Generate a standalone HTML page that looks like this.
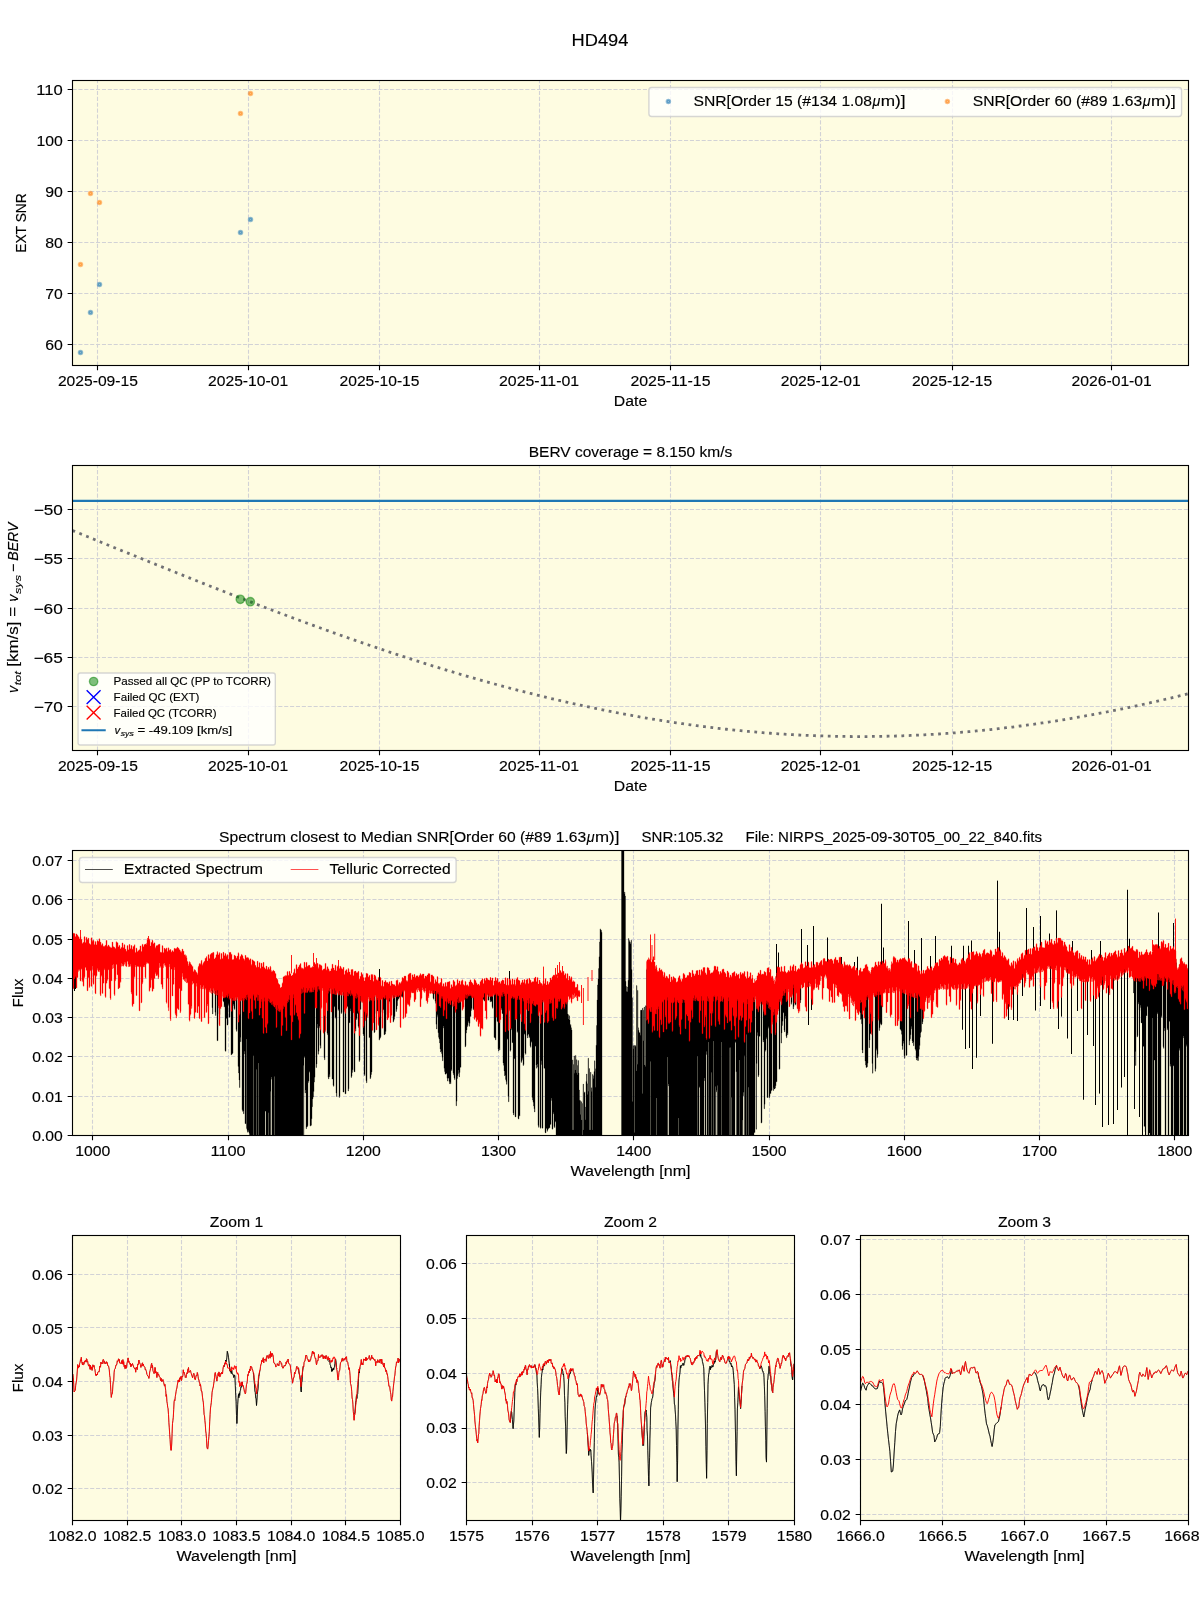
<!DOCTYPE html>
<html><head><meta charset="utf-8"><title>HD494</title>
<style>html,body{margin:0;padding:0;background:#fff}svg{display:block;will-change:transform}text{font-family:"Liberation Sans", sans-serif;white-space:pre;stroke:#000;stroke-width:0.14px}</style>
</head><body>
<svg width="1200" height="1600" viewBox="0 0 1200 1600" font-family='"Liberation Sans", sans-serif' fill="#000">
<defs>
<clipPath id="c0"><rect x="72.5" y="80.5" width="1116.0" height="285.0"/></clipPath>
<clipPath id="c1"><rect x="72.5" y="465.5" width="1116.0" height="285.0"/></clipPath>
<clipPath id="c2"><rect x="72.5" y="850.5" width="1116.0" height="285.0"/></clipPath>
<clipPath id="c3"><rect x="72.5" y="1235.5" width="328.0" height="285.0"/></clipPath>
<clipPath id="c4"><rect x="466.5" y="1235.5" width="328.0" height="285.0"/></clipPath>
<clipPath id="c5"><rect x="860.5" y="1235.5" width="328.0" height="285.0"/></clipPath>
</defs>
<rect width="1200" height="1600" fill="#fff"/>
<rect x="72.5" y="80.5" width="1116.0" height="285.0" fill="#FEFCE1"/>
<path d="M97.5 365.5V80.5M248.5 365.5V80.5M379.5 365.5V80.5M539.5 365.5V80.5M670.5 365.5V80.5M820.5 365.5V80.5M952.5 365.5V80.5M1111.5 365.5V80.5M72.5 344.5H1188.5M72.5 293.5H1188.5M72.5 242.5H1188.5M72.5 191.5H1188.5M72.5 140.5H1188.5M72.5 89.5H1188.5" stroke="#d2d2d6" stroke-width="1.11" stroke-dasharray="4.1 1.78" fill="none"/>
<g clip-path="url(#c0)">
<circle cx="80.5" cy="352.5" r="1.7" fill="#1f77b4" fill-opacity="0.5"/><circle cx="80.5" cy="352.5" r="1.7" fill="none" stroke="#1f77b4" stroke-opacity="0.5" stroke-width="2.08"/>
<circle cx="90.5" cy="312.4" r="1.7" fill="#1f77b4" fill-opacity="0.5"/><circle cx="90.5" cy="312.4" r="1.7" fill="none" stroke="#1f77b4" stroke-opacity="0.5" stroke-width="2.08"/>
<circle cx="99.5" cy="284.5" r="1.7" fill="#1f77b4" fill-opacity="0.5"/><circle cx="99.5" cy="284.5" r="1.7" fill="none" stroke="#1f77b4" stroke-opacity="0.5" stroke-width="2.08"/>
<circle cx="240.5" cy="232.4" r="1.7" fill="#1f77b4" fill-opacity="0.5"/><circle cx="240.5" cy="232.4" r="1.7" fill="none" stroke="#1f77b4" stroke-opacity="0.5" stroke-width="2.08"/>
<circle cx="250.5" cy="219.4" r="1.7" fill="#1f77b4" fill-opacity="0.5"/><circle cx="250.5" cy="219.4" r="1.7" fill="none" stroke="#1f77b4" stroke-opacity="0.5" stroke-width="2.08"/>
<circle cx="80.5" cy="264.4" r="1.7" fill="#ff7f0e" fill-opacity="0.5"/><circle cx="80.5" cy="264.4" r="1.7" fill="none" stroke="#ff7f0e" stroke-opacity="0.5" stroke-width="2.08"/>
<circle cx="90.5" cy="193.5" r="1.7" fill="#ff7f0e" fill-opacity="0.5"/><circle cx="90.5" cy="193.5" r="1.7" fill="none" stroke="#ff7f0e" stroke-opacity="0.5" stroke-width="2.08"/>
<circle cx="99.5" cy="202.5" r="1.7" fill="#ff7f0e" fill-opacity="0.5"/><circle cx="99.5" cy="202.5" r="1.7" fill="none" stroke="#ff7f0e" stroke-opacity="0.5" stroke-width="2.08"/>
<circle cx="240.5" cy="113.4" r="1.7" fill="#ff7f0e" fill-opacity="0.5"/><circle cx="240.5" cy="113.4" r="1.7" fill="none" stroke="#ff7f0e" stroke-opacity="0.5" stroke-width="2.08"/>
<circle cx="250.5" cy="93.5" r="1.7" fill="#ff7f0e" fill-opacity="0.5"/><circle cx="250.5" cy="93.5" r="1.7" fill="none" stroke="#ff7f0e" stroke-opacity="0.5" stroke-width="2.08"/>
<rect x="648.9" y="87.44" width="532.66" height="29.11" rx="2.8" ry="2.8" fill="#fff" fill-opacity="0.8" stroke="#ccc" stroke-opacity="0.8" stroke-width="1.39"/>
<circle cx="668.4" cy="101.5" r="1.7" fill="#1f77b4" fill-opacity="0.5"/><circle cx="668.4" cy="101.5" r="1.7" fill="none" stroke="#1f77b4" stroke-opacity="0.5" stroke-width="2.08"/>
<circle cx="947.4" cy="101.5" r="1.7" fill="#ff7f0e" fill-opacity="0.5"/><circle cx="947.4" cy="101.5" r="1.7" fill="none" stroke="#ff7f0e" stroke-opacity="0.5" stroke-width="2.08"/>
</g>
<path d="M97.5 365.5v4.86M248.5 365.5v4.86M379.5 365.5v4.86M539.5 365.5v4.86M670.5 365.5v4.86M820.5 365.5v4.86M952.5 365.5v4.86M1111.5 365.5v4.86M72.5 344.5h-4.86M72.5 293.5h-4.86M72.5 242.5h-4.86M72.5 191.5h-4.86M72.5 140.5h-4.86M72.5 89.5h-4.86" stroke="#000" stroke-width="1.11" fill="none"/>
<rect x="72.5" y="80.5" width="1116.0" height="285.0" fill="none" stroke="#000" stroke-width="1.11"/>
<rect x="72.5" y="465.5" width="1116.0" height="285.0" fill="#FEFCE1"/>
<path d="M97.5 750.5V465.5M248.5 750.5V465.5M379.5 750.5V465.5M539.5 750.5V465.5M670.5 750.5V465.5M820.5 750.5V465.5M952.5 750.5V465.5M1111.5 750.5V465.5M72.5 706.5H1188.5M72.5 657.5H1188.5M72.5 608.5H1188.5M72.5 558.5H1188.5M72.5 509.5H1188.5" stroke="#d2d2d6" stroke-width="1.11" stroke-dasharray="4.1 1.78" fill="none"/>
<g clip-path="url(#c1)">
<path d="M72.5 530.54L74.5 531.35L76.5 532.17L78.5 532.99L80.5 533.8L82.5 534.62L84.5 535.44L86.5 536.25L88.5 537.07L90.5 537.88L92.5 538.7L94.5 539.52L96.5 540.33L98.5 541.15L100.5 541.96L102.5 542.78L104.5 543.6L106.5 544.41L108.5 545.23L110.5 546.04L112.5 546.86L114.5 547.67L116.5 548.49L118.5 549.3L120.5 550.11L122.5 550.93L124.5 551.74L126.5 552.55L128.5 553.37L130.5 554.18L132.5 554.99L134.5 555.8L136.5 556.62L138.5 557.43L140.5 558.24L142.5 559.05L144.5 559.86L146.5 560.67L148.5 561.48L150.5 562.29L152.5 563.09L154.5 563.9L156.5 564.71L158.5 565.52L160.5 566.32L162.5 567.13L164.5 567.93L166.5 568.74L168.5 569.54L170.5 570.35L172.5 571.15L174.5 571.95L176.5 572.75L178.5 573.55L180.5 574.36L182.5 575.16L184.5 575.95L186.5 576.75L188.5 577.55L190.5 578.35L192.5 579.14L194.5 579.94L196.5 580.74L198.5 581.53L200.5 582.32L202.5 583.12L204.5 583.91L206.5 584.7L208.5 585.49L210.5 586.28L212.5 587.07L214.5 587.85L216.5 588.64L218.5 589.43L220.5 590.21L222.5 591L224.5 591.78L226.5 592.56L228.5 593.34L230.5 594.12L232.5 594.9L234.5 595.68L236.5 596.46L238.5 597.24L240.5 598.01L242.5 598.78L244.5 599.56L246.5 600.33L248.5 601.1L250.5 601.87L252.5 602.64L254.5 603.41L256.5 604.18L258.5 604.94L260.5 605.71L262.5 606.47L264.5 607.23L266.5 607.99L268.5 608.75L270.5 609.51L272.5 610.27L274.5 611.02L276.5 611.78L278.5 612.53L280.5 613.28L282.5 614.03L284.5 614.78L286.5 615.53L288.5 616.28L290.5 617.03L292.5 617.77L294.5 618.51L296.5 619.25L298.5 619.99L300.5 620.73L302.5 621.47L304.5 622.21L306.5 622.94L308.5 623.67L310.5 624.41L312.5 625.14L314.5 625.87L316.5 626.59L318.5 627.32L320.5 628.04L322.5 628.76L324.5 629.49L326.5 630.21L328.5 630.92L330.5 631.64L332.5 632.36L334.5 633.07L336.5 633.78L338.5 634.49L340.5 635.2L342.5 635.91L344.5 636.61L346.5 637.31L348.5 638.02L350.5 638.72L352.5 639.41L354.5 640.11L356.5 640.81L358.5 641.5L360.5 642.19L362.5 642.88L364.5 643.57L366.5 644.25L368.5 644.94L370.5 645.62L372.5 646.3L374.5 646.98L376.5 647.66L378.5 648.33L380.5 649.01L382.5 649.68L384.5 650.35L386.5 651.02L388.5 651.68L390.5 652.35L392.5 653.01L394.5 653.67L396.5 654.33L398.5 654.98L400.5 655.64L402.5 656.29L404.5 656.94L406.5 657.59L408.5 658.23L410.5 658.88L412.5 659.52L414.5 660.16L416.5 660.8L418.5 661.43L420.5 662.07L422.5 662.7L424.5 663.33L426.5 663.96L428.5 664.58L430.5 665.21L432.5 665.83L434.5 666.45L436.5 667.06L438.5 667.68L440.5 668.29L442.5 668.9L444.5 669.51L446.5 670.12L448.5 670.72L450.5 671.32L452.5 671.92L454.5 672.52L456.5 673.11L458.5 673.7L460.5 674.3L462.5 674.88L464.5 675.47L466.5 676.05L468.5 676.63L470.5 677.21L472.5 677.79L474.5 678.36L476.5 678.94L478.5 679.5L480.5 680.07L482.5 680.64L484.5 681.2L486.5 681.76L488.5 682.32L490.5 682.87L492.5 683.42L494.5 683.98L496.5 684.52L498.5 685.07L500.5 685.61L502.5 686.15L504.5 686.69L506.5 687.23L508.5 687.76L510.5 688.29L512.5 688.82L514.5 689.34L516.5 689.87L518.5 690.39L520.5 690.9L522.5 691.42L524.5 691.93L526.5 692.44L528.5 692.95L530.5 693.46L532.5 693.96L534.5 694.46L536.5 694.95L538.5 695.45L540.5 695.94L542.5 696.43L544.5 696.92L546.5 697.4L548.5 697.88L550.5 698.36L552.5 698.84L554.5 699.31L556.5 699.78L558.5 700.25L560.5 700.72L562.5 701.18L564.5 701.64L566.5 702.1L568.5 702.55L570.5 703L572.5 703.45L574.5 703.9L576.5 704.34L578.5 704.78L580.5 705.22L582.5 705.65L584.5 706.09L586.5 706.52L588.5 706.94L590.5 707.37L592.5 707.79L594.5 708.2L596.5 708.62L598.5 709.03L600.5 709.44L602.5 709.85L604.5 710.25L606.5 710.65L608.5 711.05L610.5 711.45L612.5 711.84L614.5 712.23L616.5 712.62L618.5 713L620.5 713.38L622.5 713.76L624.5 714.13L626.5 714.51L628.5 714.88L630.5 715.24L632.5 715.6L634.5 715.97L636.5 716.32L638.5 716.68L640.5 717.03L642.5 717.38L644.5 717.72L646.5 718.06L648.5 718.4L650.5 718.74L652.5 719.07L654.5 719.4L656.5 719.73L658.5 720.06L660.5 720.38L662.5 720.7L664.5 721.01L666.5 721.32L668.5 721.63L670.5 721.94L672.5 722.24L674.5 722.54L676.5 722.84L678.5 723.13L680.5 723.42L682.5 723.71L684.5 724L686.5 724.28L688.5 724.56L690.5 724.83L692.5 725.1L694.5 725.37L696.5 725.64L698.5 725.9L700.5 726.16L702.5 726.42L704.5 726.67L706.5 726.92L708.5 727.17L710.5 727.41L712.5 727.65L714.5 727.89L716.5 728.13L718.5 728.36L720.5 728.59L722.5 728.81L724.5 729.03L726.5 729.25L728.5 729.47L730.5 729.68L732.5 729.89L734.5 730.09L736.5 730.3L738.5 730.5L740.5 730.69L742.5 730.89L744.5 731.08L746.5 731.26L748.5 731.45L750.5 731.63L752.5 731.81L754.5 731.98L756.5 732.15L758.5 732.32L760.5 732.48L762.5 732.64L764.5 732.8L766.5 732.96L768.5 733.11L770.5 733.26L772.5 733.4L774.5 733.54L776.5 733.68L778.5 733.82L780.5 733.95L782.5 734.08L784.5 734.2L786.5 734.32L788.5 734.44L790.5 734.56L792.5 734.67L794.5 734.78L796.5 734.89L798.5 734.99L800.5 735.09L802.5 735.18L804.5 735.28L806.5 735.37L808.5 735.45L810.5 735.53L812.5 735.61L814.5 735.69L816.5 735.76L818.5 735.83L820.5 735.9L822.5 735.96L824.5 736.02L826.5 736.08L828.5 736.13L830.5 736.18L832.5 736.23L834.5 736.27L836.5 736.31L838.5 736.35L840.5 736.38L842.5 736.41L844.5 736.44L846.5 736.46L848.5 736.48L850.5 736.5L852.5 736.52L854.5 736.53L856.5 736.53L858.5 736.54L860.5 736.54L862.5 736.54L864.5 736.53L866.5 736.52L868.5 736.51L870.5 736.49L872.5 736.47L874.5 736.45L876.5 736.42L878.5 736.4L880.5 736.36L882.5 736.33L884.5 736.29L886.5 736.25L888.5 736.2L890.5 736.15L892.5 736.1L894.5 736.04L896.5 735.99L898.5 735.92L900.5 735.86L902.5 735.79L904.5 735.72L906.5 735.64L908.5 735.56L910.5 735.48L912.5 735.4L914.5 735.31L916.5 735.22L918.5 735.12L920.5 735.03L922.5 734.92L924.5 734.82L926.5 734.71L928.5 734.6L930.5 734.49L932.5 734.37L934.5 734.25L936.5 734.12L938.5 734L940.5 733.87L942.5 733.73L944.5 733.59L946.5 733.45L948.5 733.31L950.5 733.16L952.5 733.01L954.5 732.86L956.5 732.7L958.5 732.54L960.5 732.38L962.5 732.21L964.5 732.04L966.5 731.87L968.5 731.69L970.5 731.52L972.5 731.33L974.5 731.15L976.5 730.96L978.5 730.77L980.5 730.57L982.5 730.37L984.5 730.17L986.5 729.97L988.5 729.76L990.5 729.55L992.5 729.33L994.5 729.12L996.5 728.89L998.5 728.67L1000.5 728.44L1002.5 728.21L1004.5 727.98L1006.5 727.74L1008.5 727.5L1010.5 727.26L1012.5 727.01L1014.5 726.77L1016.5 726.51L1018.5 726.26L1020.5 726L1022.5 725.74L1024.5 725.47L1026.5 725.2L1028.5 724.93L1030.5 724.66L1032.5 724.38L1034.5 724.1L1036.5 723.82L1038.5 723.53L1040.5 723.24L1042.5 722.95L1044.5 722.65L1046.5 722.35L1048.5 722.05L1050.5 721.75L1052.5 721.44L1054.5 721.13L1056.5 720.81L1058.5 720.5L1060.5 720.18L1062.5 719.85L1064.5 719.53L1066.5 719.2L1068.5 718.87L1070.5 718.53L1072.5 718.19L1074.5 717.85L1076.5 717.51L1078.5 717.16L1080.5 716.81L1082.5 716.46L1084.5 716.1L1086.5 715.74L1088.5 715.38L1090.5 715.01L1092.5 714.64L1094.5 714.27L1096.5 713.9L1098.5 713.52L1100.5 713.14L1102.5 712.76L1104.5 712.38L1106.5 711.99L1108.5 711.6L1110.5 711.2L1112.5 710.8L1114.5 710.4L1116.5 710L1118.5 709.6L1120.5 709.19L1122.5 708.77L1124.5 708.36L1126.5 707.94L1128.5 707.52L1130.5 707.1L1132.5 706.68L1134.5 706.25L1136.5 705.82L1138.5 705.38L1140.5 704.94L1142.5 704.5L1144.5 704.06L1146.5 703.62L1148.5 703.17L1150.5 702.72L1152.5 702.27L1154.5 701.81L1156.5 701.35L1158.5 700.89L1160.5 700.42L1162.5 699.96L1164.5 699.49L1166.5 699.02L1168.5 698.54L1170.5 698.06L1172.5 697.58L1174.5 697.1L1176.5 696.61L1178.5 696.12L1180.5 695.63L1182.5 695.14L1184.5 694.64L1186.5 694.14L1188.5 693.64" fill="none" stroke="#707074" stroke-width="2.78" stroke-dasharray="2.78 4.58"/>
<path d="M72.5 500.9H1188.5" stroke="#1f77b4" stroke-width="2.08" fill="none"/>
<circle cx="240.3" cy="599.3" r="4.17" fill="#008000" fill-opacity="0.5"/><circle cx="240.3" cy="599.3" r="4.17" fill="none" stroke="#008000" stroke-opacity="0.5" stroke-width="1.39"/>
<circle cx="250.3" cy="601.7" r="4.17" fill="#008000" fill-opacity="0.5"/><circle cx="250.3" cy="601.7" r="4.17" fill="none" stroke="#008000" stroke-opacity="0.5" stroke-width="1.39"/>
<rect x="78.06" y="672.99" width="197.25" height="71.96" rx="2.2" ry="2.2" fill="#fff" fill-opacity="0.8" stroke="#ccc" stroke-opacity="0.8" stroke-width="1.39"/>
<circle cx="93.6" cy="681.5" r="4.17" fill="#008000" fill-opacity="0.5"/><circle cx="93.6" cy="681.5" r="4.17" fill="none" stroke="#008000" stroke-opacity="0.5" stroke-width="1.39"/>
<path d="M86.66 690.16L100.54 704.04M86.66 704.04L100.54 690.16" stroke="#0000ff" stroke-width="1.39" fill="none"/>
<path d="M86.66 705.66L100.54 719.54M86.66 719.54L100.54 705.66" stroke="#ff0000" stroke-width="1.39" fill="none"/>
<path d="M82.5 730.3H104.7" stroke="#1f77b4" stroke-width="2.08" stroke-linecap="square" fill="none"/>
</g>
<path d="M97.5 750.5v4.86M248.5 750.5v4.86M379.5 750.5v4.86M539.5 750.5v4.86M670.5 750.5v4.86M820.5 750.5v4.86M952.5 750.5v4.86M1111.5 750.5v4.86M72.5 706.5h-4.86M72.5 657.5h-4.86M72.5 608.5h-4.86M72.5 558.5h-4.86M72.5 509.5h-4.86" stroke="#000" stroke-width="1.11" fill="none"/>
<rect x="72.5" y="465.5" width="1116.0" height="285.0" fill="none" stroke="#000" stroke-width="1.11"/>
<rect x="72.5" y="850.5" width="1116.0" height="285.0" fill="#FEFCE1"/>
<path d="M92.5 1135.5V850.5M228.5 1135.5V850.5M363.5 1135.5V850.5M498.5 1135.5V850.5M633.5 1135.5V850.5M769.5 1135.5V850.5M904.5 1135.5V850.5M1039.5 1135.5V850.5M1174.5 1135.5V850.5M72.5 1135.5H1188.5M72.5 1096.5H1188.5M72.5 1056.5H1188.5M72.5 1017.5H1188.5M72.5 978.5H1188.5M72.5 939.5H1188.5M72.5 899.5H1188.5M72.5 860.5H1188.5" stroke="#d2d2d6" stroke-width="1.11" stroke-dasharray="4.1 1.78" fill="none"/>
<g clip-path="url(#c2)">
<path d="M72.5 942.9V942.9H73V942.8H73.5V943H74V943.2H74.5V943.4H75V943.6H75.5V943.8H76V944H76.5V944.2H77V944.4H77.5V944.6H78V944.8H78.5V945H79V945.2H79.5V945.4H80V945.5H80.5V945.6H81V945.7H81.5V945.8H82V945.8H82.5V945.9H83V946H83.5V946.1H84V946.1H84.5V946.2H85V946.3H85.5V946.4H86V946.5H86.5V946.5H87V946.6H87.5V946.7H88V946.8H88.5V946.8H89V946.9H89.5V947H90V947.1H90.5V947.1H91V947.2H91.5V947.3H92V947.4H92.5V947.4H93V947.5H93.5V947.6H94V947.7H94.5V947.7H95V947.8H95.5V947.9H96V948H96.5V948H97V948.1H97.5V948.2H98V948.3H98.5V948.4H99V948.4H99.5V948.5H100V948.6H100.5V948.7H101V948.7H101.5V948.8H102V948.9H102.5V949H103V949.1H103.5V949.2H104V949.3H104.5V949.4H105V949.5H105.5V949.6H106V949.7H106.5V949.8H107V949.9H107.5V950H108V950.1H108.5V950.2H109V950.3H109.5V950.4H110V950.5H110.5V950.6H111V950.7H111.5V950.8H112V950.9H112.5V951H113V951.1H113.5V951.2H114V951.3H114.5V951.4H115V951.5H115.5V951.6H116V951.7H116.5V951.8H117V951.9H117.5V952H118V952.1H118.5V952.2H119V952.3H119.5V952.4H120V952.5H120.5V952.6H121V952.7H121.5V952.8H122V952.9H122.5V953H123V953.1H123.5V953.2H124V953.3H124.5V953.4H125V953.4H125.5V953.5H126V953.6H126.5V953.7H127V953.8H127.5V953.9H128V954H128.5V954.1H129V954.2H129.5V954.3H130V954.3H130.5V954.4H131V954.5H131.5V954.6H132V954.7H132.5V954.8H133V954.9H133.5V955H134V955.1H134.5V955.1H135V955.2H135.5V955.3H136V955.4H136.5V955.5H137V955.4H137.5V955.3H138V955.2H138.5V955.2H139V955.1H139.5V955H140V954.9H140.5V954.8H141V954.8H141.5V954.7H142V954.6H142.5V954.5H143V954.4H143.5V954.4H144V954.3H144.5V954.2H145V954.1H145.5V954H146V953.1H146.5V951.4H147V949.6H147.5V947.9H148V947.4H148.5V948.1H149V948.9H149.5V949.6H150V950H150.5V950H151V950H151.5V950H152V950H152.5V950H153V950.1H153.5V950.4H154V950.7H154.5V951H155V951.3H155.5V951.6H156V951.9H156.5V952.1H157V952.4H157.5V952.7H158V953H158.5V953.3H159V953.6H159.5V953.8H160V954.1H160.5V954.4H161V954.7H161.5V955H162V955.3H162.5V955.6H163V955.7H163.5V955.8H164V955.8H164.5V955.9H165V955.9H165.5V955.9H166V956H166.5V956H167V956.1H167.5V956.1H168V956.2H168.5V956.2H169V956.2H169.5V956.3H170V956.3H170.5V956.4H171V956.4H171.5V956.5H172V956.5H172.5V956.5H173V956.6H173.5V956.6H174V956.7H174.5V956.7H175V956.8H175.5V956.8H176V956.8H176.5V956.9H177V956.9H177.5V957H178V957.1H178.5V957.4H179V957.7H179.5V957.9H180V958.2H180.5V958.5H181V958.7H181.5V959H182V959.2H182.5V959.5H183V959.8H183.5V960H184V960.3H184.5V960.6H185V961.3H185.5V962.4H186V963.5H186.5V964.7H187V965.8H187.5V966.9H188V968H188.5V969.2H189V970.3H189.5V971.4H190V972.3H190.5V973H191V973.6H191.5V974.3H192V974.9H192.5V975.6H193V976.2H193.5V976.9H194V977.5H194.5V978.2H195V978.8H195.5V979.5H196V980.1H196.5V980.6H197V979.4H197.5V978.2H198V977H198.5V975.8H199V974.6H199.5V973.4H200V972.2H200.5V971.1H201V969.9H201.5V968.7H202V967.5H202.5V966.3H203V965.6H203.5V965.4H204V965.2H204.5V965.1H205V964.9H205.5V964.7H206V964.5H206.5V964.3H207V964.1H207.5V963.9H208V963.8H208.5V963.6H209V963.4H209.5V963.2H210V963H210.5V962.8H211V962.6H211.5V962.5H212V962.3H212.5V962.1H213V962H213.5V962H214V962H214.5V962H215V962H215.5V962H216V962H216.5V962H217V962H217.5V962H218V962H218.5V962H219V962H219.5V962H220V962H220.5V962H221V962H221.5V962H222V962H222.5V962H223V962H223.5V962H224V962H224.5V962H225V962H225.5V962H226V962H226.5V962H227V962H227.5V962H228V961.9H228.5V961.9H229V961.9H229.5V961.9H230V961.9H230.5V961.9H231V961.8H231.5V961.8H232V961.8H232.5V961.8H233V961.8H233.5V961.8H234V961.7H234.5V961.7H235V961.7H235.5V961.7H236V961.7H236.5V961.7H237V961.6H237.5V961.6H238V961.6H238.5V961.6H239V961.6H239.5V961.6H240V961.5H240.5V961.5H241V961.5H241.5V961.5H242V961.9H242.5V962.2H243V962.5H243.5V962.9H244V963.2H244.5V963.5H245V963.9H245.5V964.2H246V964.5H246.5V964.9H247V965.2H247.5V965.5H248V965.8H248.5V966.2H249V966.5H249.5V966.8H250V967.2H250.5V967.5H251V967.8H251.5V968.2H252V968.5H252.5V968.8H253V969.1H253.5V969.2H254V969.4H254.5V969.5H255V969.7H255.5V969.8H256V970H256.5V970.1H257V970.2H257.5V970.4H258V970.5H258.5V970.7H259V970.8H259.5V971H260V971.1H260.5V971.3H261V971.4H261.5V971.6H262V971.7H262.5V971.9H263V972H263.5V972.2H264V972.3H264.5V972.5H265V972.6H265.5V972.8H266V972.9H266.5V973H267V973.2H267.5V973.3H268V973.5H268.5V973.6H269V973.8H269.5V973.9H270V974.4H270.5V975.2H271V976H271.5V976.8H272V977.6H272.5V978.4H273V979.2H273.5V980H274V980.8H274.5V981.6H275V982.5H275.5V983.5H276V984.5H276.5V985.5H277V986.5H277.5V987.5H278V988.5H278.5V989.5H279V990.5H279.5V991.5H280V991.6H280.5V990.9H281V990.1H281.5V989.4H282V988.6H282.5V987.9H283V987.1H283.5V986.4H284V985.7H284.5V984.9H285V984.2H285.5V983.4H286V982.7H286.5V982H287V981.6H287.5V981.2H288V980.8H288.5V980.4H289V980.1H289.5V979.7H290V979.3H290.5V978.9H291V978.5H291.5V978.2H292V977.8H292.5V977.4H293V977H293.5V976.6H294V976.3H294.5V975.9H295V975.6H295.5V975.4H296V975.2H296.5V975H297V974.7H297.5V974.5H298V974.3H298.5V974.1H299V973.9H299.5V973.7H300V973.5H300.5V973.2H301V973H301.5V972.8H302V972.6H302.5V972.4H303V972.2H303.5V972H304V971.7H304.5V971.5H305V971.3H305.5V971.1H306V970.9H306.5V970.7H307V970.8H307.5V970.8H308V970.9H308.5V971H309V971H309.5V971.1H310V971.2H310.5V971.2H311V971.3H311.5V971.3H312V971.4H312.5V971.5H313V971.5H313.5V971.6H314V971.7H314.5V971.7H315V971.8H315.5V971.8H316V971.9H316.5V972H317V972H317.5V972.1H318V972.2H318.5V972.2H319V972.3H319.5V972.3H320V972.4H320.5V972.5H321V972.5H321.5V972.6H322V972.7H322.5V972.7H323V972.8H323.5V972.8H324V972.9H324.5V973H325V973H325.5V973.1H326V973.1H326.5V973.1H327V973.2H327.5V973.2H328V973.3H328.5V973.3H329V973.4H329.5V973.4H330V973.4H330.5V973.5H331V973.5H331.5V973.6H332V973.6H332.5V973.7H333V973.7H333.5V973.7H334V973.8H334.5V973.8H335V973.9H335.5V973.9H336V974H336.5V974H337V974.2H337.5V974.4H338V974.6H338.5V974.7H339V974.9H339.5V975.1H340V975.3H340.5V975.5H341V975.6H341.5V975.8H342V976H342.5V976.2H343V976.4H343.5V976.5H344V976.7H344.5V976.9H345V977.1H345.5V977.2H346V977.4H346.5V977.5H347V977.7H347.5V977.8H348V978H348.5V978.1H349V978.3H349.5V978.4H350V978.6H350.5V978.7H351V978.9H351.5V979H352V979.2H352.5V979.3H353V979.5H353.5V979.6H354V979.8H354.5V979.9H355V980.1H355.5V980.2H356V980.4H356.5V980.5H357V980.7H357.5V980.8H358V981H358.5V981.1H359V981.3H359.5V981.4H360V981.6H360.5V981.7H361V981.9H361.5V982H362V982.1H362.5V982.2H363V982.4H363.5V982.5H364V982.6H364.5V982.7H365V982.8H365.5V982.9H366V983H366.5V983.1H367V983.3H367.5V983.4H368V983.5H368.5V983.6H369V983.7H369.5V983.8H370V983.9H370.5V984.1H371V984.2H371.5V984.3H372V984.4H372.5V984.5H373V984.6H373.5V984.7H374V984.8H374.5V985H375V985.1H375.5V985.2H376V985.3H376.5V985.4H377V985.5H377.5V985.6H378V985.9H378.5V986.2H379V986.5H379.5V986.9H380V987.2H380.5V987.5H381V987.9H381.5V988.2H382V988.5H382.5V988.9H383V989.2H383.5V989.5H384V989.9H384.5V990.2H385V990.5H385.5V990.9H386V991.2H386.5V991.5H387V991.4H387.5V991.4H388V991.4H388.5V991.3H389V991.3H389.5V991.2H390V991.2H390.5V991.1H391V991.1H391.5V991H392V991H392.5V990.9H393V990.9H393.5V990.8H394V990.8H394.5V990.7H395V990.5H395.5V990.2H396V989.9H396.5V989.6H397V989.3H397.5V989H398V988.7H398.5V988.4H399V988H399.5V987.7H400V987.4H400.5V987.1H401V986.8H401.5V986.5H402V986.2H402.5V985.9H403V985.6H403.5V985.4H404V985.2H404.5V985.1H405V984.9H405.5V984.7H406V984.5H406.5V984.3H407V984.1H407.5V983.9H408V983.8H408.5V983.6H409V983.4H409.5V983.2H410V983H410.5V982.8H411V982.6H411.5V982.5H412V982.3H412.5V982.1H413V982H413.5V982.1H414V982.1H414.5V982.1H415V982.2H415.5V982.2H416V982.2H416.5V982.3H417V982.3H417.5V982.3H418V982.4H418.5V982.4H419V982.5H419.5V982.5H420V982.5H420.5V982.6H421V982.6H421.5V982.6H422V982.7H422.5V982.7H423V982.7H423.5V982.8H424V982.8H424.5V982.9H425V982.9H425.5V982.9H426V983H426.5V983H427V983.2H427.5V983.4H428V983.5H428.5V983.7H429V983.9H429.5V984.1H430V984.2H430.5V984.4H431V984.6H431.5V984.8H432V984.9H432.5V985.1H433V985.3H433.5V985.5H434V985.6H434.5V985.8H435V986H435.5V986.2H436V986.3H436.5V986.5H437V986.7H437.5V986.9H438V987.1H438.5V987.3H439V987.5H439.5V987.6H440V987.8H440.5V988H441V988.2H441.5V988.4H442V988.6H442.5V988.8H443V989H443.5V989.2H444V989.3H444.5V989.5H445V989.7H445.5V989.9H446V990.1H446.5V990.3H447V990.5H447.5V990.7H448V990.8H448.5V991H449V991.2H449.5V991.4H450V991.4H450.5V991.3H451V991.1H451.5V991H452V990.8H452.5V990.7H453V990.5H453.5V990.4H454V990.2H454.5V990.1H455V989.9H455.5V989.8H456V989.6H456.5V989.5H457V989.3H457.5V989.2H458V989H458.5V988.9H459V988.7H459.5V988.6H460V988.4H460.5V988.3H461V988.1H461.5V988H462V988.1H462.5V988.3H463V988.4H463.5V988.5H464V988.6H464.5V988.7H465V988.9H465.5V989H466V989.1H466.5V989.2H467V989.3H467.5V989.5H468V989.6H468.5V989.7H469V989.8H469.5V989.9H470V989.9H470.5V989.8H471V989.7H471.5V989.6H472V989.4H472.5V989.3H473V989.2H473.5V989H474V988.9H474.5V988.8H475V988.7H475.5V988.5H476V988.4H476.5V988.3H477V988.1H477.5V988H478V987.9H478.5V987.8H479V987.7H479.5V987.7H480V987.7H480.5V987.7H481V987.7H481.5V987.7H482V987.7H482.5V987.7H483V987.7H483.5V987.7H484V987.7H484.5V987.7H485V987.7H485.5V987.7H486V987.7H486.5V987.7H487V987.7H487.5V987.7H488V987.7H488.5V987.7H489V987.7H489.5V987.7H490V987.7H490.5V987.7H491V987.7H491.5V987.7H492V987.7H492.5V987.7H493V987.7H493.5V987.7H494V987.7H494.5V987.7H495V987.7H495.5V987.7H496V987.7H496.5V987.7H497V987.7H497.5V987.7H498V987.7H498.5V987.7H499V987.7H499.5V987.6H500V987.6H500.5V987.6H501V987.6H501.5V987.6H502V987.6H502.5V987.5H503V987.5H503.5V987.5H504V987.5H504.5V987.5H505V987.5H505.5V987.5H506V987.4H506.5V987.4H507V987.4H507.5V987.4H508V987.4H508.5V987.4H509V987.3H509.5V987.3H510V987.3H510.5V987.3H511V987.3H511.5V987.3H512V987.2H512.5V987.2H513V987.2H513.5V987.2H514V987.2H514.5V987.2H515V987.1H515.5V987.1H516V987.1H516.5V987.1H517V987.1H517.5V987.1H518V987H518.5V987H519V987H519.5V987H520V987H520.5V987H521V987H521.5V986.9H522V986.9H522.5V986.9H523V986.9H523.5V986.9H524V986.9H524.5V986.8H525V986.8H525.5V986.8H526V986.8H526.5V986.8H527V986.8H527.5V986.9H528V986.9H528.5V986.9H529V986.9H529.5V986.9H530V987H530.5V987H531V987H531.5V987H532V987H532.5V987H533V987.1H533.5V987.1H534V987.1H534.5V987.1H535V987.1H535.5V987.2H536V987.2H536.5V987.2H537V987.2H537.5V987.2H538V987.2H538.5V987.3H539V987.3H539.5V987.3H540V987.3H540.5V987.3H541V987.4H541.5V987.4H542V987.4H542.5V987.4H543V987.4H543.5V987.4H544V987.5H544.5V987.5H545V987.5H545.5V987.5H546V987.5H546.5V987.6H547V987.6H547.5V987.6H548V987.6H548.5V987.6H549V987.7H549.5V987.7H550V987.7H550.5V987.5H551V987H551.5V986.5H552V986H552.5V985.4H553V984.9H553.5V984.4H554V983.8H554.5V983.3H555V982.8H555.5V982.3H556V981.9H556.5V981.7H557V981.5H557.5V981.3H558V981.1H558.5V980.9H559V980.7H559.5V980.5H560V980.3H560.5V980.1H561V980.1H561.5V980.4H562V980.6H562.5V980.9H563V981.1H563.5V981.4H564V981.6H564.5V981.9H565V982.1H565.5V982.4H566V982.6H566.5V982.9H567V983.1H567.5V1014H568V1014.7H568.5V1019H569V1015.8H569.5V1019.9H570V1025.6H570.5V1024.6H571V1027.8H571.5V1029.9H572V1130H572.5V1059.9H573V1064.6H573.5V1130H574V1055.9H574.5V1073.2H575V1070.1H575.5V1055.4H576V1072.7H576.5V1059.7H577V1065.4H577.5V1074.8H578V1060.6H578.5V1073H579V1090.1H579.5V1100.3H580V1100.7H580.5V1114.5H581V1101.7H581.5V1120.1H582V1137.3H582.5V1103.4H583V1084.1H583.5V1130H584V1093.1H584.5V1091.9H585V1119.7H585.5V1107.1H586V1081.4H586.5V1074H587V1094.6H587.5V1083.8H588V1058.2H588.5V1091.3H589V1068.6H589.5V1130H590V1130H590.5V1072.2H591V1091.5H591.5V1087.8H592V1130H592.5V1074.4H593V1075.7H593.5V1078.4H594V1071.6H594.5V1060.8H595V1087.3H595.5V1068.8H596V1045.2H596.5V1025.5H597V999.9H597.5V984.9H598V979.1H598.5V968.6H599V956.8H599.5V941.9H600V928.9H600.5V930.1H601V930.2H601.5V932.3H602V1137H601.5V1137H601V1137H600.5V1137H600V1137H599.5V1137H599V1137H598.5V1137H598V1137H597.5V1137H597V1137H596.5V1137H596V1137H595.5V1137H595V1137H594.5V1137H594V1137H593.5V1137H593V1137H592.5V1137H592V1137H591.5V1137H591V1137H590.5V1137H590V1137H589.5V1137H589V1137H588.5V1137H588V1137H587.5V1137H587V1137H586.5V1137H586V1137H585.5V1137H585V1137H584.5V1137H584V1137H583.5V1137H583V1137H582.5V1137H582V1137H581.5V1137H581V1137H580.5V1137H580V1137H579.5V1137H579V1137H578.5V1137H578V1137H577.5V1137H577V1137H576.5V1137H576V1137H575.5V1137H575V1137H574.5V1137H574V1137H573.5V1137H573V1137H572.5V1137H572V1137H571.5V1137H571V1137H570.5V1137H570V1137H569.5V1137H569V1137H568.5V1137H568V1137H567.5V1137H567V1137H566.5V1137H566V1137H565.5V1137H565V1137H564.5V1137H564V1137H563.5V1137H563V1137H562.5V1137H562V1137H561.5V1137H561V1137H560.5V1137H560V1137H559.5V1137H559V1137H558.5V1137H558V1137H557.5V1137H557V1137H556.5V1137H556V1122.1H555.5V1121H555V1127.6H554.5V1126.5H554V1113.9H553.5V1112.5H553V1128.7H552.5V1129.2H552V1100.4H551.5V1098H551V1124.4H550.5V1124.3H550V1127.9H549.5V1127.2H549V1128.6H548.5V1128.4H548V1130H547.5V1131.3H547V1128.2H546.5V1128.6H546V1133H545.5V1132.5H545V1068.3H544.5V1068.3H544V997.1H543.5V997.2H543V1128.2H542.5V1128H542V1064.5H541.5V1060.7H541V1128.3H540.5V1127.5H540V998H539.5V998.1H539V1127.3H538.5V1125.4H538V1067.1H537.5V1063.9H537V1068.2H536.5V1065H536V1046.2H535.5V1046H535V1112H534.5V1108.8H534V1105.9H533.5V1102.2H533V1100H532.5V1097.4H532V1042.3H531.5V1041.4H531V1047.2H530.5V1045.8H530V1036.5H529.5V1037.5H529V1034.2H528.5V1034.3H528V1038H527.5V1035.5H527V994.7H526.5V994.5H526V1054.3H525.5V1053H525V1034.2H524.5V1033.7H524V1064.6H523.5V1065.5H523V1057.8H522.5V1059.4H522V1061.2H521.5V1062.4H521V992.3H520.5V992.1H520V1116.1H519.5V1115.3H519V1119.1H518.5V1118.4H518V1031.3H517.5V1032.3H517V991.4H516.5V991.3H516V1116.9H515.5V1116.7H515V1058.4H514.5V1058.8H514V1114.9H513.5V1112.9H513V1042.4H512.5V1042.7H512V1029.8H511.5V1028.6H511V1050H510.5V1051.2H510V990H509.5V989.9H509V1101.8H508.5V1096.3H508V1039.3H507.5V1038.8H507V1084.3H506.5V1081.5H506V1079.6H505.5V1075.2H505V1075.7H504.5V1070.9H504V1065.3H503.5V1063.1H503V1013.7H502.5V1013.4H502V1008H501.5V1009.4H501V1010.3H500.5V1009.9H500V1050H499.5V1048.6H499V1051.1H498.5V1049H498V1021.8H497.5V1021.3H497V988.7H496.5V988.7H496V1039.9H495.5V1038.3H495V1037.7H494.5V1037.3H494V988.7H493.5V988.7H493V1008.2H492.5V1006.7H492V1001.5H491.5V1001.2H491V1000.6H490.5V1001.9H490V988.7H489.5V988.7H489V1000.2H488.5V1000H488V988.7H487.5V988.7H487V1000.6H486.5V1001.5H486V999.6H485.5V999.7H485V1001.1H484.5V1000.6H484V999.3H483.5V999.6H483V1000H482.5V999.6H482V990.1H481.5V990.2H481V990.4H480.5V990.5H480V990.7H479.5V1000.4H479V1000.2H478.5V1001.5H478V1005.2H477.5V1003.9H477V991.5H476.5V991.6H476V991.8H475.5V991.9H475V991.8H474.5V991.5H474V1008.7H473.5V1009.8H473V990.5H472.5V990.2H472V1008.4H471.5V1010.4H471V1016.5H470.5V1016.3H470V1023.3H469.5V1026.3H469V1021.3H468.5V1022.4H468V1025.4H467.5V1026.7H467V1029.9H466.5V1033.1H466V1045.7H465.5V1046.9H465V991.8H464.5V992.1H464V992.4H463.5V992.7H463V993H462.5V993.3H462V993.6H461.5V993.8H461V1067.3H460.5V1067.3H460V1072.5H459.5V1076.9H459V1070H458.5V1073.6H458V1075.7H457.5V1078.5H457V1101.2H456.5V1105.8H456V997.1H455.5V997.4H455V1079.6H454.5V1077.9H454V1074.9H453.5V1073.2H453V998.5H452.5V998.2H452V1070.6H451.5V1069.6H451V1083.8H450.5V1082.6H450V1083.7H449.5V1081.6H449V1078.3H448.5V1078.1H448V1081.1H447.5V1078.2H447V1073.2H446.5V1073.6H446V1074.2H445.5V1073.9H445V1071.6H444.5V1068.3H444V1028.1H443.5V1025.9H443V1060.8H442.5V1057.3H442V1053.5H441.5V1051.2H441V1052H440.5V1049.1H440V1042.9H439.5V1039.1H439V1037.3H438.5V1032.7H438V1016.5H437.5V1014.8H437V1029H436.5V1024.3H436V1003.3H435.5V1001.2H435V986.6H434.5V986.5H434V999.2H433.5V998.2H433V986.2H432.5V986.1H432V986H431.5V985.9H431V985.8H430.5V985.7H430V985.6H429.5V985.5H429V985.4H428.5V985.3H428V985.2H427.5V985.1H427V985H426.5V984.9H426V984.8H425.5V984.7H425V984.6H424.5V984.5H424V984.4H423.5V984.3H423V984.2H422.5V984.1H422V984H421.5V983.9H421V983.8H420.5V983.7H420V983.7H419.5V983.8H419V983.9H418.5V984H418V984.1H417.5V984.2H417V984.3H416.5V984.4H416V984.5H415.5V984.6H415V984.7H414.5V984.8H414V984.9H413.5V985H413V985.1H412.5V985.2H412V985.3H411.5V985.4H411V985.5H410.5V985.6H410V985.7H409.5V985.8H409V985.9H408.5V986H408V986.1H407.5V986.2H407V986.3H406.5V986.4H406V986.5H405.5V986.6H405V986.7H404.5V986.8H404V992.1H403.5V993.5H403V996.6H402.5V997.3H402V996.5H401.5V996H401V995.9H400.5V997.1H400V997.3H399.5V997.3H399V999.1H398.5V998.6H398V1000.5H397.5V1005.7H397V1009.3H396.5V1011.5H396V989.8H395.5V990H395V1016.5H394.5V1019.2H394V1020.7H393.5V1022.1H393V990.9H392.5V991.1H392V991.3H391.5V991.5H391V1004.4H390.5V1003.6H390V1001.4H389.5V1001.3H389V1012.9H388.5V1012.8H388V1014.2H387.5V1014.6H387V992H386.5V992H386V1031.5H385.5V1034H385V1034.4H384.5V1034.8H384V1009.2H383.5V1010H383V1013.1H382.5V1012.4H382V992H381.5V992H381V1036.8H380.5V1038H380V1038.7H379.5V1040.1H379V992H378.5V992H378V1011H377.5V1010.9H377V1013.6H376.5V1013.6H376V992.2H375.5V992.3H375V1032H374.5V1032.7H374V992.6H373.5V992.8H373V1008.9H372.5V1009.8H372V1071.9H371.5V1074.5H371V1077.5H370.5V1078.7H370V1036.9H369.5V1037.7H369V993.7H368.5V993.9H368V994H367.5V994.1H367V1082.8H366.5V1080.7H366V994.4H365.5V994.5H365V1075.6H364.5V1074.2H364V1035.8H363.5V1034H363V994.8H362.5V994.5H362V994.2H361.5V993.9H361V1009.4H360.5V1009H360V1060.2H359.5V1061.5H359V1027.6H358.5V1026.3H358V1013.4H357.5V1013.4H357V1019.5H356.5V1018.2H356V1031.1H355.5V1028.8H355V1071.9H354.5V1071.6H354V989.2H353.5V988.9H353V1069.8H352.5V1072.5H352V1076.2H351.5V1077.5H351V1008.8H350.5V1011H350V1022.9H349.5V1022.3H349V1088.8H348.5V1091H348V1006.2H347.5V1006.6H347V988H346.5V988H346V1093.8H345.5V1093.8H345V1005.6H344.5V1006.3H344V1092.1H343.5V1092.1H343V987.6H342.5V987.6H342V1012.5H341.5V1013.5H341V987.4H340.5V987.4H340V1096.1H339.5V1097.4H339V1009.1H338.5V1010.3H338V987.1H337.5V987.1H337V1096.6H336.5V1093H336V1018.3H335.5V1017.3H335V1005.9H334.5V1007H334V1086.3H333.5V1085.3H333V1079.1H332.5V1079H332V986H331.5V985.9H331V985.8H330.5V985.7H330V1076.8H329.5V1074.6H329V1079H328.5V1077.3H328V1034.8H327.5V1033.2H327V985H326.5V984.9H326V984.8H325.5V984.7H325V1059.8H324.5V1057.8H324V984.4H323.5V984.3H323V984.2H322.5V984.1H322V984H321.5V983.9H321V1048.2H320.5V1045.4H320V1025.9H319.5V1027.5H319V1051.3H318.5V1054.2H318V1024H317.5V1027.8H317V1064H316.5V1067.6H316V984H315.5V984.1H315V1077.2H314.5V1082.1H314V1091.6H313.5V1097.1H313V1098.9H312.5V1106.7H312V1118.8H311.5V1125.3H311V1125.5H310.5V1126.1H310V1071.6H309.5V1072.2H309V1081.1H308.5V1082.6H308V1125.7H307.5V1126.8H307V1126.9H306.5V1128.7H306V1090.1H305.5V1093H305V1057.6H304.5V1056.6H304V1137H303.5V1065.5H303V1137H302.5V1137H302V1137H301.5V1137H301V1137H300.5V1137H300V1137H299.5V1137H299V1137H298.5V1137H298V1137H297.5V1137H297V1137H296.5V1137H296V1137H295.5V1137H295V1137H294.5V1137H294V1137H293.5V1137H293V1137H292.5V1137H292V1137H291.5V1137H291V1137H290.5V1137H290V1137H289.5V1137H289V1137H288.5V1137H288V1137H287.5V1137H287V1137H286.5V1137H286V1137H285.5V1137H285V1137H284.5V1137H284V1137H283.5V1137H283V1137H282.5V1137H282V1137H281.5V1137H281V1137H280.5V1137H280V1137H279.5V1137H279V1137H278.5V1137H278V1137H277.5V1137H277V1137H276.5V1137H276V1137H275.5V1137H275V1137H274.5V1076.4H274V1137H273.5V1137H273V1137H272.5V1137H272V1077H271.5V1079.2H271V1137H270.5V1091.6H270V1137H269.5V1137H269V1137H268.5V1112.7H268V1137H267.5V1137H267V1137H266.5V1137H266V1111.2H265.5V1111.1H265V1137H264.5V1137H264V1137H263.5V1137H263V1137H262.5V1137H262V1137H261.5V1137H261V1137H260.5V1137H260V1137H259.5V1137H259V1137H258.5V1063H258V1137H257.5V1137H257V1137H256.5V1069.6H256V1137H255.5V1137H255V1137H254.5V1137H254V1137H253.5V1055.7H253V1137H252.5V1137H252V1137H251.5V1137H251V1137H250.5V1137H250V1137H249.5V1133.2H249V1131.9H248.5V1130.4H248V1132.2H247.5V1130.4H247V1128.5H246.5V1038.9H246V1123.7H245.5V1123.6H245V1053.9H244.5V1051.3H244V1113.8H243.5V1111.1H243V1111.3H242.5V1109.8H242V993.2H241.5V993.2H241V1041.7H240.5V1037.6H240V1087.6H239.5V1080H239V1072.9H238.5V1066.4H238V993.6H237.5V993.6H237V1031.3H236.5V1029.6H236V993.4H235.5V993.3H235V1009.4H234.5V1008.5H234V1005.6H233.5V1003.9H233V1053.1H232.5V1054H232V1054.2H231.5V1054.9H231V992.1H230.5V992H230V1017.2H229.5V1017.3H229V1003.7H228.5V1005.2H228V1025H227.5V1025.1H227V1018.2H226.5V1018.4H226V1051.3H225.5V1050.7H225V1005.8H224.5V1007H224V1002H223.5V1000.9H223V989.9H222.5V989.7H222V989.5H221.5V989.3H221V989.1H220.5V988.9H220V1014.6H219.5V1013.9H219V998.5H218.5V998.4H218V1040.7H217.5V1040.6H217V987.6H216.5V987.4H216V1015.5H215.5V1012.2H215V986.8H214.5V986.6H214V986.4H213.5V986.2H213V1013.9H212.5V1007.7H212V985.7H211.5V985.5H211V985.3H210.5V985.1H210V984.9H209.5V984.6H209V984.4H208.5V984.2H208V983.9H207.5V983.7H207V983.5H206.5V983.2H206V983H205.5V982.8H205V982.5H204.5V982.3H204V982H203.5V981.8H203V981.6H202.5V981.3H202V981.1H201.5V980.9H201V980.6H200.5V980.4H200V980.1H199.5V979.9H199V979.7H198.5V979.4H198V979.2H197.5V979H197V978.7H196.5V978.5H196V978.3H195.5V978.2H195V978H194.5V977.8H194V977.6H193.5V977.4H193V977.2H192.5V977.1H192V976.9H191.5V976.7H191V976.5H190.5V976.3H190V976.1H189.5V975.9H189V975.8H188.5V975.6H188V975.4H187.5V975.2H187V975H186.5V974.6H186V974.1H185.5V973.7H185V973.2H184.5V972.8H184V972.4H183.5V971.9H183V971.5H182.5V971H182V970.6H181.5V970.1H181V969.7H180.5V969.2H180V968.8H179.5V968.3H179V967.9H178.5V967.4H178V967H177.5V966.5H177V966.1H176.5V965.6H176V965.2H175.5V964.7H175V964.3H174.5V963.8H174V963.4H173.5V962.9H173V962.5H172.5V962H172V961.6H171.5V961.1H171V960.7H170.5V960.2H170V960H169.5V960H169V960H168.5V959.9H168V959.9H167.5V959.9H167V959.9H166.5V959.9H166V959.8H165.5V959.8H165V959.8H164.5V959.8H164V959.8H163.5V959.7H163V959.7H162.5V959.7H162V959.7H161.5V959.7H161V959.6H160.5V959.6H160V959.6H159.5V959.6H159V959.6H158.5V959.5H158V959.5H157.5V959.5H157V959.5H156.5V959.5H156V959.4H155.5V959.4H155V959.4H154.5V959.4H154V959.4H153.5V959.3H153V959.3H152.5V959.3H152V959.3H151.5V959.3H151V959.2H150.5V959.2H150V959.2H149.5V959.2H149V959.2H148.5V959.2H148V959.1H147.5V959.1H147V959.1H146.5V959.1H146V959.1H145.5V959H145V959H144.5V959H144V959H143.5V959H143V958.9H142.5V958.9H142V958.9H141.5V958.9H141V958.9H140.5V958.8H140V958.8H139.5V958.8H139V958.8H138.5V958.8H138V958.7H137.5V958.7H137V958.7H136.5V958.7H136V958.7H135.5V958.7H135V958.7H134.5V958.7H134V958.7H133.5V958.7H133V958.7H132.5V958.7H132V958.7H131.5V958.7H131V958.7H130.5V958.7H130V958.7H129.5V958.7H129V958.7H128.5V958.7H128V958.7H127.5V958.7H127V958.7H126.5V958.7H126V958.7H125.5V958.7H125V958.7H124.5V958.7H124V958.7H123.5V958.7H123V958.7H122.5V958.7H122V958.7H121.5V958.7H121V958.7H120.5V958.7H120V958.8H119.5V958.9H119V959.1H118.5V959.2H118V959.4H117.5V959.6H117V959.7H116.5V959.9H116V960H115.5V960.2H115V960.3H114.5V960.5H114V960.6H113.5V960.8H113V961H112.5V961.1H112V961.3H111.5V961.4H111V961.6H110.5V961.7H110V961.9H109.5V962.1H109V962.2H108.5V962.4H108V962.5H107.5V962.7H107V962.8H106.5V963H106V963.1H105.5V963.3H105V963.5H104.5V963.6H104V963.8H103.5V963.9H103V964H102.5V963.9H102V963.9H101.5V963.8H101V963.8H100.5V963.8H100V963.7H99.5V963.7H99V963.6H98.5V963.6H98V963.5H97.5V963.5H97V963.5H96.5V963.4H96V963.4H95.5V963.3H95V963.3H94.5V963.2H94V963.2H93.5V963.2H93V963.1H92.5V963.1H92V963H91.5V963H91V962.9H90.5V962.9H90V962.8H89.5V962.8H89V962.8H88.5V962.7H88V962.7H87.5V962.6H87V962.6H86.5V962.5H86V962.5H85.5V962.5H85V962.4H84.5V962.4H84V962.3H83.5V962.3H83V962.2H82.5V962.2H82V962.2H81.5V962.1H81V962.1H80.5V962H80V962.4H79.5V963.3H79V964.2H78.5V965.1H78V965.9H77.5V966.8H77V967.7H76.5V968.6H76V982H75.5V981.5H75V984.8H74.5V984.8H74V986H73.5V986.8H73V985.7H72.5ZM621.5 850.8V850.8H622V845.3H622.5V845.9H623V845.1H623.5V850.6H624V893.7H624.5V892.1H625V896H625.5V981.3H626V986.5H626.5V991.6H627V991.8H627.5V987H628V980.2H628.5V938.5H629V940.6H629.5V941.7H630V943.9H630.5V942.6H631V940.2H631.5V969.6H632V997.8H632.5V1101.6H633V1045.7H633.5V1048.7H634V1045.4H634.5V1132.6H635V1045.6H635.5V1046.5H636V1071H636.5V985.6H637V1064.2H637.5V990.4H638V1027.8H638.5V1030.2H639V1033H639.5V1032.6H640V1035.2H640.5V1010.3H641V1010.3H641.5V1010.1H642V1093.4H642.5V1008.2H643V1010.3H643.5V1040.8H644V1007.1H644.5V1064.9H645V1066.6H645.5V1005.8H646V1006.1H646.5V969.8H647V968.5H647.5V967.2H648V965.9H648.5V964.6H649V964.1H649.5V964.4H650V964.7H650.5V964.9H651V965.2H651.5V965.4H652V965.7H652.5V966H653V966.2H653.5V966.5H654V966.8H654.5V967.2H655V969.2H655.5V971.1H656V973.1H656.5V975.1H657V977H657.5V977.9H658V977.8H658.5V977.7H659V977.6H659.5V977.5H660V977.4H660.5V977.3H661V977.2H661.5V977.1H662V977.3H662.5V977.9H663V978.5H663.5V979H664V979.6H664.5V980.2H665V980.8H665.5V981.4H666V982H666.5V982.5H667V983.1H667.5V983.7H668V984.1H668.5V984.3H669V984.4H669.5V984.6H670V984.8H670.5V984.9H671V985.1H671.5V985.3H672V985.5H672.5V985.6H673V985.8H673.5V986H674V986.2H674.5V986.3H675V986.5H675.5V986.7H676V986.8H676.5V987H677V986.7H677.5V986.5H678V986.2H678.5V986H679V985.7H679.5V985.5H680V985.3H680.5V985H681V984.8H681.5V984.5H682V984.3H682.5V984H683V983.8H683.5V983.5H684V983.3H684.5V983H685V982.8H685.5V982.6H686V982.3H686.5V982.1H687V981.8H687.5V981.6H688V981.3H688.5V981.1H689V980.8H689.5V980.6H690V980.3H690.5V980.1H691V979.9H691.5V979.6H692V979.4H692.5V979.1H693V979H693.5V978.9H694V978.8H694.5V978.8H695V978.7H695.5V978.6H696V978.5H696.5V978.5H697V978.4H697.5V978.3H698V978.3H698.5V978.2H699V978.1H699.5V978.1H700V978H700.5V977.9H701V977.9H701.5V977.8H702V977.7H702.5V977.6H703V977.6H703.5V977.5H704V977.4H704.5V977.4H705V977.3H705.5V977.2H706V977.2H706.5V977.1H707V977H707.5V976.9H708V976.9H708.5V976.8H709V976.7H709.5V976.7H710V976.6H710.5V976.5H711V976.5H711.5V976.4H712V976.3H712.5V976.2H713V976.2H713.5V976.1H714V976H714.5V976H715V975.9H715.5V975.8H716V975.8H716.5V975.7H717V975.9H717.5V976.1H718V976.2H718.5V976.4H719V976.6H719.5V976.7H720V976.9H720.5V977.1H721V977.2H721.5V977.4H722V977.6H722.5V977.7H723V977.9H723.5V978.1H724V978.2H724.5V978.4H725V978.6H725.5V978.7H726V978.9H726.5V979.1H727V979.2H727.5V979.4H728V979.6H728.5V979.7H729V979.9H729.5V980.1H730V980.2H730.5V980.4H731V980.6H731.5V980.7H732V980.7H732.5V980.8H733V980.8H733.5V980.8H734V980.9H734.5V980.9H735V980.9H735.5V981H736V981H736.5V981H737V981.1H737.5V981.1H738V981.1H738.5V981.2H739V981.2H739.5V981.2H740V981.3H740.5V981.3H741V981.3H741.5V981.4H742V981.4H742.5V981.4H743V981.5H743.5V981.5H744V981.5H744.5V981.5H745V981.6H745.5V981.6H746V981.6H746.5V981.7H747V981.7H747.5V981.7H748V981.8H748.5V981.8H749V981.8H749.5V981.9H750V981.9H750.5V981.9H751V982H751.5V982.3H752V985.1H752.5V987.8H753V990.6H753.5V990.7H754V988H754.5V985.3H755V983.8H755.5V983.2H756V982.8H756.5V982.2H757V981.8H757.5V981.2H758V980.8H758.5V980.2H759V979.8H759.5V979.2H760V979H760.5V978.9H761V978.8H761.5V978.6H762V978.5H762.5V978.5H763V978.4H763.5V978.2H764V978.1H764.5V978H765V978H765.5V977.9H766V977.8H766.5V977.6H767V977.5H767.5V977.5H768V977.4H768.5V977.2H769V977.1H769.5V977H770V977.4H770.5V978.3H771V979.2H771.5V980.1H772V980.9H772.5V981.8H773V982.7H773.5V983.6H774V986.2H774.5V990.8H775V990.6H775.5V985.9H776V981.2H776.5V977H777V976.9H777.5V976.9H778V976.8H778.5V976.7H779V976.7H779.5V976.6H780V976.5H780.5V976.5H781V976.4H781.5V976.3H782V976.3H782.5V976.2H783V976.1H783.5V976H784V976H784.5V975.9H785V975.8H785.5V975.8H786V975.7H786.5V975.6H787V975.6H787.5V975.5H788V975.4H788.5V975.4H789V975.3H789.5V975.2H790V975.2H790.5V975.1H791V975H791.5V975H792V974.9H792.5V974.8H793V974.7H793.5V974.6H794V974.5H794.5V974.4H795V974.3H795.5V974.1H796V974H796.5V973.9H797V973.8H797.5V973.7H798V973.5H798.5V973.4H799V973.3H799.5V973.2H800V973.1H800.5V972.9H801V972.8H801.5V972.7H802V972.6H802.5V972.5H803V972.3H803.5V972.2H804V972.1H804.5V972H805V971.8H805.5V971.7H806V971.6H806.5V971.5H807V971.4H807.5V971.3H808V971.3H808.5V971.2H809V971.1H809.5V971H810V971H810.5V970.9H811V970.8H811.5V970.7H812V970.7H812.5V970.6H813V970.5H813.5V970.4H814V970.4H814.5V970.3H815V970.2H815.5V970.1H816V970.1H816.5V970H817V969.9H817.5V969.8H818V969.7H818.5V969.6H819V969.5H819.5V969.4H820V969.3H820.5V969.2H821V969H821.5V968.9H822V968.8H822.5V968.7H823V968.6H823.5V968.5H824V968.3H824.5V968.2H825V968.1H825.5V968H826V967.9H826.5V967.8H827V967.6H827.5V967.5H828V967.4H828.5V967.3H829V967.2H829.5V967.1H830V967H830.5V967H831V967H831.5V967H832V967H832.5V967H833V967H833.5V967H834V967H834.5V967H835V967H835.5V967H836V967H836.5V967H837V967H837.5V967H838V967H838.5V967H839V967H839.5V967H840V967.3H840.5V967.8H841V968.3H841.5V968.8H842V969.4H842.5V969.9H843V970.4H843.5V970.9H844V971.4H844.5V972H845V972.5H845.5V973H846V973.5H846.5V974H847V974.2H847.5V974.3H848V974.5H848.5V974.6H849V974.8H849.5V974.9H850V975.1H850.5V975.2H851V975.4H851.5V975.5H852V975.7H852.5V975.8H853V976H853.5V976.1H854V976.3H854.5V976.4H855V976.6H855.5V976.7H856V976.9H856.5V977H857V977.2H857.5V977.3H858V977.5H858.5V977.6H859V977.8H859.5V977.9H860V977.9H860.5V977.6H861V977.3H861.5V977.1H862V976.8H862.5V976.5H863V976.3H863.5V976H864V975.7H864.5V975.5H865V975.2H865.5V974.9H866V974.7H866.5V974.4H867V974.1H867.5V974.7H868V976.1H868.5V977.5H869V978.9H869.5V980.3H870V980.1H870.5V978.4H871V976.6H871.5V974.9H872V973.8H872.5V973.3H873V972.9H873.5V972.5H874V972H874.5V971.6H875V971.2H875.5V970.7H876V970.3H876.5V969.8H877V969.4H877.5V969H878V968.7H878.5V968.6H879V968.4H879.5V968.3H880V968.2H880.5V968.1H881V967.9H881.5V967.8H882V967.7H882.5V967.6H883V967.4H883.5V967.3H884V967.2H884.5V967.1H885V967.9H885.5V969.6H886V971.4H886.5V973.1H887V974.9H887.5V976.6H888V978.4H888.5V980.1H889V980H889.5V978H890V976H890.5V974H891V972H891.5V970H892V968.6H892.5V967.9H893V967.2H893.5V966.5H894V965.8H894.5V965.1H895V964.4H895.5V964.1H896V964.3H896.5V964.4H897V964.6H897.5V964.8H898V964.9H898.5V965.1H899V965.3H899.5V965.4H900V965.6H900.5V965.8H901V966H901.5V966.1H902V966.3H902.5V966.5H903V966.6H903.5V966.8H904V967H904.5V967.1H905V967.3H905.5V967.5H906V967.6H906.5V967.8H907V968H907.5V968.2H908V968.3H908.5V968.5H909V968.7H909.5V968.9H910V969.3H910.5V969.7H911V970H911.5V970.4H912V970.8H912.5V971.1H913V971.5H913.5V971.9H914V972.2H914.5V972.6H915V973H915.5V973.3H916V973.7H916.5V974.1H917V974.4H917.5V974.8H918V975.2H918.5V975.5H919V975.9H919.5V976.3H920V976.6H920.5V977H921V977.4H921.5V977.7H922V978.1H922.5V978.5H923V978.8H923.5V978.8H924V978.5H924.5V978.2H925V977.8H925.5V977.5H926V977.2H926.5V976.8H927V976.5H927.5V976.2H928V975.8H928.5V975.5H929V975.2H929.5V974.8H930V974.5H930.5V974.2H931V973.8H931.5V973.5H932V973.2H932.5V972.8H933V972.5H933.5V972.2H934V971.9H934.5V971.6H935V971.3H935.5V971H936V970.7H936.5V970.4H937V970.1H937.5V969.8H938V969.5H938.5V969.2H939V968.9H939.5V968.6H940V968.4H940.5V968.1H941V967.8H941.5V967.5H942V967.2H942.5V966.9H943V966.6H943.5V966.3H944V966H944.5V965.7H945V965.4H945.5V965.1H946V965.1H946.5V965.3H947V965.5H947.5V965.8H948V966H948.5V966.2H949V966.4H949.5V966.6H950V966.9H950.5V967.1H951V967.3H951.5V967.5H952V967.8H952.5V968H953V968.2H953.5V968.4H954V968.6H954.5V968.9H955V969.1H955.5V969.3H956V969.5H956.5V969.7H957V970H957.5V970.2H958V970.4H958.5V970.3H959V970H959.5V969.7H960V969.3H960.5V969H961V968.6H961.5V968.3H962V968H962.5V967.6H963V967.3H963.5V966.9H964V966.6H964.5V966.3H965V965.9H965.5V965.6H966V965.2H966.5V964.9H967V964.6H967.5V964.2H968V963.9H968.5V963.5H969V963.2H969.5V962.9H970V962.5H970.5V962.2H971V961.8H971.5V961.5H972V961.2H972.5V961H973V960.9H973.5V960.8H974V960.8H974.5V960.7H975V960.6H975.5V960.5H976V960.5H976.5V960.4H977V960.3H977.5V960.2H978V960.2H978.5V960.1H979V960H979.5V960H980V959.9H980.5V959.8H981V959.8H981.5V959.7H982V959.6H982.5V959.5H983V959.5H983.5V959.4H984V959.3H984.5V959.2H985V959.2H985.5V959.1H986V959H986.5V959H987V958.9H987.5V958.8H988V958.8H988.5V958.7H989V958.6H989.5V958.6H990V958.5H990.5V958.4H991V958.4H991.5V958.3H992V958.3H992.5V958.2H993V958.1H993.5V958.1H994V958H994.5V957.9H995V957.9H995.5V957.8H996V957.7H996.5V957.7H997V957.6H997.5V957.5H998V957.5H998.5V957.4H999V958H999.5V958.6H1000V959.3H1000.5V959.9H1001V960.6H1001.5V961.2H1002V961.9H1002.5V962.6H1003V963.2H1003.5V963.9H1004V964.5H1004.5V965.2H1005V965.8H1005.5V966.5H1006V967.1H1006.5V967.8H1007V968.4H1007.5V968.8H1008V968.9H1008.5V969H1009V969.1H1009.5V969.2H1010V969.3H1010.5V969.4H1011V969.5H1011.5V969.6H1012V969.7H1012.5V969.8H1013V969.9H1013.5V970H1014V970.1H1014.5V970.2H1015V970.3H1015.5V970.4H1016V970.2H1016.5V969.6H1017V969H1017.5V968.5H1018V967.9H1018.5V967.3H1019V966.7H1019.5V966.1H1020V965.5H1020.5V965H1021V964.4H1021.5V963.8H1022V963.2H1022.5V962.6H1023V962H1023.5V961.5H1024V960.9H1024.5V960.3H1025V959.9H1025.5V959.6H1026V959.4H1026.5V959.1H1027V958.9H1027.5V958.6H1028V958.4H1028.5V958.1H1029V957.9H1029.5V957.6H1030V957.4H1030.5V957.1H1031V956.9H1031.5V956.6H1032V956.4H1032.5V956.1H1033V955.9H1033.5V955.6H1034V955.4H1034.5V955.1H1035V954.9H1035.5V954.6H1036V954.4H1036.5V954.1H1037V953.9H1037.5V953.6H1038V953.4H1038.5V953.1H1039V952.9H1039.5V952.6H1040V952.4H1040.5V952.1H1041V951.8H1041.5V951.6H1042V951.3H1042.5V951.1H1043V950.8H1043.5V950.5H1044V950.3H1044.5V950H1045V949.8H1045.5V949.5H1046V949.2H1046.5V949H1047V948.7H1047.5V948.6H1048V948.5H1048.5V948.5H1049V948.5H1049.5V948.4H1050V948.4H1050.5V948.4H1051V948.3H1051.5V948.3H1052V948.3H1052.5V948.2H1053V948.2H1053.5V948.2H1054V948.1H1054.5V948.1H1055V948.1H1055.5V948H1056V948H1056.5V948H1057V947.9H1057.5V947.9H1058V947.9H1058.5V947.8H1059V947.8H1059.5V947.8H1060V948.1H1060.5V948.5H1061V948.8H1061.5V949.2H1062V949.5H1062.5V949.9H1063V950.2H1063.5V950.6H1064V951H1064.5V951.3H1065V951.7H1065.5V952H1066V952.4H1066.5V952.8H1067V953.1H1067.5V953.5H1068V953.8H1068.5V954.2H1069V954.5H1069.5V954.9H1070V955.2H1070.5V955.6H1071V956H1071.5V956.3H1072V956.7H1072.5V957.1H1073V957.5H1073.5V957.9H1074V958.3H1074.5V958.7H1075V959.1H1075.5V959.5H1076V959.9H1076.5V960.3H1077V960.8H1077.5V961.2H1078V961.6H1078.5V962H1079V962.4H1079.5V962.8H1080V963.2H1080.5V963.6H1081V964H1081.5V964.4H1082V964.8H1082.5V965.1H1083V965.4H1083.5V965.7H1084V965.9H1084.5V966.2H1085V966.5H1085.5V966.7H1086V967H1086.5V967.3H1087V967.5H1087.5V967.8H1088V968.1H1088.5V968.3H1089V968.6H1089.5V968.6H1090V968.4H1090.5V968.1H1091V967.9H1091.5V967.6H1092V967.4H1092.5V967.1H1093V966.9H1093.5V966.6H1094V966.4H1094.5V966.1H1095V965.9H1095.5V965.6H1096V965.4H1096.5V965.1H1097V964.9H1097.5V964.6H1098V964.4H1098.5V964.1H1099V963.9H1099.5V963.6H1100V963.5H1100.5V963.4H1101V963.2H1101.5V963.1H1102V963H1102.5V963H1103V962.9H1103.5V962.8H1104V962.6H1104.5V962.5H1105V962.5H1105.5V962.4H1106V962.2H1106.5V962.1H1107V962H1107.5V962H1108V961.9H1108.5V961.8H1109V961.6H1109.5V961.5H1110V961.5H1110.5V961.4H1111V961.2H1111.5V961.1H1112V961H1112.5V961H1113V960.9H1113.5V960.8H1114V960.6H1114.5V960.5H1115V960.5H1115.5V960.4H1116V960.2H1116.5V960.1H1117V960H1117.5V959.9H1118V959.7H1118.5V959.5H1119V959.3H1119.5V959.2H1120V959H1120.5V958.8H1121V958.6H1121.5V958.4H1122V958.2H1122.5V958H1123V957.8H1123.5V957.7H1124V957.5H1124.5V957.3H1125V957.1H1125.5V956.9H1126V956.7H1126.5V956.5H1127V956.3H1127.5V956.2H1128V956H1128.5V955.8H1129V955.6H1129.5V955.4H1130V955.2H1130.5V955H1131V954.8H1131.5V955H1132V955.4H1132.5V955.8H1133V956.2H1133.5V956.6H1134V957H1134.5V957.4H1135V957.8H1135.5V958.2H1136V958.7H1136.5V959.1H1137V959.5H1137.5V959.9H1138V960.3H1138.5V960.7H1139V961.1H1139.5V961.5H1140V961.6H1140.5V961.4H1141V961.2H1141.5V961H1142V960.8H1142.5V960.6H1143V960.4H1143.5V960.2H1144V960H1144.5V959.8H1145V959.5H1145.5V959.3H1146V959.1H1146.5V958.9H1147V958.7H1147.5V958.5H1148V958.3H1148.5V958.1H1149V957.9H1149.5V957.7H1150V957.4H1150.5V957.2H1151V957H1151.5V956.8H1152V956.6H1152.5V956H1153V954.9H1153.5V953.8H1154V952.6H1154.5V951.5H1155V951.3H1155.5V952H1156V952.7H1156.5V953.3H1157V954H1157.5V954.7H1158V954.7H1158.5V954.1H1159V953.5H1159.5V952.9H1160V952.3H1160.5V951.7H1161V951.1H1161.5V950.5H1162V949.9H1162.5V949.3H1163V949.2H1163.5V949.5H1164V949.9H1164.5V950.2H1165V950.6H1165.5V951H1166V951.3H1166.5V951.7H1167V952H1167.5V952.4H1168V952.8H1168.5V953.1H1169V953.5H1169.5V953.8H1170V954.2H1170.5V954.6H1171V955H1171.5V955.5H1172V955.9H1172.5V956.3H1173V956.7H1173.5V957.1H1174V957.5H1174.5V958H1175V958.4H1175.5V958.8H1176V962.8H1176.5V970.2H1177V973.6H1177.5V972.8H1178V972H1178.5V971.2H1179V970.4H1179.5V969.6H1180V968.8H1180.5V968H1181V967.2H1181.5V966.4H1182V966.4H1182.5V967.3H1183V968.2H1183.5V969.1H1184V970H1184.5V970.9H1185V971.8H1185.5V972.6H1186V973.5H1186.5V974.4H1187V975.3H1187.5V976.2H1188V977.1H1188.5V1137H1188V1137H1187.5V1137H1187V1046.3H1186.5V1044.8H1186V1137H1185.5V1137H1185V1137H1184.5V1137H1184V1037.9H1183.5V1035.9H1183V1137H1182.5V1137H1182V1137H1181.5V1137H1181V1137H1180.5V1137H1180V1048.6H1179.5V1050.3H1179V1137H1178.5V1137H1178V1137H1177.5V1137H1177V1137H1176.5V1137H1176V1137H1175.5V1137H1175V1137H1174.5V1137H1174V1065.5H1173.5V1066.1H1173V1137H1172.5V1137H1172V1137H1171.5V1137H1171V1064.3H1170.5V1066.2H1170V1021.5H1169.5V1020.9H1169V1137H1168.5V1137H1168V1028.5H1167.5V1029.8H1167V973.9H1166.5V973.8H1166V1137H1165.5V1137H1165V1028H1164.5V1030.7H1164V1048.3H1163.5V1046.7H1163V973H1162.5V973H1162V1017.3H1161.5V1015.7H1161V1137H1160.5V1137H1160V1137H1159.5V1137H1159V1137H1158.5V1137H1158V1013.9H1157.5V1012.8H1157V1137H1156.5V1137H1156V1137H1155.5V1137H1155V1060H1154.5V1060.1H1154V1137H1153.5V1137H1153V1137H1152.5V1017.9H1152V1137H1151.5V1137H1151V1137H1150.5V1137H1150V1058.4H1149.5V1057.7H1149V1137H1148.5V1137H1148V1005.9H1147.5V1007.1H1147V1016H1146.5V1015.3H1146V1137H1145.5V1131.8H1145V1125.9H1144.5V1126.4H1144V1046.5H1143.5V1046.1H1143V973H1142.5V973H1142V1023H1141.5V1022.7H1141V1007.6H1140.5V1005.3H1140V1010.5H1139.5V1009.9H1139V1004H1138.5V1002.6H1138V1035.7H1137.5V1037H1137V974.1H1136.5V974.2H1136V1065.5H1135.5V1051.4H1135V974.1H1134.5V973.2H1134V993H1133.5V971.4H1133V970.5H1132.5V969.6H1132V968.7H1131.5V967.8H1131V966.9H1130.5V966H1130V965.1H1129.5V964.2H1129V963.3H1128.5V962.4H1128V962.3H1127.5V962.8H1127V963.3H1126.5V963.8H1126V964.3H1125.5V964.8H1125V965.3H1124.5V965.8H1124V966.4H1123.5V966.9H1123V967.4H1122.5V967.9H1122V968.4H1121.5V968.9H1121V969.4H1120.5V969.9H1120V970.4H1119.5V971H1119V971.5H1118.5V972H1118V972.5H1117.5V972.8H1117V972.8H1116.5V972.8H1116V972.8H1115.5V972.8H1115V972.8H1114.5V972.8H1114V972.8H1113.5V972.8H1113V972.8H1112.5V972.8H1112V972.8H1111.5V972.8H1111V972.8H1110.5V972.9H1110V972.9H1109.5V972.9H1109V972.9H1108.5V972.9H1108V972.9H1107.5V972.9H1107V972.9H1106.5V972.9H1106V972.9H1105.5V972.9H1105V972.9H1104.5V972.9H1104V972.9H1103.5V973H1103V973H1102.5V973H1102V973H1101.5V973H1101V973H1100.5V973H1100V973H1099.5V973.1H1099V973.1H1098.5V973.1H1098V973.2H1097.5V973.2H1097V973.3H1096.5V973.3H1096V973.4H1095.5V973.4H1095V973.5H1094.5V973.5H1094V973.5H1093.5V973.6H1093V973.6H1092.5V973.7H1092V973.7H1091.5V973.8H1091V973.8H1090.5V973.8H1090V973.9H1089.5V973.9H1089V974H1088.5V974H1088V974H1087.5V974.1H1087V974.1H1086.5V974.2H1086V974.2H1085.5V974.3H1085V974.3H1084.5V974.4H1084V974.4H1083.5V974.4H1083V974.5H1082.5V974.4H1082V974H1081.5V973.8H1081V973.5H1080.5V973.1H1080V972.9H1079.5V972.5H1079V972.2H1078.5V972H1078V971.6H1077.5V971.4H1077V971H1076.5V970.8H1076V970.5H1075.5V970.1H1075V969.9H1074.5V969.5H1074V969.2H1073.5V969H1073V968.6H1072.5V968.4H1072V968H1071.5V967.8H1071V967.5H1070.5V967.1H1070V966.9H1069.5V966.5H1069V966.2H1068.5V966H1068V965.6H1067.5V965.4H1067V965H1066.5V964.8H1066V964.5H1065.5V964.1H1065V964H1064.5V963.9H1064V963.8H1063.5V963.6H1063V963.5H1062.5V963.5H1062V963.4H1061.5V963.2H1061V963.1H1060.5V963H1060V963H1059.5V962.9H1059V962.8H1058.5V962.6H1058V962.5H1057.5V962.5H1057V962.4H1056.5V962.2H1056V962.1H1055.5V962H1055V962H1054.5V961.9H1054V961.8H1053.5V961.6H1053V961.5H1052.5V961.5H1052V961.4H1051.5V961.2H1051V961.1H1050.5V961H1050V961H1049.5V960.9H1049V960.8H1048.5V960.6H1048V960.5H1047.5V960.7H1047V961H1046.5V961.4H1046V961.7H1045.5V962.1H1045V962.4H1044.5V962.8H1044V963.1H1043.5V963.5H1043V963.8H1042.5V964H1042V964.1H1041.5V964.2H1041V964.4H1040.5V964.5H1040V964.5H1039.5V964.6H1039V964.8H1038.5V964.9H1038V965H1037.5V965H1037V965.1H1036.5V965.2H1036V965.4H1035.5V965.5H1035V965.5H1034.5V965.6H1034V965.8H1033.5V965.9H1033V966H1032.5V966H1032V966.1H1031.5V966.2H1031V966.4H1030.5V966.5H1030V966.5H1029.5V966.6H1029V966.8H1028.5V966.9H1028V967H1027.5V967H1027V967.1H1026.5V967.2H1026V967.4H1025.5V967.5H1025V967.9H1024.5V968.7H1024V969.4H1023.5V970.2H1023V971H1022.5V971.8H1022V972.6H1021.5V973.3H1021V974.1H1020.5V974.9H1020V975.7H1019.5V976.4H1019V977.2H1018.5V978H1018V978.8H1017.5V979.6H1017V980.3H1016.5V981.1H1016V981.5H1015.5V981.5H1015V981.5H1014.5V981.5H1014V981.5H1013.5V981.5H1013V981.5H1012.5V981.5H1012V981.5H1011.5V981.5H1011V981.5H1010.5V981.5H1010V981.5H1009.5V981.5H1009V981.5H1008.5V981.5H1008V981.5H1007.5V981.3H1007V980.9H1006.5V980.5H1006V980.1H1005.5V979.7H1005V979.3H1004.5V978.9H1004V978.5H1003.5V978.1H1003V977.7H1002.5V977.3H1002V976.9H1001.5V976.5H1001V976.1H1000.5V975.7H1000V975.3H999.5V974.9H999V974.5H998.5V974.5H998V974.5H997.5V974.5H997V974.5H996.5V974.5H996V974.5H995.5V974.5H995V974.5H994.5V974.5H994V974.5H993.5V974.5H993V974.5H992.5V974.5H992V974.5H991.5V974.5H991V974.5H990.5V974.5H990V974.5H989.5V974.5H989V974.5H988.5V974.5H988V974.5H987.5V974.5H987V974.5H986.5V974.5H986V974.5H985.5V974.5H985V974.5H984.5V974.5H984V974.5H983.5V974.5H983V974.7H982.5V975H982V975.3H981.5V975.7H981V976H980.5V976.3H980V976.7H979.5V977H979V977.3H978.5V977.7H978V978H977.5V978.3H977V978.7H976.5V979H976V979.3H975.5V979.7H975V980H974.5V980.3H974V980.7H973.5V981H973V981.3H972.5V981.5H972V981.5H971.5V981.5H971V981.5H970.5V981.5H970V981.5H969.5V981.5H969V981.5H968.5V981.5H968V981.5H967.5V981.5H967V981.5H966.5V981.5H966V981.5H965.5V981.5H965V981.5H964.5V981.5H964V981.5H963.5V981.5H963V981.5H962.5V981.5H962V981.5H961.5V981.5H961V981.5H960.5V981.5H960V981.5H959.5V981.5H959V981.5H958.5V981.5H958V981.5H957.5V981.5H957V981.5H956.5V981.5H956V981.5H955.5V981.5H955V981.5H954.5V981.5H954V981.5H953.5V981.5H953V981.5H952.5V981.5H952V981.5H951.5V981.5H951V981.5H950.5V981.5H950V981.5H949.5V981.5H949V981.5H948.5V981.5H948V981.5H947.5V981.5H947V981.5H946.5V981.5H946V981.5H945.5V981.5H945V981.5H944.5V981.5H944V981.5H943.5V981.5H943V981.5H942.5V981.5H942V981.5H941.5V981.5H941V981.5H940.5V981.5H940V981.5H939.5V981.5H939V981.5H938.5V981.5H938V981.5H937.5V981.9H937V982.7H936.5V983.5H936V984.3H935.5V985.1H935V985.9H934.5V986.7H934V987.5H933.5V988.2H933V989H932.5V989.8H932V990.6H931.5V991.4H931V992.2H930.5V993H930V993.8H929.5V994.6H929V994.9H928.5V994.8H928V994.6H927.5V994.4H927V994.2H926.5V994.1H926V993.9H925.5V993.8H925V993.6H924.5V993.4H924V993.2H923.5V993.1H923V1021.8H922.5V1023.9H922V992.6H921.5V1031.5H921V1032.7H920.5V1037.2H920V1045.6H919.5V1049.2H919V1056.4H918.5V1060.5H918V1060.4H917.5V1058.3H917V1059.9H916.5V1058.1H916V1050.3H915.5V1049.1H915V989.9H914.5V989.7H914V1045.8H913.5V1042.1H913V1042.9H912.5V1040.9H912V1028.8H911.5V1026.6H911V1034.8H910.5V1038.7H910V1040.8H909.5V1045.1H909V987.5H908.5V987.3H908V987.1H907.5V986.9H907V1055.1H906.5V1055.6H906V986.3H905.5V986.1H905V1058.3H904.5V1055.7H904V1043.3H903.5V1041H903V1049.4H902.5V1045.9H902V1034.2H901.5V1030.8H901V1029.8H900.5V1029H900V985H899.5V985H899V985H898.5V985H898V985H897.5V985H897V985H896.5V985H896V985H895.5V985H895V985H894.5V985H894V985H893.5V985H893V985H892.5V985H892V985H891.5V985H891V985H890.5V985H890V985H889.5V985H889V985H888.5V985H888V985H887.5V985H887V985H886.5V985H886V985H885.5V985H885V985.1H884.5V985.3H884V985.5H883.5V985.7H883V985.9H882.5V986.1H882V1024.1H881.5V1025.1H881V1022.8H880.5V1024.1H880V1027.7H879.5V1030.5H879V987.5H878.5V987.7H878V1054.2H877.5V1057.4H877V1048.8H876.5V1050.2H876V1068.7H875.5V1071.2H875V989.1H874.5V989.3H874V989.5H873.5V989.7H873V1073.2H872.5V1063.5H872V990.3H871.5V990.5H871V1033.9H870.5V1033H870V1040.1H869.5V1047.8H869V991.5H868.5V991.7H868V1063.2H867.5V1066.7H867V1067.3H866.5V1067.5H866V1065.1H865.5V1061.1H865V993.1H864.5V993.3H864V993.5H863.5V993.7H863V1053H862.5V1050H862V1023.8H861.5V1018.7H861V1019.3H860.5V1012.7H860V995.1H859.5V995.4H859V995.7H858.5V995.9H858V996.2H857.5V996.5H857V996.7H856.5V997H856V997.2H855.5V997.5H855V997.8H854.5V998H854V998.3H853.5V998.6H853V998.1H852.5V997H852V995.9H851.5V994.8H851V993.7H850.5V992.6H850V991.9H849.5V991.6H849V991.4H848.5V991.2H848V990.9H847.5V990.7H847V990.5H846.5V990.2H846V990H845.5V989.8H845V989.5H844.5V989.3H844V989.1H843.5V988.8H843V988.4H842.5V987.8H842V987.1H841.5V986.5H841V985.9H840.5V985.3H840V984.6H839.5V984H839V983.4H838.5V982.8H838V982.1H837.5V981.5H837V980.9H836.5V980.3H836V979.6H835.5V979H835V978.4H834.5V977.9H834V977.4H833.5V976.9H833V976.3H832.5V975.8H832V975.3H831.5V974.8H831V974.2H830.5V973.7H830V973.2H829.5V972.7H829V972.1H828.5V971.6H828V971.1H827.5V970.6H827V970.1H826.5V970.3H826V970.5H825.5V970.8H825V971.1H824.5V971.4H824V971.7H823.5V972H823V972.3H822.5V972.6H822V972.8H821.5V973.1H821V973.4H820.5V973.7H820V974H819.5V974.3H819V974.6H818.5V974.9H818V975.1H817.5V975.3H817V975.6H816.5V975.8H816V976H815.5V976.3H815V976.5H814.5V976.7H814V977H813.5V977.2H813V977.4H812.5V977.7H812V977.9H811.5V978.1H811V978.4H810.5V978.6H810V978.7H809.5V978.8H809V978.9H808.5V979H808V979.1H807.5V979.2H807V979.3H806.5V979.4H806V979.5H805.5V979.6H805V979.7H804.5V979.8H804V979.9H803.5V980H803V980.1H802.5V980.2H802V980.3H801.5V980.4H801V1000.1H800.5V1002.7H800V998.2H799.5V997.3H799V1000.3H798.5V999.6H798V1004.9H797.5V1005.5H797V981.3H796.5V981.4H796V1004H795.5V1005.1H795V981.7H794.5V981.8H794V1006.6H793.5V1008.9H793V982.2H792.5V982.5H792V1002.4H791.5V1004.2H791V983.5H790.5V983.8H790V984.2H789.5V984.5H789V984.8H788.5V985.2H788V1034.7H787.5V1033.1H787V1037.8H786.5V1036.2H786V1016H785.5V1018.5H785V1031.9H784.5V1030.2H784V1012.2H783.5V1012.9H783V1021.3H782.5V1025.5H782V1032.9H781.5V1043.1H781V993.6H780.5V994.7H780V1068.8H779.5V1069.2H779V998H778.5V999.1H778V1000.2H777.5V1001.3H777V1081.7H776.5V1081.8H776V1085.8H775.5V1088H775V1089H774.5V1088.9H774V1087.8H773.5V1090.6H773V1008.1H772.5V1007H772V1090H771.5V1090.9H771V1093.5H770.5V1093.6H770V1096.5H769.5V1097.8H769V1028.2H768.5V1026.7H768V1097.6H767.5V1097.6H767V1037.5H766.5V1038.7H766V1050.1H765.5V1051.3H765V1104.3H764.5V1108.7H764V1040H763.5V1041.9H763V991.9H762.5V991.1H762V1122.5H761.5V1123.1H761V989H760.5V988.4H760V1036.3H759.5V1036.3H759V1075.2H758.5V1076.7H758V1032.5H757.5V1035.4H757V1063.5H756.5V1129.2H756V992.6H755.5V993.2H755V1132.6H754.5V1132.4H754V1137H753.5V1137H753V1137H752.5V1137H752V1137H751.5V1137H751V1137H750.5V1137H750V1137H749.5V1137H749V1137H748.5V1087.2H748V1137H747.5V1137H747V1137H746.5V1034.4H746V1137H745.5V1137H745V1137H744.5V1055.8H744V1092.2H743.5V1095.7H743V1137H742.5V1120H742V1137H741.5V1137H741V1137H740.5V1137H740V1137H739.5V1060.1H739V1137H738.5V1137H738V1137H737.5V1137H737V1137H736.5V1071.8H736V1041.8H735.5V1042.4H735V1137H734.5V1137H734V1137H733.5V1137H733V1137H732.5V1137H732V1137H731.5V1097.6H731V1137H730.5V1047.4H730V1137H729.5V1047.7H729V1137H728.5V1137H728V1137H727.5V1137H727V1137H726.5V1137H726V1137H725.5V1137H725V1137H724.5V1137H724V1137H723.5V1137H723V1137H722.5V1137H722V1137H721.5V1042.1H721V1137H720.5V1137H720V1137H719.5V1137H719V1137H718.5V1137H718V1085.4H717.5V1137H717V1092H716.5V1090.5H716V1137H715.5V1086.5H715V1137H714.5V1137H714V1137H713.5V1040.9H713V1137H712.5V1137H712V1137H711.5V1072.6H711V1137H710.5V1137H710V1137H709.5V1137H709V1137H708.5V1041.9H708V1137H707.5V1137H707V1051.6H706.5V1054.4H706V1137H705.5V1137H705V1078.1H704.5V1080.7H704V1137H703.5V1137H703V1137H702.5V1137H702V1137H701.5V1137H701V1137H700.5V1137H700V1086.8H699.5V1087.4H699V1137H698.5V1137H698V1137H697.5V1055.9H697V1137H696.5V1137H696V1137H695.5V1137H695V1137H694.5V1137H694V1137H693.5V1137H693V1137H692.5V1137H692V1137H691.5V1137H691V1137H690.5V1137H690V1137H689.5V1137H689V1137H688.5V1137H688V1137H687.5V1137H687V1137H686.5V1137H686V1137H685.5V1137H685V1137H684.5V1137H684V1137H683.5V1137H683V1137H682.5V1137H682V1137H681.5V1137H681V1137H680.5V1137H680V1137H679.5V1137H679V1137H678.5V1117.9H678V1137H677.5V1137H677V1137H676.5V1137H676V1137H675.5V1137H675V1137H674.5V1137H674V1137H673.5V1137H673V1137H672.5V1137H672V1137H671.5V1137H671V1137H670.5V1137H670V1137H669.5V1137H669V1085.9H668.5V1083.9H668V1137H667.5V1056.9H667V1137H666.5V1137H666V1137H665.5V1137H665V1137H664.5V1137H664V1137H663.5V1137H663V1137H662.5V1137H662V1137H661.5V1137H661V1137H660.5V1137H660V1137H659.5V1137H659V1137H658.5V1137H658V1137H657.5V1137H657V1137H656.5V1098.1H656V1137H655.5V1137H655V1137H654.5V1137H654V1137H653.5V1137H653V1137H652.5V1137H652V1137H651.5V1137H651V1137H650.5V1061.5H650V1137H649.5V1137H649V1137H648.5V1137H648V1137H647.5V1137H647V1137H646.5V1137H646V1137H645.5V1137H645V1137H644.5V1137H644V1137H643.5V1137H643V1137H642.5V1137H642V1137H641.5V1137H641V1137H640.5V1137H640V1137H639.5V1137H639V1137H638.5V1137H638V1137H637.5V1137H637V1137H636.5V1137H636V1137H635.5V1137H635V1137H634.5V1137H634V1137H633.5V1137H633V1137H632.5V1137H632V1137H631.5V1137H631V1137H630.5V1137H630V1137H629.5V1137H629V1137H628.5V1137H628V1137H627.5V1137H627V1137H626.5V1137H626V1137H625.5V1137H625V1137H624.5V1137H624V1137H623.5V1137H623V1137H622.5V1137H622V1137H621.5Z" fill="#000" stroke="#000" stroke-width="0.3"/>
<path d="M962.5 968.12V1029.75M965.5 965.75V1049M969.5 963.38V1048M972.5 961V1069M976.5 960.5V1057.75M980.5 959.93V1016M992.5 958.21V1043.75M1008.5 968.85V1020M1013.5 969.88V1020M1017.5 968.75V1021M1022.5 963.5V996M1035.5 955V1010.5M1040.5 952.22V1006M1050.5 948.38V1009M1058.5 947.87V1029M1061.5 948.64V1016.6M1067.5 953.36V1038.5M1071.5 955.79V1054M1077.5 960.55V1011M1083.5 965.27V1099.75M1087.5 967.81V1035M1093.5 967V1046M1095.5 966V1105M1099.5 963.67V1093.6M1102.5 962.98V1127M1108.5 961.75V1125M1113.5 960.77V1124M1117.5 960.1V1110M1121.5 958.69V1087.5M1124.5 957.38V1077M1127.5 956.25V1135M1134.5 957.34V1109M1139.5 960.93V1117M1142.5 960.91V1135M1145.5 959.44V1135M1149.5 957.97V1133M808.5 971.3V1025M811.5 970.85V1010M74.5 943.08V991M75.5 943.61V989M776.5 944V983.59M778.5 952.5V976.82M801.5 929V972.87M807.5 945V971.45M813.5 926V970.48M827.5 937.5V967.7M841.5 957V968.78M854.5 962V976.2M857.5 956.7V977.25M881.5 903.75V967.88M883.5 947.5V967.5M908.5 921V968.24M914.5 950V972.04M921.5 938V977.17M930.5 956V974.33M935.5 936V970.98M951.5 945.75V967.42M963.5 945.75V966.94M968.5 945.75V963.65M971.5 940.5V961.61M997.5 880.65V957.57M999.5 931.75V958.44M1026.5 908V959.5M1033.5 927V956M1040.5 916V952.22M1049.5 933.5V948.45M1056.5 910.4V948.01M1072.5 941V956.9M1091.5 950V968M1100.5 941V963.5M1127.5 889.75V956.25M1129.5 938.75V955.41M1158.5 912.5V955M1173.5 923V956.92M379.5 969V986.7M509.5 971V987.35" stroke="#000" stroke-width="1" fill="none"/>
<path d="M72.5 934.1V934.1H73V933H73.5V933.7H74V933.6H74.5V933.6H75V936.5H75.5V936.7H76V933.9H76.5V934H77V935H77.5V935.5H78V936.7H78.5V936.8H79V938.8H79.5V939H80V937H80.5V936.8H81V939.5H81.5V939.3H82V943H82.5V943.9H83V942.6H83.5V942.3H84V937.1H84.5V936.6H85V942.4H85.5V942.7H86V937.7H86.5V937.3H87V939.5H87.5V939.7H88V938.2H88.5V938.3H89V943.6H89.5V943.8H90V944.8H90.5V944.4H91V937.8H91.5V937.9H92V940.7H92.5V941.5H93V939.9H93.5V940.7H94V944.7H94.5V944.4H95V941.4H95.5V942.2H96V944.8H96.5V945H97V941H97.5V940.6H98V941.3H98.5V941.5H99V938.7H99.5V939.3H100V942.3H100.5V942.1H101V945.5H101.5V944.8H102V943.6H102.5V944.3H103V946.4H103.5V946.3H104V946.5H104.5V946.3H105V945.1H105.5V945.8H106V940.4H106.5V940.4H107V946.3H107.5V946.5H108V945.2H108.5V945H109V947H109.5V946.4H110V947.3H110.5V947.8H111V947.8H111.5V947.7H112V942H112.5V942.3H113V946.4H113.5V947.1H114V947H114.5V947.8H115V948.4H115.5V948.4H116V941.7H116.5V942.3H117V942.6H117.5V942.9H118V946.8H118.5V947H119V945.2H119.5V945.8H120V948.7H120.5V949H121V947.5H121.5V947.4H122V943.1H122.5V942.9H123V947.6H123.5V947.9H124V944.6H124.5V945.1H125V949.1H125.5V949.3H126V951.4H126.5V950.9H127V945.7H127.5V945.6H128V949.7H128.5V949.9H129V944.4H129.5V944.5H130V948.8H130.5V948.8H131V945.4H131.5V945.6H132V949H132.5V949.4H133V946.4H133.5V946.4H134V945.6H134.5V944.7H135V952.4H135.5V952.5H136V947.9H136.5V948.5H137V951.5H137.5V951.9H138V950.5H138.5V950.9H139V949.7H139.5V949.7H140V945.9H140.5V946H141V951.5H141.5V951.4H142V944.7H142.5V944.2H143V946.9H143.5V946.5H144V944.8H144.5V944.6H145V944.2H145.5V944H146V944.7H146.5V943.3H147V939.8H147.5V938.1H148V938.4H148.5V938.8H149V938.9H149.5V940.3H150V946H150.5V946.1H151V942.3H151.5V942.7H152V940H152.5V940.8H153V943.7H153.5V943.7H154V942.8H154.5V943.1H155V947.5H155.5V948.2H156V946.1H156.5V945.6H157V945.5H157.5V945.6H158V944.6H158.5V944.8H159V944.3H159.5V944.2H160V952H160.5V952.4H161V952.8H161.5V952.2H162V945.6H162.5V946.1H163V952.6H163.5V952.7H164V948.1H164.5V948.6H165V948.9H165.5V949.4H166V948.4H166.5V947.9H167V951.2H167.5V951.8H168V947.8H168.5V948.2H169V950.3H169.5V950.3H170V949.5H170.5V949.6H171V951.9H171.5V952.2H172V950.9H172.5V950.5H173V951.8H173.5V951.7H174V948.6H174.5V948.2H175V948.7H175.5V949H176V948.6H176.5V948.5H177V947.2H177.5V947.3H178V948.6H178.5V948.1H179V949.6H179.5V950.1H180V950.8H180.5V951.9H181V951.6H181.5V952.4H182V949.1H182.5V949.2H183V951.3H183.5V951.2H184V954.7H184.5V954.9H185V954.7H185.5V956.2H186V955.7H186.5V957.7H187V961.2H187.5V961.8H188V964.4H188.5V965.9H189V961.6H189.5V962.5H190V962.6H190.5V964H191V964.8H191.5V965.3H192V966.4H192.5V966.4H193V971.4H193.5V971.7H194V969.5H194.5V970.3H195V970.1H195.5V971.2H196V972.2H196.5V972.4H197V974.8H197.5V973.5H198V967.3H198.5V966.1H199V964.2H199.5V963.4H200V964.6H200.5V963.7H201V961.2H201.5V960.2H202V965.5H202.5V964.6H203V963.2H203.5V962.4H204V961.5H204.5V961.2H205V958.3H205.5V958.6H206V957.5H206.5V956.6H207V961H207.5V961H208V954.7H208.5V954.7H209V958.5H209.5V958.8H210V954.6H210.5V954.6H211V953.2H211.5V953.5H212V953.3H212.5V952.7H213V952.3H213.5V952.6H214V958.9H214.5V958.9H215V957.8H215.5V957.8H216V954.7H216.5V954.7H217V951.6H217.5V952.6H218V954.8H218.5V955H219V953.4H219.5V952.6H220V959.2H220.5V959.2H221V953.5H221.5V953.5H222V958.7H222.5V958.6H223V952.1H223.5V952.6H224V955.9H224.5V955.5H225V953.4H225.5V953.8H226V955.7H226.5V956.4H227V955.2H227.5V954.6H228V959.1H228.5V959.2H229V952.6H229.5V952.6H230V952.2H230.5V952.5H231V954.7H231.5V954.2H232V959.5H232.5V959.9H233V959.8H233.5V959.3H234V955.2H234.5V955.2H235V955.9H235.5V956.3H236V958.6H236.5V957.9H237V956.3H237.5V956H238V952.7H238.5V953.5H239V959.5H239.5V959.6H240V956.5H240.5V956.6H241V954.8H241.5V954.4H242V955.2H242.5V956H243V958.2H243.5V958.9H244V959.6H244.5V960.5H245V955.3H245.5V955.5H246V957.7H246.5V957.7H247V957.3H247.5V958.1H248V957.8H248.5V958.4H249V960.2H249.5V960H250V959H250.5V958.8H251V964.4H251.5V965.2H252V959.8H252.5V960H253V961H253.5V960.8H254V961.5H254.5V961.8H255V965.3H255.5V965.5H256V967.3H256.5V967.6H257V961.6H257.5V961.1H258V967.1H258.5V967.3H259V962.9H259.5V962.6H260V968.5H260.5V968.2H261V963.1H261.5V963.4H262V966.7H262.5V966.8H263V962.6H263.5V962.3H264V967.5H264.5V967.9H265V968.9H265.5V969.3H266V966H266.5V966.3H267V969.5H267.5V969.4H268V967.6H268.5V967.3H269V969.2H269.5V969.2H270V966.2H270.5V967.2H271V970.6H271.5V972.1H272V971H272.5V972.1H273V970H273.5V971.1H274V971.1H274.5V971.6H275V973.5H275.5V973.7H276V978H276.5V978.5H277V979H277.5V980.3H278V982.9H278.5V984H279V984.6H279.5V984.7H280V988.1H280.5V987.8H281V987.2H281.5V987H282V983.5H282.5V982.7H283V977.1H283.5V976.8H284V976.4H284.5V975.9H285V976.3H285.5V975.4H286V976.1H286.5V975.5H287V971.8H287.5V971.5H288V975.5H288.5V975.3H289V971.5H289.5V971.3H290V973.9H290.5V973.7H291V975.9H291.5V975.9H292V975.3H292.5V975.1H293V973.2H293.5V972.4H294V969.4H294.5V968.8H295V973.7H295.5V973.1H296V964.8H296.5V964.7H297V969.1H297.5V968.8H298V967.2H298.5V967H299V965.3H299.5V965.2H300V964H300.5V963.5H301V968.4H301.5V967.7H302V968.9H302.5V968H303V969.2H303.5V968.7H304V962.2H304.5V962.3H305V967.5H305.5V967H306V962.8H306.5V962.3H307V966.5H307.5V966.3H308V965.7H308.5V965.2H309V965.1H309.5V965.6H310V967.8H310.5V967.8H311V967.5H311.5V968.1H312V967.2H312.5V966.6H313V967.1H313.5V966.7H314V962.4H314.5V962.7H315V964.3H315.5V964.2H316V966.2H316.5V966.3H317V963.7H317.5V963.1H318V967.6H318.5V968.5H319V964.2H319.5V965.1H320V965.3H320.5V964.8H321V965.5H321.5V966.1H322V970.2H322.5V970.3H323V969.6H323.5V969H324V968.8H324.5V969.1H325V963.5H325.5V963.4H326V969.8H326.5V970.2H327V966.8H327.5V966.8H328V968.7H328.5V968.9H329V970.7H329.5V971.5H330V971H330.5V971.1H331V968.7H331.5V968.8H332V964.2H332.5V964.3H333V968.1H333.5V968.1H334V970.1H334.5V970.3H335V965.2H335.5V965.2H336V971.1H336.5V970.8H337V966.6H337.5V966.6H338V965.1H338.5V966.1H339V968.3H339.5V969H340V966.1H340.5V966.7H341V967.8H341.5V968.7H342V969.1H342.5V969.6H343V967.5H343.5V967.2H344V974.5H344.5V974.5H345V971.1H345.5V970.7H346V969.6H346.5V969.9H347V972.6H347.5V972.5H348V968.4H348.5V969.2H349V972H349.5V972H350V974.6H350.5V974.9H351V969.5H351.5V970H352V969.6H352.5V969.4H353V975.6H353.5V975.9H354V971.6H354.5V971.6H355V971.1H355.5V971.1H356V972.8H356.5V972.7H357V972.8H357.5V972.4H358V971.4H358.5V971.3H359V978.8H359.5V979.3H360V976H360.5V977H361V972.6H361.5V972.7H362V974.5H362.5V974.4H363V978.1H363.5V977.3H364V980.9H364.5V980.9H365V977.5H365.5V977.8H366V973.3H366.5V973.6H367V973.6H367.5V973.9H368V977.2H368.5V976.9H369V975.8H369.5V975.3H370V980.1H370.5V979.9H371V974.3H371.5V975.1H372V975.2H372.5V974.4H373V981.1H373.5V981.7H374V974.9H374.5V975H375V975.8H375.5V976.6H376V980H376.5V979.6H377V980.5H377.5V980.6H378V977.3H378.5V978.3H379V980.9H379.5V981.1H380V977.2H380.5V977.9H381V985.8H381.5V986.3H382V980.5H382.5V980.6H383V986.3H383.5V986.5H384V982H384.5V982H385V980.4H385.5V980.7H386V982.5H386.5V982.4H387V982.8H387.5V982.3H388V983.8H388.5V983.8H389V981.8H389.5V981.8H390V985.8H390.5V985.8H391V981H391.5V981.2H392V983.9H392.5V983.9H393V984.8H393.5V984.6H394V984.8H394.5V984.7H395V986H395.5V986.2H396V980.7H396.5V980.2H397V980.4H397.5V979.8H398V985.2H398.5V984.3H399V982.7H399.5V982.4H400V984H400.5V982.9H401V982.2H401.5V981.3H402V977.6H402.5V977.7H403V978.3H403.5V978.6H404V976.2H404.5V976.1H405V976H405.5V976.3H406V981.2H406.5V980.6H407V981.7H407.5V980.8H408V975H408.5V974.2H409V973.7H409.5V973.4H410V973.4H410.5V973H411V979.4H411.5V979.9H412V974.9H412.5V974.8H413V977H413.5V976.9H414V974.3H414.5V974.6H415V977.5H415.5V977.5H416V976H416.5V975.8H417V975.8H417.5V975.8H418V977.3H418.5V977H419V975.4H419.5V975.5H420V973.6H420.5V974.3H421V975.7H421.5V975H422V974.2H422.5V974.2H423V974.1H423.5V974H424V978.7H424.5V978H425V976.1H425.5V976H426V976.5H426.5V976.7H427V975.1H427.5V975.1H428V973.6H428.5V973.7H429V973.8H429.5V973.7H430V982.2H430.5V981.8H431V975H431.5V975H432V974.9H432.5V975.7H433V976.6H433.5V976.6H434V983.9H434.5V983.2H435V979.4H435.5V980.2H436V981.8H436.5V982H437V976.5H437.5V977H438V983.7H438.5V983.3H439V983.5H439.5V984.4H440V982.6H440.5V982.5H441V978.4H441.5V978.7H442V986.1H442.5V986.4H443V983.6H443.5V984.1H444V986.4H444.5V986.4H445V982.7H445.5V982.6H446V986.7H446.5V986H447V982H447.5V982.4H448V981.9H448.5V982H449V981.6H449.5V981.4H450V988.4H450.5V988.3H451V984.7H451.5V984.7H452V987.1H452.5V986.7H453V980.3H453.5V980.4H454V981.8H454.5V981.7H455V985.8H455.5V986.2H456V985.5H456.5V984.8H457V979.8H457.5V979.6H458V983.6H458.5V983H459V980.9H459.5V980.9H460V984.6H460.5V984.8H461V981.4H461.5V980.8H462V979.8H462.5V980.4H463V984.5H463.5V984.7H464V985.5H464.5V985.5H465V981.2H465.5V981.9H466V985.2H466.5V985.5H467V984.7H467.5V985.2H468V986.2H468.5V986.2H469V981.9H469.5V982.1H470V979.8H470.5V980.3H471V982.2H471.5V982.1H472V983.5H472.5V983.3H473V984.9H473.5V984.7H474V979.6H474.5V979.5H475V980.4H475.5V980.6H476V982.7H476.5V983.3H477V984.8H477.5V984.9H478V984.1H478.5V984.3H479V985.2H479.5V985.7H480V981.6H480.5V982H481V980H481.5V980.5H482V978.7H482.5V978.8H483V983.5H483.5V983.7H484V979H484.5V978.6H485V980.6H485.5V980.5H486V977.9H486.5V978.1H487V979.4H487.5V978.7H488V979.9H488.5V980H489V980.4H489.5V980.3H490V977.5H490.5V977.5H491V980H491.5V980.8H492V978.1H492.5V978.1H493V985.3H493.5V985.5H494V981H494.5V980.9H495V977.7H495.5V977.5H496V980.6H496.5V980.7H497V978.5H497.5V978.5H498V982.2H498.5V982.4H499V982.1H499.5V981.8H500V983.3H500.5V983.9H501V981.1H501.5V981.4H502V980.1H502.5V979.8H503V980.3H503.5V980.6H504V984.1H504.5V983.9H505V978H505.5V977.7H506V985.2H506.5V985.1H507V978.5H507.5V978.1H508V985.4H508.5V984.9H509V978.8H509.5V978.9H510V979.5H510.5V980.4H511V984.9H511.5V984.3H512V979H512.5V978.8H513V984.1H513.5V984.7H514V980H514.5V979.7H515V985.4H515.5V984.4H516V979.5H516.5V979.1H517V977.8H517.5V977.4H518V980.3H518.5V980H519V980.5H519.5V981H520V984.4H520.5V984.9H521V983H521.5V982.4H522V980.3H522.5V980H523V982.3H523.5V982.9H524V979.3H524.5V979.9H525V984.3H525.5V983.5H526V980H526.5V979.8H527V979.6H527.5V978.9H528V983.8H528.5V983.4H529V978.3H529.5V978.5H530V980.6H530.5V980.1H531V982.7H531.5V982.2H532V981.8H532.5V981.7H533V981.9H533.5V981.4H534V978.2H534.5V978.4H535V977.3H535.5V977H536V981.4H536.5V982H537V977.9H537.5V977.5H538V984H538.5V984.1H539V980.1H539.5V980.3H540V982.3H540.5V983.2H541V983.6H541.5V983.6H542V985.4H542.5V984.6H543V981.1H543.5V980.8H544V983.4H544.5V984H545V978.8H545.5V978.7H546V985.1H546.5V985.1H547V981.6H547.5V981.4H548V984H548.5V984.7H549V982.6H549.5V982.3H550V978.1H550.5V978.1H551V979.8H551.5V979.7H552V977H552.5V976.5H553V975.4H553.5V975H554V975.6H554.5V974.9H555V977.5H555.5V977H556V974.6H556.5V974.9H557V977.7H557.5V976.8H558V972.9H558.5V972.9H559V974.3H559.5V974.6H560V970.6H560.5V970.8H561V972.4H561.5V972.7H562V972.5H562.5V973.3H563V971.4H563.5V971.3H564V975.2H564.5V975H565V973.4H565.5V973.9H566V978.3H566.5V978.4H567V973.6H567.5V973.9H568V980.2H568.5V980.1H569V976H569.5V976.6H570V978.5H570.5V979.4H571V976.8H571.5V977.5H572V981.7H572.5V982.1H573V980.7H573.5V981.8H574V981.9H574.5V981.7H575V987.6H575.5V987.5H576V987H576.5V987.6H577V984.1H577.5V984.8H578V990.3H578.5V990.9H579V990.4H579.5V991.5H580V996.2H579.5V996.9H579V996.6H578.5V996.1H578V1000.9H577.5V1000.6H577V997.7H576.5V995.5H576V995.9H575.5V997H575V993.5H574.5V997.8H574V995.1H573.5V998.8H573V998.9H572.5V994.5H572V1003.2H571.5V1002.1H571V998.3H570.5V997.5H570V998.8H569.5V999.7H569V996H568.5V996.7H568V1002.1H567.5V1001.1H567V1004.2H566.5V1002.8H566V1002H565.5V1003.4H565V1007.2H564.5V1008.6H564V1003.9H563.5V1003.9H563V1007.5H562.5V1006.6H562V1008.9H561.5V1009.2H561V999.2H560.5V998.4H560V1000.8H559.5V1001.6H559V1001.3H558.5V999.1H558V1007.6H557.5V1008.7H557V1008H556.5V1008H556V1018.3H555.5V1019H555V997.8H554.5V998.4H554V1020.4H553.5V1020.6H553V1016.6H552.5V1017.8H552V1003H551.5V1000.2H551V1003.4H550.5V1002.4H550V999H549.5V1003.7H549V1020.9H548.5V1021.5H548V1023H547.5V1021.8H547V1010.7H546.5V1009.9H546V1012.8H545.5V1012.6H545V1022.6H544.5V1021.9H544V1000.8H543.5V1002.2H543V1002.2H542.5V1000.1H542V1014.7H541.5V1014.2H541V1023.4H540.5V1023.2H540V1011.2H539.5V1012.4H539V1016.1H538.5V1015.3H538V1004.8H537.5V1004.4H537V1004.2H536.5V1004.4H536V1006.3H535.5V1005.9H535V1005.2H534.5V1005.4H534V1004.9H533.5V1001H533V1003.6H532.5V1003.8H532V1013.8H531.5V1013.3H531V1021.8H530.5V1023H530V998.2H529.5V1003.6H529V1010.9H528.5V1010.7H528V1003.1H527.5V1000.2H527V1009.2H526.5V1009.7H526V1030.5H525.5V1029.4H525V1023.1H524.5V1024.1H524V999.5H523.5V1001.2H523V998.1H522.5V997.9H522V1021.7H521.5V1021.4H521V1013.5H520.5V1014.2H520V999.7H519.5V999.5H519V995.8H518.5V995.9H518V999.5H517.5V997.9H517V1019.1H516.5V1019H516V1018.8H515.5V1020H515V997.6H514.5V998.3H514V997.3H513.5V998.7H513V997.3H512.5V996H512V998.3H511.5V998H511V1028.3H510.5V1029H510V1009.7H509.5V1011H509V1030.7H508.5V1030.1H508V993.8H507.5V994.1H507V1014.6H506.5V1013.5H506V1031.7H505.5V1031.7H505V995.9H504.5V993.8H504V992.3H503.5V994H503V996.6H502.5V992.6H502V995.2H501.5V996.4H501V1019.7H500.5V1019.4H500V1022.9H499.5V1022.6H499V995.7H498.5V995.8H498V994H497.5V995.3H497V1017.2H496.5V1017.1H496V994.5H495.5V993.5H495V994.5H494.5V995.2H494V993.8H493.5V995.3H493V996.6H492.5V996.4H492V996.2H491.5V996H491V996.6H490.5V996.7H490V996.7H489.5V995.6H489V993.7H488.5V996.6H488V995H487.5V994.6H487V1019.3H486.5V1018.2H486V1010.2H485.5V1010.9H485V992.9H484.5V993.4H484V997.3H483.5V997.3H483V1029.2H482.5V1028.1H482V1028H481.5V1028.2H481V1036.3H480.5V1035.6H480V1023.8H479.5V1022.6H479V1026.6H478.5V1026.2H478V1020.1H477.5V1019.6H477V1021.7H476.5V1020.9H476V1017.6H475.5V1017.2H475V1019.4H474.5V1018.8H474V998.1H473.5V996.8H473V997.8H472.5V997.7H472V997.5H471.5V995.7H471V994.8H470.5V995.8H470V996H469.5V994.5H469V995.3H468.5V996.3H468V994.2H467.5V998.2H467V998.6H466.5V994.9H466V997.7H465.5V994.4H465V999.6H464.5V1000H464V1006.9H463.5V1008.4H463V1009.5H462.5V1010.3H462V1001.4H461.5V1000.7H461V1001.8H460.5V1002.3H460V1001.3H459.5V1002.5H459V997.6H458.5V1003.1H458V1001.9H457.5V998.9H457V1009.3H456.5V1008.9H456V1012.5H455.5V1011.5H455V1001.8H454.5V1005.8H454V1004.3H453.5V1006.5H453V1006.3H452.5V1001.2H452V1000H451.5V1000.7H451V1004.7H450.5V1004.7H450V1001H449.5V1002.9H449V1003.6H448.5V1003.2H448V998.5H447.5V1001.8H447V1018.8H446.5V1018.7H446V1001.4H445.5V1001H445V1010.3H444.5V1009.8H444V1016.1H443.5V1015.8H443V996.5H442.5V998.5H442V998.3H441.5V996.5H441V1007.7H440.5V1006.5H440V1006H439.5V1005.9H439V992.6H438.5V994.2H438V993.5H437.5V992.4H437V1010.6H436.5V1011.4H436V990.9H435.5V991H435V993.8H434.5V994H434V990.5H433.5V993.1H433V993.3H432.5V993.7H432V991.3H431.5V993.1H431V993.7H430.5V992.9H430V990.6H429.5V993.3H429V997.7H428.5V996.3H428V1002H427.5V1003.4H427V1000.5H426.5V1000.7H426V991H425.5V988.3H425V992.5H424.5V991.3H424V991.3H423.5V989.6H423V990H422.5V987.8H422V997.9H421.5V999.2H421V1006.7H420.5V1006.7H420V991.2H419.5V991.4H419V988.2H418.5V990H418V988.3H417.5V992.1H417V990.3H416.5V989.5H416V999H415.5V999.9H415V1002H414.5V1001.2H414V992.8H413.5V993H413V992.8H412.5V993H412V992.7H411.5V991.8H411V997.5H410.5V999.6H410V1005.6H409.5V1006.3H409V1004H408.5V1004.8H408V1003.5H407.5V1004.4H407V1013.6H406.5V1013.3H406V1016.8H405.5V1017.3H405V990.5H404.5V990.8H404V1017.7H403.5V1019H403V992.2H402.5V990.7H402V994.3H401.5V995.7H401V1027.7H400.5V1027H400V995.6H399.5V995.6H399V996.6H398.5V996.8H398V996.4H397.5V995.2H397V997H396.5V996.8H396V996.9H395.5V995.6H395V995.7H394.5V998.1H394V995.6H393.5V998.6H393V995.4H392.5V997.3H392V1015H391.5V1016.2H391V1022.7H390.5V1022.5H390V998H389.5V999.6H389V1017.5H388.5V1018.1H388V1019.6H387.5V1019.9H387V999H386.5V999.9H386V997.8H385.5V995.6H385V998.7H384.5V998.5H384V997.7H383.5V997.1H383V1027.8H382.5V1028.3H382V998.9H381.5V999.3H381V999.8H380.5V999.8H380V1016.6H379.5V1017.3H379V1025.4H378.5V1024.5H378V998.3H377.5V1000H377V1029.8H376.5V1030H376V994.9H375.5V996.4H375V996.7H374.5V1000.5H374V1022.5H373.5V1022.9H373V1029.9H372.5V1030.5H372V1000.7H371.5V999.9H371V998.1H370.5V1000H370V1001.3H369.5V1000.6H369V996.9H368.5V998.7H368V1017.4H367.5V1015.8H367V1014.4H366.5V1013.1H366V1019.8H365.5V1020.9H365V1011.9H364.5V1010.7H364V1026H363.5V1027.4H363V1002.8H362.5V1001.8H362V1002.2H361.5V1000.7H361V996.1H360.5V1001.3H360V1035.6H359.5V1035.7H359V1012.4H358.5V1010.7H358V994.8H357.5V997.2H357V998.4H356.5V993.5H356V996.2H355.5V998.1H355V1033.3H354.5V1033.1H354V1012.9H353.5V1012.4H353V995.8H352.5V994.5H352V994.6H351.5V993.6H351V996H350.5V990.5H350V993.6H349.5V994.3H349V993.2H348.5V996.1H348V996H347.5V992.1H347V1008.4H346.5V1007.9H346V1012.6H345.5V1013.6H345V1011.7H344.5V1010.2H344V992.4H343.5V995.5H343V992.3H342.5V994.7H342V995.5H341.5V994.8H341V994.4H340.5V995.1H340V991.1H339.5V994.6H339V995.2H338.5V993.8H338V991.5H337.5V992.9H337V994H336.5V994.9H336V994.7H335.5V990.8H335V994.2H334.5V988.5H334V994.1H333.5V993.6H333V989.4H332.5V994H332V1012H331.5V1012H331V993.6H330.5V988.7H330V991.3H329.5V988.3H329V990.5H328.5V993.3H328V1010.9H327.5V1010.3H327V1002.6H326.5V1003.1H326V1030.2H325.5V1031.6H325V1015.5H324.5V1015.9H324V1033.2H323.5V1032.4H323V988.3H322.5V990.4H322V1007.6H321.5V1008.5H321V1030.2H320.5V1028.9H320V988.9H319.5V990.3H319V989.2H318.5V986.3H318V986.6H317.5V991.6H317V1008.1H316.5V1008.2H316V1008H315.5V1007.6H315V987.6H314.5V989.7H314V989.7H313.5V991.9H313V987.7H312.5V992H312V991.8H311.5V992.3H311V992.3H310.5V991.6H310V992.2H309.5V988.3H309V990.6H308.5V990.6H308V992.1H307.5V992.7H307V992.6H306.5V987.9H306V992.4H305.5V992.6H305V1013.4H304.5V1013.3H304V987.5H303.5V992.3H303V989.6H302.5V992.7H302V993.6H301.5V988.7H301V1033.4H300.5V1034.1H300V1037.5H299.5V1038.3H299V1020.2H298.5V1019.3H298V1016H297.5V1016.3H297V1012.5H296.5V1012.7H296V1004.6H295.5V1005.2H295V1014.6H294.5V1015.3H294V998H293.5V994.5H293V1022H292.5V1021.5H292V1039.8H291.5V1039.9H291V1015.8H290.5V1015.1H290V999.7H289.5V995.2H289V999.5H288.5V1001.7H288V1001H287.5V1003.1H287V1030.5H286.5V1030.8H286V1016.8H285.5V1017.4H285V1006.4H284.5V1006.8H284V1005.8H283.5V1008.8H283V1025.5H282.5V1025.1H282V1035.7H281.5V1035.6H281V1011.7H280.5V1009.7H280V1010.8H279.5V1011.8H279V1008.7H278.5V1011H278V1005.3H277.5V1010.1H277V1026.9H276.5V1027.7H276V1008.7H275.5V1005.2H275V1007H274.5V1007.1H274V1004.5H273.5V1006.1H273V1004.5H272.5V1001.6H272V1004.5H271.5V1002H271V1003.1H270.5V1002.4H270V1002.2H269.5V999.2H269V998.5H268.5V1001H268V1023.2H267.5V1024.3H267V1033.1H266.5V1032.8H266V1027.6H265.5V1027.2H265V1001.2H264.5V997.8H264V1033.6H263.5V1032.9H263V1018.3H262.5V1018H262V1001.5H261.5V999.2H261V1008H260.5V1008H260V1014.9H259.5V1015.2H259V1000.6H258.5V994.9H258V1000.6H257.5V994.8H257V997H256.5V997.8H256V1008.3H255.5V1008.7H255V1000.3H254.5V1000.2H254V994.6H253.5V995.4H253V1018.4H252.5V1019H252V1011.4H251.5V1010.7H251V998.9H250.5V998.3H250V1012.9H249.5V1012.9H249V1019H248.5V1018.1H248V994.7H247.5V997.3H247V1000.1H246.5V995.1H246V999.1H245.5V997.6H245V998H244.5V1000.2H244V1011.7H243.5V1011.4H243V1000.5H242.5V998.3H242V1000.2H241.5V1000.2H241V1001.2H240.5V1001H240V1013.9H239.5V1015.2H239V1021.9H238.5V1022.2H238V997H237.5V998.4H237V1000.2H236.5V998.4H236V997.6H235.5V1000.9H235V1000.3H234.5V1001H234V1000H233.5V1000.7H233V997.9H232.5V1000.4H232V1011.3H231.5V1011.2H231V998.9H230.5V998.1H230V998H229.5V999.3H229V993.7H228.5V995.7H228V996.9H227.5V998.1H227V996.4H226.5V995.3H226V997H225.5V997.6H225V997.3H224.5V998.1H224V998.1H223.5V998.1H223V996.2H222.5V991.7H222V1006.8H221.5V1006.5H221V1008.7H220.5V1007.9H220V1025.9H219.5V1024.7H219V1007.9H218.5V1006.1H218V990.3H217.5V995H217V993.3H216.5V995.4H216V994.8H215.5V990.9H215V993.8H214.5V990.7H214V992.8H213.5V988.6H213V990.2H212.5V993H212V993.6H211.5V990.9H211V988.6H210.5V992.4H210V990.5H209.5V991.9H209V1023.3H208.5V1023.9H208V1005.7H207.5V1003.9H207V1011.8H206.5V1012.6H206V989.3H205.5V988.3H205V1017.3H204.5V1017.7H204V985.4H203.5V988.8H203V989.1H202.5V987.3H202V1021.6H201.5V1021.5H201V988.5H200.5V985H200V1018.8H199.5V1018H199V1006.4H198.5V1005.9H198V1012.9H197.5V1012.5H197V983.2H196.5V986.3H196V1012.3H195.5V1012.2H195V1018.5H194.5V1018.1H194V983H193.5V983.2H193V984.2H192.5V981.3H192V1008.4H191.5V1006.3H191V1014.1H190.5V1015.2H190V1021.2H189.5V1019.9H189V1003.9H188.5V1004.3H188V983H187.5V982H187V982.9H186.5V978.6H186V981.8H185.5V978.2H185V981.1H184.5V979.2H184V979H183.5V979.6H183V976.6H182.5V973.3H182V990.8H181.5V990.5H181V1011.4H180.5V1012.8H180V988.5H179.5V988.6H179V1009.8H178.5V1009H178V1008.3H177.5V1008.4H177V1016.1H176.5V1018H176V1014.9H175.5V1013.6H175V969.7H174.5V967.2H174V984.3H173.5V984.3H173V996H172.5V995.8H172V969.2H171.5V969.1H171V1020.7H170.5V1018.8H170V964H169.5V966.8H169V1010.7H168.5V1007.6H168V978.1H167.5V978.2H167V1003.3H166.5V1002H166V965.3H165.5V966.6H165V965.3H164.5V962.9H164V963.8H163.5V967.7H163V989.1H162.5V987.3H162V983.9H161.5V984.3H161V965.9H160.5V967.2H160V967.6H159.5V963.1H159V977.2H158.5V978.7H158V975.4H157.5V974.4H157V974.9H156.5V976H156V973.7H155.5V972.4H155V978.5H154.5V978.6H154V989H153.5V988.4H153V990.9H152.5V991.3H152V978.6H151.5V979.9H151V987.4H150.5V987.7H150V990.5H149.5V991.3H149V963.8H148.5V963H148V962.4H147.5V963.3H147V962.4H146.5V964.1H146V978.2H145.5V977.2H145V967H144.5V965.3H144V967H143.5V966.4H143V982.4H142.5V984H142V1002.2H141.5V1003H141V966.8H140.5V966.8H140V1010.8H139.5V1010.8H139V966.3H138.5V966.7H138V966.5H137.5V966.1H137V995.5H136.5V995.4H136V966.7H135.5V965H135V977.3H134.5V976.3H134V1003.9H133.5V1003.7H133V1006.5H132.5V1005.5H132V993.9H131.5V992.2H131V964.2H130.5V966.2H130V966.5H129.5V966.5H129V966.7H128.5V964.3H128V961.6H127.5V961H127V966.7H126.5V966H126V966.1H125.5V962.5H125V964.2H124.5V962.2H124V965.5H123.5V966.2H123V964.2H122.5V965.9H122V966.2H121.5V963.2H121V982.3H120.5V981.6H120V987.6H119.5V988H119V988.4H118.5V989H118V974.9H117.5V974.6H117V964.3H116.5V964.6H116V979.4H115.5V980.9H115V995.5H114.5V994.2H114V964.3H113.5V967.9H113V968.7H112.5V964.9H112V981H111.5V980.6H111V999.6H110.5V998.1H110V988.8H109.5V988.4H109V970H108.5V969.4H108V979.2H107.5V980.4H107V983.2H106.5V982.9H106V997.4H105.5V996.4H105V969.9H104.5V968.7H104V983H103.5V983.2H103V993.5H102.5V993.1H102V976.2H101.5V975.3H101V995.8H100.5V994.4H100V971.7H99.5V970.1H99V971.6H98.5V971.4H98V970.1H97.5V968.4H97V975.6H96.5V976.3H96V993.9H95.5V993.1H95V975.4H94.5V975.3H94V983.8H93.5V984.3H93V966.3H92.5V969.5H92V986.4H91.5V985.9H91V970.9H90.5V970H90V986.5H89.5V987.6H89V977H88.5V977.9H88V990.7H87.5V990.7H87V970.4H86.5V970.1H86V967.3H85.5V967.4H85V976.8H84.5V978.1H84V986.2H83.5V985.7H83V980.6H82.5V981.6H82V969.2H81.5V968.7H81V981.1H80.5V980.8H80V969.6H79.5V970.4H79V969.8H78.5V971.4H78V977.6H77.5V977.6H77V987.9H76.5V987.7H76V977.3H75.5V976.6H75V978.7H74.5V979.1H74V988.9H73.5V988H73V984.5H72.5ZM646.5 961.4V961.4H647V960.1H647.5V959.7H648V959.6H648.5V957.8H649V958.9H649.5V959.9H650V959.8H650.5V960.2H651V962H651.5V962.3H652V959.9H652.5V959.6H653V956.7H653.5V956.8H654V962H654.5V962H655V966.3H655.5V969H656V965.3H656.5V967.5H657V970.5H657.5V971.8H658V971.7H658.5V971.1H659V968.6H659.5V967.9H660V970.1H660.5V970.6H661V969.8H661.5V969.7H662V971.8H662.5V971.5H663V975.4H663.5V976.7H664V972.2H664.5V973.3H665V977.7H665.5V977.9H666V975.9H666.5V976.4H667V976.7H667.5V978H668V978.7H668.5V978.5H669V974.5H669.5V974.6H670V981.9H670.5V982.1H671V976.9H671.5V977.1H672V980.2H672.5V979.5H673V976.5H673.5V977.1H674V977.7H674.5V978.1H675V978.4H675.5V978.8H676V982.1H676.5V982.5H677V981.8H677.5V981.4H678V977.9H678.5V977.5H679V975.9H679.5V975.7H680V979.7H680.5V979.3H681V982.1H681.5V981.2H682V979.2H682.5V978.8H683V973.7H683.5V973.3H684V974.3H684.5V974.9H685V978.1H685.5V978H686V977.4H686.5V977.7H687V975.7H687.5V975.2H688V975.6H688.5V975.5H689V972.3H689.5V972.5H690V973.2H690.5V972.9H691V977.3H691.5V977.1H692V970.3H692.5V970.4H693V973.9H693.5V973.7H694V976.1H694.5V975.8H695V974.2H695.5V973.8H696V970.7H696.5V970.8H697V970.5H697.5V970.5H698V974.9H698.5V974.9H699V969.9H699.5V970H700V975.4H700.5V974.7H701V970H701.5V969.5H702V971.2H702.5V971.3H703V967.6H703.5V967.8H704V967.5H704.5V967.6H705V972.8H705.5V973.2H706V974.8H706.5V974.7H707V967.8H707.5V967.4H708V968.2H708.5V967.9H709V970.8H709.5V970.1H710V973.5H710.5V974.1H711V972.8H711.5V973.1H712V973H712.5V972.6H713V971.5H713.5V970.6H714V966.5H714.5V965.9H715V966.6H715.5V966.3H716V970.1H716.5V969.6H717V966.8H717.5V966.8H718V971.6H718.5V971.5H719V974.7H719.5V974H720V971.6H720.5V971.4H721V972.7H721.5V973.3H722V969.7H722.5V969.3H723V968.9H723.5V969.3H724V972H724.5V972.3H725V973.3H725.5V973.8H726V977.1H726.5V977H727V971.1H727.5V971.1H728V972.7H728.5V972.6H729V977.2H729.5V978H730V975.3H730.5V974.9H731V976.4H731.5V977.3H732V973.1H732.5V973.3H733V972.7H733.5V972.4H734V971.9H734.5V971.6H735V975.9H735.5V976.2H736V973.5H736.5V973.7H737V975H737.5V975.2H738V974.7H738.5V974H739V978.7H739.5V978.6H740V972.9H740.5V972H741V974.5H741.5V974.7H742V973.8H742.5V972.9H743V974.3H743.5V973.5H744V971.6H744.5V971.8H745V976.9H745.5V976.5H746V978.7H746.5V978.4H747V971.4H747.5V972H748V978H748.5V978.1H749V976.6H749.5V977.1H750V972.8H750.5V972.8H751V979.2H751.5V978.9H752V975.1H752.5V978H753V983H753.5V982.9H754V982.7H754.5V979.3H755V981.2H755.5V981.3H756V980.3H756.5V979.9H757V976H757.5V975.7H758V973.1H758.5V972.7H759V974H759.5V974H760V970.3H760.5V970.3H761V974.4H761.5V974.7H762V973.9H762.5V974.2H763V974.4H763.5V974H764V971.3H764.5V972.1H765V972.4H765.5V972.2H766V975.9H766.5V975.4H767V968.2H767.5V967.9H768V968.1H768.5V967.4H769V972.3H769.5V972.2H770V969.2H770.5V969.8H771V976.5H771.5V977.4H772V975.9H772.5V976.7H773V979.3H773.5V980.9H774V979.8H774.5V984.1H775V981.6H775.5V976.6H776V977.5H776.5V973.1H777V967.2H777.5V966.7H778V967.1H778.5V967.4H779V968H779.5V967.3H780V971.8H780.5V971.7H781V966.6H781.5V967H782V971.2H782.5V971.4H783V972H783.5V971.8H784V966.4H784.5V966H785V971.5H785.5V971.9H786V973.2H786.5V973.1H787V972.3H787.5V972.2H788V970.6H788.5V970.5H789V971.3H789.5V971.9H790V966.4H790.5V965.8H791V970.8H791.5V970.6H792V967H792.5V966.5H793V964.9H793.5V964.6H794V971H794.5V970.9H795V966H795.5V966.1H796V971.6H796.5V971.6H797V969.7H797.5V970H798V969H798.5V968.3H799V969.5H799.5V969.1H800V965.1H800.5V964.2H801V962.7H801.5V963H802V964.4H802.5V964.1H803V968.4H803.5V968.1H804V967.7H804.5V967.5H805V962H805.5V961.7H806V965.5H806.5V965.9H807V966H807.5V965.9H808V961.9H808.5V962.6H809V967.4H809.5V967.9H810V968.1H810.5V967.8H811V962.2H811.5V961.5H812V967.5H812.5V967.2H813V965.3H813.5V965.2H814V965.1H814.5V964.3H815V967.3H815.5V967.2H816V962.1H816.5V962.4H817V962.2H817.5V962.4H818V965.3H818.5V965.3H819V962.9H819.5V963.6H820V961.8H820.5V961.4H821V960.4H821.5V960.5H822V964.7H822.5V965.3H823V959.2H823.5V958.4H824V958.3H824.5V958.8H825V961.3H825.5V961.3H826V961.5H826.5V961.6H827V961.8H827.5V961.7H828V959.2H828.5V959H829V960.1H829.5V960.1H830V959.5H830.5V959.1H831V959.1H831.5V959.2H832V960.7H832.5V960.4H833V963.4H833.5V963.9H834V959.6H834.5V959.1H835V957.8H835.5V957.3H836V959.9H836.5V960.2H837V960.2H837.5V960.1H838V962.6H838.5V962.9H839V957.1H839.5V957.9H840V956.9H840.5V957.6H841V963.9H841.5V964.4H842V963.9H842.5V964.5H843V966.2H843.5V967.6H844V961.7H844.5V962.4H845V964.7H845.5V965.5H846V965.2H846.5V965.3H847V964.6H847.5V965.2H848V965.7H848.5V966.3H849V964.8H849.5V964.7H850V966.2H850.5V966.1H851V968.2H851.5V968.9H852V967.5H852.5V968.2H853V966.4H853.5V966.2H854V966.3H854.5V966.1H855V969.9H855.5V970.6H856V967.9H856.5V968H857V969.9H857.5V970.5H858V975.5H858.5V975.5H859V970H859.5V970.4H860V968.4H860.5V967.9H861V971.5H861.5V972H862V971.4H862.5V971.6H863V969H863.5V968.8H864V968.3H864.5V968H865V965.2H865.5V964.8H866V965H866.5V964.2H867V966.4H867.5V966.9H868V970H868.5V971.3H869V971H869.5V972.4H870V974H870.5V972.4H871V970H871.5V967.8H872V967.2H872.5V967.3H873V968H873.5V967.7H874V966.9H874.5V965.9H875V962.6H875.5V961.9H876V965.1H876.5V964.9H877V966.8H877.5V966.3H878V961.9H878.5V961.5H879V965.3H879.5V965.1H880V961.8H880.5V962.3H881V965H881.5V964H882V960.9H882.5V961.4H883V962.7H883.5V963H884V963.4H884.5V963.5H885V959.8H885.5V961.5H886V966.7H886.5V968H887V965.9H887.5V968.4H888V968.4H888.5V970.7H889V970H889.5V968.2H890V971.6H890.5V969.5H891V964.6H891.5V961.7H892V963.9H892.5V963.1H893V957.6H893.5V956.4H894V958H894.5V956.9H895V958.3H895.5V958.4H896V962.6H896.5V961.9H897V960.1H897.5V959.9H898V961.8H898.5V962.4H899V959.7H899.5V959.8H900V958.6H900.5V958.8H901V959.6H901.5V959.8H902V958.8H902.5V958.1H903V958.3H903.5V958.5H904V958H904.5V957.6H905V959.8H905.5V959.5H906V960.9H906.5V960.7H907V961.7H907.5V962H908V958.7H908.5V959.2H909V958.4H909.5V959.4H910V962.6H910.5V963.6H911V961.5H911.5V961.4H912V967.6H912.5V967.6H913V967.6H913.5V968.1H914V963.7H914.5V964.3H915V963.2H915.5V964H916V963.9H916.5V964.3H917V970.7H917.5V971.4H918V965.7H918.5V966.1H919V970.8H919.5V970.7H920V973.7H920.5V974.3H921V970.6H921.5V970.9H922V973.2H922.5V974H923V970.1H923.5V970.3H924V973.4H924.5V973.3H925V970.6H925.5V970.4H926V969.9H926.5V969.5H927V966.7H927.5V966.2H928V968.6H928.5V968.5H929V970.1H929.5V969.5H930V968.5H930.5V968.1H931V966.7H931.5V966.7H932V970.4H932.5V970.2H933V968.3H933.5V968H934V966.6H934.5V965.8H935V963.2H935.5V963H936V963.3H936.5V962.6H937V962.8H937.5V962.6H938V966.2H938.5V965.9H939V959.7H939.5V959.2H940V960.9H940.5V960.7H941V958H941.5V958H942V959.5H942.5V959.2H943V956.5H943.5V956.5H944V955.7H944.5V955.6H945V957.3H945.5V956.7H946V956.9H946.5V957.6H947V956.2H947.5V956.2H948V961H948.5V960.5H949V963.8H949.5V964.4H950V957.1H950.5V957.2H951V962.9H951.5V962.8H952V958.6H952.5V958.4H953V958.3H953.5V958.2H954V963.1H954.5V962.7H955V959.5H955.5V959H956V963.4H956.5V963.7H957V964.8H957.5V965.7H958V964.8H958.5V964.8H959V963H959.5V962.8H960V963.8H960.5V964.3H961V959.5H961.5V960.1H962V958.2H962.5V958.1H963V961H963.5V960.6H964V961H964.5V960.9H965V963.5H965.5V962.3H966V959.6H966.5V959.2H967V958H967.5V957.9H968V955.1H968.5V954.2H969V953.7H969.5V952.6H970V960.1H970.5V959.6H971V952.3H971.5V952.1H972V952H972.5V952H973V951.9H973.5V951.6H974V955.5H974.5V955.3H975V954.2H975.5V954.8H976V951.7H976.5V951.6H977V953.6H977.5V953.7H978V956H978.5V956.2H979V953.5H979.5V952.7H980V954.4H980.5V954.2H981V957.3H981.5V956.4H982V953.6H982.5V953.2H983V950.7H983.5V950.2H984V949.6H984.5V949.2H985V955.1H985.5V954.5H986V953.4H986.5V953.2H987V952.7H987.5V953.1H988V953.4H988.5V953H989V954.3H989.5V954.1H990V950.5H990.5V949.8H991V950.7H991.5V951.6H992V956.4H992.5V956.5H993V954.7H993.5V955.1H994V955.2H994.5V954.9H995V949H995.5V949H996V951.7H996.5V951.8H997V948.4H997.5V948.2H998V947.7H998.5V947.2H999V950.8H999.5V951.6H1000V949.8H1000.5V951.3H1001V956H1001.5V956.3H1002V952.4H1002.5V953.3H1003V957.5H1003.5V958.1H1004V955.8H1004.5V955.7H1005V957.2H1005.5V957.6H1006V959.2H1006.5V960.5H1007V960H1007.5V961.1H1008V959.2H1008.5V958.8H1009V964.7H1009.5V965.2H1010V966.2H1010.5V966.2H1011V963.1H1011.5V962.6H1012V964.6H1012.5V965.5H1013V960.8H1013.5V960.9H1014V968.4H1014.5V968.5H1015V961.4H1015.5V962H1016V964.4H1016.5V963.4H1017V959.5H1017.5V958.5H1018V961.3H1018.5V960.7H1019V958H1019.5V956.9H1020V959.5H1020.5V959.6H1021V954.3H1021.5V953.7H1022V953.3H1022.5V952.8H1023V958.9H1023.5V957.7H1024V955.6H1024.5V955.2H1025V950.3H1025.5V950.3H1026V954.7H1026.5V954.6H1027V950.1H1027.5V949.9H1028V949.5H1028.5V948.9H1029V954H1029.5V954.1H1030V948.5H1030.5V948.7H1031V954.7H1031.5V954.1H1032V948.7H1032.5V948.5H1033V947.8H1033.5V947.9H1034V947.1H1034.5V946.8H1035V951.1H1035.5V950.2H1036V944.2H1036.5V943.7H1037V947.6H1037.5V947.6H1038V950.9H1038.5V951.1H1039V947.4H1039.5V947.4H1040V945.7H1040.5V945.6H1041V942.1H1041.5V942.3H1042V948H1042.5V947.3H1043V947.7H1043.5V947.8H1044V947.8H1044.5V947.9H1045V940.4H1045.5V940.6H1046V943.7H1046.5V943.5H1047V941.7H1047.5V941.6H1048V945H1048.5V944.7H1049V940.5H1049.5V940.8H1050V942.6H1050.5V942.8H1051V939.5H1051.5V939.3H1052V944.2H1052.5V943.6H1053V944.6H1053.5V945.1H1054V940.9H1054.5V941H1055V943.4H1055.5V943.7H1056V938H1056.5V938.3H1057V943.2H1057.5V942.6H1058V938H1058.5V938.3H1059V938.1H1059.5V938.3H1060V938.1H1060.5V938.7H1061V940.2H1061.5V940.8H1062V940.7H1062.5V941H1063V945.6H1063.5V946.5H1064V942.3H1064.5V942H1065V944.6H1065.5V945.3H1066V946.5H1066.5V946.9H1067V950.4H1067.5V951.2H1068V951.8H1068.5V951.8H1069V944.7H1069.5V944.7H1070V950.9H1070.5V951.5H1071V947.3H1071.5V947.6H1072V950.1H1072.5V951.1H1073V952.4H1073.5V953.1H1074V955.4H1074.5V955.5H1075V952.2H1075.5V953H1076V951.5H1076.5V951.2H1077V950.6H1077.5V951.1H1078V958.7H1078.5V958.6H1079V953.2H1079.5V953.2H1080V957.6H1080.5V958.5H1081V955.5H1081.5V955.4H1082V959.3H1082.5V959.7H1083V956.4H1083.5V956.7H1084V959.5H1084.5V959.4H1085V956.9H1085.5V957.1H1086V961.7H1086.5V961.7H1087V959.6H1087.5V959.8H1088V964.7H1088.5V964.4H1089V959.4H1089.5V959.9H1090V964.4H1090.5V964.6H1091V959.4H1091.5V959.8H1092V958.7H1092.5V957.7H1093V961.3H1093.5V961.3H1094V956.5H1094.5V957H1095V961.6H1095.5V960.9H1096V960H1096.5V958.8H1097V958.6H1097.5V957.8H1098V956.8H1098.5V955.9H1099V954.6H1099.5V954.2H1100V957.8H1100.5V958H1101V954.9H1101.5V955.2H1102V957.3H1102.5V957H1103V961.1H1103.5V960.6H1104V957.6H1104.5V957.8H1105V952.8H1105.5V952.6H1106V958.4H1106.5V958.2H1107V956H1107.5V956.2H1108V954.5H1108.5V954.6H1109V953.1H1109.5V952.8H1110V956.7H1110.5V956.3H1111V953.1H1111.5V953.5H1112V955.5H1112.5V955.1H1113V953.2H1113.5V953.2H1114V952H1114.5V952H1115V950.7H1115.5V951H1116V954.5H1116.5V954.5H1117V957.4H1117.5V956.7H1118V950.7H1118.5V950.6H1119V957H1119.5V956.3H1120V953.1H1120.5V953H1121V949.9H1121.5V949.7H1122V953.4H1122.5V952.9H1123V955.8H1123.5V955.2H1124V948.6H1124.5V948.3H1125V952.4H1125.5V952.6H1126V951.7H1126.5V950.7H1127V952.3H1127.5V951.3H1128V946.3H1128.5V946H1129V948.3H1129.5V947.8H1130V948.7H1130.5V948.6H1131V947.8H1131.5V948.3H1132V946.6H1132.5V946.2H1133V950.3H1133.5V950.4H1134V950.9H1134.5V951.5H1135V951.4H1135.5V951.7H1136V949.4H1136.5V949.4H1137V949.6H1137.5V950.6H1138V957.8H1138.5V957.9H1139V952.1H1139.5V951.9H1140V954.9H1140.5V955.5H1141V952.3H1141.5V951.8H1142V954.7H1142.5V954.5H1143V954.7H1143.5V955H1144V953.7H1144.5V953.7H1145V952.2H1145.5V952.1H1146V950H1146.5V949.5H1147V952.6H1147.5V952.3H1148V954.9H1148.5V955H1149V952.7H1149.5V952.6H1150V951.6H1150.5V951.5H1151V954.8H1151.5V954.2H1152V952H1152.5V951.7H1153V944.9H1153.5V944.5H1154V945.9H1154.5V945H1155V944.5H1155.5V945.1H1156V944.2H1156.5V944.9H1157V944.6H1157.5V945.6H1158V948.5H1158.5V948.3H1159V946.3H1159.5V946.2H1160V949.3H1160.5V948.5H1161V942.1H1161.5V941.4H1162V943.3H1162.5V942.3H1163V940.3H1163.5V941H1164V947.3H1164.5V947.6H1165V944.1H1165.5V944.4H1166V948H1166.5V948.1H1167V947.4H1167.5V947.5H1168V943.6H1168.5V943H1169V950.4H1169.5V951.2H1170V946.2H1170.5V946H1171V949.2H1171.5V949.1H1172V948.2H1172.5V949.1H1173V946.5H1173.5V947.4H1174V949.7H1174.5V950.1H1175V950.2H1175.5V950.8H1176V959.2H1176.5V967H1177V969.8H1177.5V968.5H1178V968.6H1178.5V967.3H1179V964.6H1179.5V964.1H1180V959.2H1180.5V958.7H1181V958.2H1181.5V957.7H1182V961.2H1182.5V961.6H1183V963.2H1183.5V964.1H1184V962.6H1184.5V963.9H1185V964.5H1185.5V965.2H1186V964.2H1186.5V964.9H1187V967.9H1187.5V969.3H1188V968.7H1188.5V999H1188V1008.9H1187.5V1008.7H1187V1002.3H1186.5V1001.3H1186V999.5H1185.5V998.6H1185V1009.3H1184.5V1009.7H1184V991.3H1183.5V985.4H1183V986.8H1182.5V990.2H1182V988.2H1181.5V985.7H1181V1004.2H1180.5V1003.7H1180V1001.8H1179.5V1001.4H1179V999.2H1178.5V998.8H1178V986H1177.5V987.9H1177V987.1H1176.5V986.7H1176V992.8H1175.5V991H1175V993.2H1174.5V992.1H1174V980.3H1173.5V984.9H1173V980.5H1172.5V983.5H1172V996.9H1171.5V996.2H1171V994.2H1170.5V993.8H1170V978.4H1169.5V982H1169V979.6H1168.5V977.4H1168V989.5H1167.5V988.7H1167V981.8H1166.5V981.7H1166V978.6H1165.5V978.2H1165V976.7H1164.5V981.3H1164V984.7H1163.5V985.9H1163V985.5H1162.5V985.9H1162V978.1H1161.5V980.5H1161V978.8H1160.5V980.4H1160V980.1H1159.5V977.2H1159V980.2H1158.5V974.3H1158V974.1H1157.5V979.9H1157V984.1H1156.5V983.2H1156V986.4H1155.5V987H1155V985.3H1154.5V985.7H1154V989.1H1153.5V989H1153V985.3H1152.5V985.7H1152V983.6H1151.5V984.6H1151V979.1H1150.5V979.2H1150V989.7H1149.5V990.9H1149V978.2H1148.5V978.7H1148V978.1H1147.5V978H1147V985.9H1146.5V985.6H1146V976.8H1145.5V978.2H1145V976.5H1144.5V980.4H1144V988.5H1143.5V988.3H1143V980.6H1142.5V980.8H1142V977.4H1141.5V979.3H1141V977.9H1140.5V981.4H1140V978.2H1139.5V981.5H1139V978.7H1138.5V981.1H1138V978.1H1137.5V978.3H1137V979.2H1136.5V981.7H1136V978.2H1135.5V977.5H1135V981.1H1134.5V981H1134V979.7H1133.5V979.1H1133V977.4H1132.5V977.1H1132V975.9H1131.5V971H1131V976.8H1130.5V976.6H1130V977.7H1129.5V976.9H1129V967.7H1128.5V970.4H1128V971.7H1127.5V973.1H1127V970.2H1126.5V971.3H1126V972H1125.5V972.7H1125V969.5H1124.5V972.8H1124V974.2H1123.5V972.3H1123V975.3H1122.5V973.2H1122V972.4H1121.5V976.9H1121V971.4H1120.5V973.2H1120V976.6H1119.5V978.3H1119V979.5H1118.5V978.5H1118V976.6H1117.5V980.8H1117V979.5H1116.5V975.2H1116V979H1115.5V979.9H1115V977.9H1114.5V980.5H1114V979.6H1113.5V978H1113V989.6H1112.5V988.8H1112V988.4H1111.5V988.5H1111V978.7H1110.5V975.7H1110V994.7H1109.5V993.1H1109V985.6H1108.5V985.4H1108V987.9H1107.5V987.5H1107V992.7H1106.5V993.2H1106V980.8H1105.5V975H1105V983.3H1104.5V984.7H1104V988.6H1103.5V989.6H1103V980.2H1102.5V976.7H1102V985.1H1101.5V984.9H1101V983.4H1100.5V985.4H1100V991.8H1099.5V992.9H1099V996.3H1098.5V997.2H1098V988.1H1097.5V986.5H1097V998.9H1096.5V998.7H1096V998.6H1095.5V998.9H1095V979.4H1094.5V980.4H1094V994.9H1093.5V995.6H1093V981.5H1092.5V976.9H1092V978.6H1091.5V981.5H1091V1001.5H1090.5V1000.6H1090V976.6H1089.5V977.7H1089V981H1088.5V981.9H1088V981.8H1087.5V981.1H1087V982.1H1086.5V980.9H1086V1000.9H1085.5V1000.1H1085V979.1H1084.5V981.9H1084V980.9H1083.5V982.3H1083V981.7H1082.5V979.8H1082V1009.1H1081.5V1008H1081V980.7H1080.5V981H1080V980.7H1079.5V979.2H1079V976.3H1078.5V978.6H1078V978.4H1077.5V977.6H1077V974.3H1076.5V976.1H1076V977.2H1075.5V976.6H1075V977.3H1074.5V975.6H1074V985.5H1073.5V984.5H1073V976.1H1072.5V971.3H1072V988.4H1071.5V986.4H1071V983.5H1070.5V983.3H1070V973.6H1069.5V973.7H1069V973.8H1068.5V973H1068V973.5H1067.5V968.9H1067V972.7H1066.5V971.7H1066V970.2H1065.5V967.5H1065V969.9H1064.5V967.2H1064V976.8H1063.5V977.9H1063V985.7H1062.5V986.1H1062V996.7H1061.5V997.8H1061V966.6H1060.5V967.3H1060V984.2H1059.5V984.3H1059V1000.4H1058.5V1001.4H1058V1006.7H1057.5V1008.4H1057V970.3H1056.5V965.7H1056V969.9H1055.5V968.1H1055V982.4H1054.5V983.4H1054V1008.9H1053.5V1007.3H1053V1002.7H1052.5V1001.3H1052V969H1051.5V968.8H1051V969.1H1050.5V966.2H1050V966.5H1049.5V968.8H1049V967H1048.5V965.7H1048V968.5H1047.5V965.9H1047V982.6H1046.5V982.5H1046V986H1045.5V985.4H1045V999.9H1044.5V998.8H1044V971.1H1043.5V970H1043V968.7H1042.5V971.9H1042V971.7H1041.5V970H1041V987.4H1040.5V985.9H1040V966.8H1039.5V972.4H1039V971.4H1038.5V968.5H1038V972.4H1037.5V970.1H1037V973.1H1036.5V972.5H1036V973.3H1035.5V972.3H1035V973.4H1034.5V968.6H1034V985.8H1033.5V986.4H1033V976.7H1032.5V975.7H1032V980.2H1031.5V979.4H1031V979.1H1030.5V980.8H1030V987H1029.5V987.4H1029V974.5H1028.5V974H1028V974.3H1027.5V972.3H1027V972.8H1026.5V970.2H1026V981.3H1025.5V983H1025V986.2H1024.5V987.3H1024V976.8H1023.5V977.7H1023V974.3H1022.5V978.5H1022V979.8H1021.5V978.7H1021V980H1020.5V982.9H1020V983.4H1019.5V982.4H1019V983.4H1018.5V986H1018V992.3H1017.5V994.6H1017V985.2H1016.5V986.8H1016V986H1015.5V989.2H1015V989.1H1014.5V985.9H1014V986.9H1013.5V986.4H1013V994.4H1012.5V994.4H1012V1007.6H1011.5V1009.7H1011V986.7H1010.5V989.4H1010V1006.3H1009.5V1006.8H1009V1004.1H1008.5V1004.2H1008V1009.2H1007.5V1008.4H1007V1015.8H1006.5V1016.5H1006V1003.7H1005.5V1002.6H1005V1017.9H1004.5V1018.6H1004V994.4H1003.5V993.8H1003V999.4H1002.5V998.6H1002V981.2H1001.5V979.9H1001V981.6H1000.5V980.2H1000V981.9H999.5V980.9H999V982.1H998.5V982.4H998V981.5H997.5V981.7H997V1001.9H996.5V1000.3H996V978H995.5V978.5H995V981.5H994.5V981.9H994V1001.1H993.5V1001.7H993V980H992.5V982H992V993.5H991.5V993.6H991V977H990.5V979.7H990V980.5H989.5V978.2H989V980.8H988.5V981.4H988V981H987.5V979.7H987V981H986.5V979.9H986V981.6H985.5V977.4H985V978H984.5V981.7H984V996.6H983.5V995.5H983V979H982.5V982.6H982V989.2H981.5V988.1H981V995H980.5V994H980V984.6H979.5V984.9H979V984.8H978.5V985.7H978V1001.6H977.5V1003.2H977V985.6H976.5V985.7H976V984.7H975.5V986.2H975V985.8H974.5V985.9H974V988.5H973.5V988.9H973V992.8H972.5V993.6H972V1009.3H971.5V1009H971V1001.5H970.5V1001.5H970V984H969.5V988.7H969V983.9H968.5V986.2H968V987.6H967.5V985.4H967V988.5H966.5V988.3H966V988.7H965.5V988.7H965V983.7H964.5V989.4H964V988.9H963.5V987.5H963V989.3H962.5V984.2H962V989H961.5V984.3H961V1000.5H960.5V999.5H960V1009.2H959.5V1009.4H959V984.4H958.5V987.7H958V988.5H957.5V989.4H957V1004.5H956.5V1005.4H956V987.9H955.5V989.5H955V989.4H954.5V984.9H954V989.4H953.5V989.2H953V988.7H952.5V988H952V986.8H951.5V986.8H951V1001.3H950.5V1002.1H950V996.4H949.5V996.1H949V983.8H948.5V988.8H948V989.5H947.5V988.8H947V1005.2H946.5V1004.5H946V985.1H945.5V989.2H945V989.1H944.5V984.5H944V988.4H943.5V989.5H943V986.2H942.5V987.5H942V986.6H941.5V989H941V988.4H940.5V983.9H940V989.4H939.5V989.4H939V988H938.5V989.5H938V1007.4H937.5V1007.1H937V1004.6H936.5V1006.5H936V990.3H935.5V988.5H935V990.2H934.5V992.9H934V999.9H933.5V1001.5H933V1014.1H932.5V1014.3H932V1016.8H931.5V1017.9H931V1000.2H930.5V995.2H930V997.6H929.5V1002.5H929V1002.8H928.5V998.1H928V1008.9H927.5V1008.2H927V998H926.5V996.4H926V1001.7H925.5V1000.3H925V1010.7H924.5V1011.6H924V1018.2H923.5V1018.7H923V1010.1H922.5V1009.4H922V1008H921.5V1009.3H921V1007.9H920.5V1008.9H920V996.9H919.5V995.9H919V993.7H918.5V994.7H918V1011.8H917.5V1011.5H917V997.9H916.5V995.8H916V993.3H915.5V998.1H915V997.6H914.5V993.2H914V997.5H913.5V997H913V996.8H912.5V996.8H912V996.7H911.5V993.7H911V1018.2H910.5V1017.1H910V995.8H909.5V993H909V1005.7H908.5V1004.1H908V1008.3H907.5V1009.1H907V994.6H906.5V994.5H906V989.7H905.5V992.7H905V993.7H904.5V993.7H904V993.3H903.5V992.2H903V992.8H902.5V989.8H902V1021.2H901.5V1020.9H901V1021.1H900.5V1020.7H900V991.2H899.5V988.7H899V1019.2H898.5V1020.9H898V1025.4H897.5V1025.7H897V990.3H896.5V987.3H896V1026H895.5V1025.6H895V990.9H894.5V992.5H894V993H893.5V990.8H893V992.3H892.5V987.6H892V1014.9H891.5V1014.1H891V1017.2H890.5V1015.8H890V988.2H889.5V993H889V992.9H888.5V992.9H888V1001.7H887.5V1001.9H887V1012.5H886.5V1012.7H886V989.3H885.5V992.6H885V992.1H884.5V993.2H884V993.2H883.5V993H883V1006.9H882.5V1007H882V1005.6H881.5V1005.6H881V994.3H880.5V994.9H880V994.7H879.5V991.7H879V1018.8H878.5V1020.3H878V991.7H877.5V995.1H877V995H876.5V996.5H876V996.1H875.5V994.8H875V997.1H874.5V996.4H874V993.1H873.5V994.7H873V1021.3H872.5V1020.8H872V1034.4H871.5V1032.2H871V1013.9H870.5V1012.4H870V1023.8H869.5V1023.5H869V999.5H868.5V997.7H868V997H867.5V995.5H867V999.9H866.5V996.8H866V1007.4H865.5V1006.6H865V1018.2H864.5V1017.8H864V1010.7H863.5V1010.5H863V1014.4H862.5V1014H862V1002.2H861.5V1002.1H861V999.9H860.5V1002.9H860V1011H859.5V1011.8H859V1014.1H858.5V1014.9H858V1011.8H857.5V1012.9H857V1009.1H856.5V1009.7H856V1020.1H855.5V1020.7H855V1001.3H854.5V1003.8H854V1006.1H853.5V1002.1H853V1005H852.5V1000.8H852V998.4H851.5V1002.8H851V995.7H850.5V997.6H850V1019.1H849.5V1018.7H849V996.8H848.5V994.1H848V1011.6H847.5V1011.1H847V1006.2H846.5V1005.4H846V1006H845.5V1005.7H845V1011.4H844.5V1011.2H844V1006.5H843.5V1006.7H843V1000.8H842.5V1001.6H842V994.5H841.5V993.6H841V993.6H840.5V993.1H840V992.3H839.5V992H839V996.9H838.5V995.2H838V995.5H837.5V995.8H837V985.3H836.5V988H836V987.2H835.5V984.4H835V1002.3H834.5V1002.6H834V984H833.5V983.4H833V1002.4H832.5V1002.6H832V996.9H831.5V996.7H831V990H830.5V990.8H830V1001.6H829.5V1001.6H829V989.2H828.5V988.9H828V988.3H827.5V987.9H827V976.4H826.5V977.8H826V975.2H825.5V974.5H825V977.3H824.5V976H824V988H823.5V988.1H823V999.6H822.5V998.5H822V976.2H821.5V975.9H821V980.8H820.5V975.8H820V985.1H819.5V984H819V989.9H818.5V988.7H818V984.7H817.5V987H817V987.3H816.5V987.7H816V979.1H815.5V983.4H815V987.8H814.5V989.4H814V989.3H813.5V990.3H813V1004.1H812.5V1005H812V998.6H811.5V999.4H811V986.3H810.5V983.9H810V986.3H809.5V983H809V986.7H808.5V981.8H808V987.1H807.5V987.2H807V1011.3H806.5V1011.1H806V1007.2H805.5V1006.6H805V982.5H804.5V983.1H804V986.9H803.5V986.9H803V988.1H802.5V987.9H802V984.5H801.5V985.1H801V988.5H800.5V988.2H800V1011.2H799.5V1009.3H799V1013.1H798.5V1011.2H798V1009.1H797.5V1008.4H797V993.2H796.5V992.8H796V1001.5H795.5V1002.4H795V1003.2H794.5V1003.1H794V984.8H793.5V988.1H793V994.3H792.5V995.4H792V997.4H791.5V997.6H791V996.9H790.5V996.5H790V1006.2H789.5V1006.9H789V991.8H788.5V989.1H788V1000.4H787.5V999.3H787V1001.5H786.5V1001.8H786V989.1H785.5V992.6H785V993.2H784.5V995.6H784V995.3H783.5V991.3H783V995.9H782.5V998.3H782V1003.8H781.5V1005.1H781V1000.5H780.5V1001.6H780V999.6H779.5V1001.8H779V1009.1H778.5V1010.7H778V1014.5H777.5V1014.4H777V1021.8H776.5V1022.7H776V1032.8H775.5V1034.7H775V1009.3H774.5V1014.6H774V1015.3H773.5V1012.1H773V1024.3H772.5V1022.3H772V1033.4H771.5V1033.2H771V1007H770.5V1009.8H770V1006.8H769.5V1008.6H769V1008H768.5V1002.4H768V1001.4H767.5V1004.6H767V1000.7H766.5V1003.3H766V1015.1H765.5V1014.2H765V1015.3H764.5V1013.8H764V1011.4H763.5V1009.6H763V1004H762.5V1004.6H762V1001.9H761.5V1001.4H761V1003.6H760.5V1001.8H760V1005.7H759.5V1006.6H759V1010.4H758.5V1012.1H758V1008.2H757.5V1009.3H757V1006.4H756.5V1008.6H756V999H755.5V996.6H755V1000.1H754.5V1002H754V1002H753.5V997.4H753V1010.9H752.5V1010.1H752V1022.3H751.5V1022.3H751V1031.9H750.5V1032.6H750V1018.2H749.5V1019.1H749V1031.5H748.5V1032.8H748V1004.1H747.5V999.2H747V1020.2H746.5V1019.9H746V1026.3H745.5V1026.8H745V1042.4H744.5V1041.7H744V1003.3H743.5V1001.9H743V1017.5H742.5V1017.2H742V1019.9H741.5V1020.7H741V1015.5H740.5V1016.1H740V1019.4H739.5V1019.9H739V1037.3H738.5V1036.6H738V1000.8H737.5V999.5H737V1016.6H736.5V1017.8H736V1039.3H735.5V1039.2H735V1026.1H734.5V1025.8H734V1016.2H733.5V1015.5H733V1007.2H732.5V1007.8H732V1030H731.5V1030.3H731V1021H730.5V1020.3H730V1021.5H729.5V1020.5H729V997.4H728.5V1001.1H728V1022.9H727.5V1022.9H727V1016.5H726.5V1017.2H726V1014.5H725.5V1015.5H725V1029.2H724.5V1029.6H724V997.6H723.5V998.8H723V1001.7H722.5V1000.5H722V1001.1H721.5V996.2H721V1001.3H720.5V1001.7H720V1024.6H719.5V1024H719V1019.6H718.5V1021.3H718V996.5H717.5V999.9H717V999.8H716.5V1001.2H716V1026.7H715.5V1025.5H715V995.7H714.5V996.9H714V996.4H713.5V1001.2H713V1013.2H712.5V1011.5H712V1025.4H711.5V1025.4H711V1013.3H710.5V1013.3H710V1037.7H709.5V1038.5H709V1001.4H708.5V998.4H708V1001H707.5V996.5H707V1039.4H706.5V1038H706V1015.6H705.5V1016.9H705V1025.6H704.5V1027.1H704V1001H703.5V1000.1H703V1033.5H702.5V1033.7H702V1000.6H701.5V996.2H701V1010.8H700.5V1010.2H700V1022.9H699.5V1022.1H699V1000.9H698.5V1001.1H698V1001.1H697.5V1000.3H697V999.6H696.5V997.7H696V1001.1H695.5V998.9H695V995.5H694.5V1000.5H694V1000.4H693.5V998.1H693V1017.1H692.5V1018.5H692V1010.4H691.5V1009.8H691V1022.2H690.5V1022H690V1040.5H689.5V1041.3H689V1020.6H688.5V1020.5H688V1016H687.5V1016H687V1014.3H686.5V1014.6H686V1028.9H685.5V1028.4H685V1002.5H684.5V999.9H684V999.2H683.5V1000H683V1002.7H682.5V999.2H682V1018.9H681.5V1019.9H681V1034.3H680.5V1033.9H680V1027H679.5V1025.4H679V1002.9H678.5V1002.7H678V1000.2H677.5V1001.7H677V1016.1H676.5V1017.4H676V1018.8H675.5V1019.8H675V1001.5H674.5V997.8H674V1002.8H673.5V1002.5H673V1030.6H672.5V1031.4H672V1003H671.5V1002.3H671V1022.1H670.5V1022H670V1022.7H669.5V1023.5H669V1023.6H668.5V1022.6H668V1000.2H667.5V997.6H667V1028.9H666.5V1029.3H666V1015.4H665.5V1017.1H665V1000.1H664.5V999.5H664V1032H663.5V1031.9H663V1001.4H662.5V1002.2H662V1023.9H661.5V1025H661V1019.6H660.5V1020.1H660V1037.7H659.5V1036.8H659V1006.7H658.5V1009H658V1030.3H657.5V1030.9H657V1009.5H656.5V1013.9H656V1014H655.5V1013.7H655V1030.4H654.5V1030.2H654V1025.8H653.5V1026.2H653V1031.3H652.5V1032.3H652V1011.7H651.5V1007.3H651V1011.7H650.5V1011.4H650V1009.6H649.5V1008.2H649V1022.6H648.5V1023.7H648V1019.7H647.5V1019.1H647V1020.2H646.5Z" fill="#ff0000" stroke="#ff0000" stroke-width="0.3"/>
<path d="M557.5 965V976.6M559.5 962V975.6M562.5 966V975.5M555.5 968V978.06M291.5 955V973.36M313.5 953V966.52M316.5 958V966.88M338.5 960V969.65M543.5 966.6V982.42M1175.5 918.6V953.17M1152.5 940V951.5M80.5 930V940.58M148.5 936V942.45M583.4 988V1025M588 977V1001M592 970V981M581.5 985V1003M650.5 934.5V960M654.7 933.75V960M652 945V960" stroke="#ff0000" stroke-width="0.9" fill="none"/>
<rect x="79.44" y="857.44" width="376.67" height="25.11" rx="2.8" ry="2.8" fill="#fff" fill-opacity="0.8" stroke="#ccc" stroke-opacity="0.8" stroke-width="1.39"/>
<path d="M85 869.5H112.8" stroke="#000" stroke-width="0.69" fill="none"/>
<path d="M290.7 869.5H318.4" stroke="#ff0000" stroke-width="0.69" fill="none"/>
</g>
<path d="M92.5 1135.5v4.86M228.5 1135.5v4.86M363.5 1135.5v4.86M498.5 1135.5v4.86M633.5 1135.5v4.86M769.5 1135.5v4.86M904.5 1135.5v4.86M1039.5 1135.5v4.86M1174.5 1135.5v4.86M72.5 1135.5h-4.86M72.5 1096.5h-4.86M72.5 1056.5h-4.86M72.5 1017.5h-4.86M72.5 978.5h-4.86M72.5 939.5h-4.86M72.5 899.5h-4.86M72.5 860.5h-4.86" stroke="#000" stroke-width="1.11" fill="none"/>
<rect x="72.5" y="850.5" width="1116.0" height="285.0" fill="none" stroke="#000" stroke-width="1.11"/>
<rect x="72.5" y="1235.5" width="328.0" height="285.0" fill="#FEFCE1"/>
<path d="M72.5 1520.5V1235.5M127.5 1520.5V1235.5M181.5 1520.5V1235.5M236.5 1520.5V1235.5M291.5 1520.5V1235.5M345.5 1520.5V1235.5M400.5 1520.5V1235.5M72.5 1488.5H400.5M72.5 1435.5H400.5M72.5 1381.5H400.5M72.5 1327.5H400.5M72.5 1274.5H400.5" stroke="#d2d2d6" stroke-width="1.11" stroke-dasharray="4.1 1.78" fill="none"/>
<g clip-path="url(#c3)">
<path d="M72.5 1374.0L72.9 1374.4L73.3 1377.8L73.7 1384.1L74.1 1392.0L74.5 1391.4L74.9 1390.7L75.3 1390.3L75.7 1385.3L76.1 1382.8L76.5 1381.1L76.9 1376.1L77.3 1371.0L77.7 1364.6L78.1 1366.2L78.5 1368.1L78.9 1365.8L79.3 1367.0L79.7 1363.1L80.1 1362.3L80.5 1359.8L80.9 1360.4L81.3 1357.3L81.7 1361.6L82.1 1363.4L82.5 1364.9L82.9 1362.1L83.3 1364.5L83.7 1364.6L84.1 1364.3L84.5 1361.1L84.9 1362.0L85.3 1360.5L85.7 1360.1L86.1 1362.2L86.5 1358.7L86.9 1359.2L87.3 1362.0L87.7 1361.6L88.1 1364.1L88.5 1365.8L88.9 1366.1L89.3 1364.6L89.7 1366.9L90.1 1369.3L90.5 1365.3L90.9 1369.3L91.3 1368.4L91.7 1366.9L92.1 1370.4L92.5 1368.2L92.9 1364.8L93.3 1366.3L93.7 1366.7L94.1 1365.5L94.5 1368.7L94.9 1369.4L95.3 1372.4L95.7 1375.4L96.1 1374.1L96.5 1375.5L96.9 1374.3L97.3 1375.0L97.7 1372.5L98.1 1372.3L98.5 1371.6L98.9 1372.1L99.3 1371.2L99.7 1366.3L100.1 1366.1L100.5 1367.2L100.9 1362.1L101.3 1363.4L101.7 1362.9L102.1 1364.0L102.5 1362.3L102.9 1360.0L103.3 1359.4L103.7 1360.2L104.1 1363.5L104.5 1361.3L104.9 1362.1L105.3 1363.8L105.7 1363.2L106.1 1363.1L106.5 1361.7L106.9 1363.4L107.3 1362.7L107.7 1365.6L108.1 1365.9L108.5 1365.9L108.9 1367.9L109.3 1369.9L109.7 1375.6L110.1 1377.6L110.5 1384.8L110.9 1391.6L111.3 1397.4L111.7 1394.6L112.1 1394.3L112.5 1391.9L112.9 1385.0L113.3 1381.5L113.7 1381.0L114.1 1372.8L114.5 1369.5L114.9 1369.1L115.3 1368.3L115.7 1366.1L116.1 1364.9L116.5 1365.0L116.9 1363.8L117.3 1360.8L117.7 1361.6L118.1 1361.1L118.5 1358.8L118.9 1360.4L119.3 1359.5L119.7 1363.0L120.1 1362.7L120.5 1363.3L120.9 1363.1L121.3 1363.7L121.7 1360.6L122.1 1361.6L122.5 1363.6L122.9 1359.6L123.3 1364.5L123.7 1361.7L124.1 1366.5L124.5 1365.2L124.9 1368.7L125.3 1368.3L125.7 1365.0L126.1 1368.4L126.5 1367.9L126.9 1364.1L127.3 1362.0L127.7 1360.4L128.1 1357.9L128.5 1362.2L128.9 1360.9L129.3 1362.9L129.7 1362.9L130.1 1364.4L130.5 1363.4L130.9 1366.9L131.3 1364.5L131.7 1365.9L132.1 1364.2L132.5 1363.5L132.9 1365.0L133.3 1365.5L133.7 1367.3L134.1 1367.6L134.5 1368.6L134.9 1367.9L135.3 1369.0L135.7 1372.2L136.1 1368.1L136.5 1367.0L136.9 1368.6L137.3 1369.6L137.7 1364.1L138.1 1364.7L138.5 1362.9L138.9 1360.0L139.3 1362.5L139.7 1362.6L140.1 1364.3L140.5 1364.7L140.9 1367.4L141.3 1365.4L141.7 1365.5L142.1 1363.5L142.5 1362.8L142.9 1366.1L143.3 1364.1L143.7 1366.1L144.1 1366.4L144.5 1366.6L144.9 1367.3L145.3 1369.9L145.7 1369.4L146.1 1370.6L146.5 1371.8L146.9 1374.5L147.3 1374.9L147.7 1376.0L148.1 1376.2L148.5 1376.6L148.9 1378.4L149.3 1376.0L149.7 1372.0L150.1 1370.7L150.5 1368.8L150.9 1366.7L151.3 1364.6L151.7 1363.3L152.1 1367.9L152.5 1365.5L152.9 1370.4L153.3 1371.6L153.7 1372.8L154.1 1373.6L154.5 1372.2L154.9 1367.4L155.3 1367.8L155.7 1373.0L156.1 1371.7L156.5 1374.7L156.9 1377.5L157.3 1373.9L157.7 1372.4L158.1 1375.2L158.5 1374.1L158.9 1375.0L159.3 1376.8L159.7 1376.7L160.1 1377.1L160.5 1380.5L160.9 1379.5L161.3 1378.4L161.7 1381.5L162.1 1380.5L162.5 1381.1L162.9 1379.5L163.3 1381.6L163.7 1382.7L164.1 1384.5L164.5 1386.1L164.9 1384.3L165.3 1387.2L165.7 1390.5L166.1 1396.4L166.5 1394.7L166.9 1401.5L167.3 1403.6L167.7 1407.3L168.1 1408.7L168.5 1414.5L168.9 1422.7L169.3 1427.8L169.7 1434.5L170.1 1439.5L170.5 1446.9L170.9 1450.3L171.3 1450.2L171.7 1444.0L172.1 1433.7L172.5 1423.4L172.9 1420.5L173.3 1417.3L173.7 1409.4L174.1 1401.8L174.5 1399.8L174.9 1400.5L175.3 1396.6L175.7 1394.1L176.1 1391.5L176.5 1389.2L176.9 1388.0L177.3 1385.2L177.7 1382.7L178.1 1380.3L178.5 1382.1L178.9 1379.8L179.3 1381.9L179.7 1377.8L180.1 1379.1L180.5 1378.9L180.9 1376.5L181.3 1380.7L181.7 1379.9L182.1 1376.2L182.5 1377.0L182.9 1375.3L183.3 1369.8L183.7 1373.0L184.1 1372.3L184.5 1374.3L184.9 1374.4L185.3 1377.4L185.7 1376.9L186.1 1377.5L186.5 1374.7L186.9 1372.8L187.3 1373.6L187.7 1369.6L188.1 1369.7L188.5 1367.5L188.9 1372.5L189.3 1371.5L189.7 1371.3L190.1 1370.8L190.5 1370.5L190.9 1372.5L191.3 1373.6L191.7 1375.5L192.1 1375.9L192.5 1377.7L192.9 1375.8L193.3 1374.5L193.7 1373.3L194.1 1373.8L194.5 1378.8L194.9 1378.7L195.3 1379.7L195.7 1377.9L196.1 1375.4L196.5 1375.6L196.9 1375.7L197.3 1372.5L197.7 1373.9L198.1 1376.5L198.5 1379.6L198.9 1379.5L199.3 1382.5L199.7 1382.5L200.1 1386.0L200.5 1384.5L200.9 1387.4L201.3 1391.1L201.7 1390.9L202.1 1393.1L202.5 1397.1L202.9 1400.2L203.3 1402.1L203.7 1407.7L204.1 1414.4L204.5 1415.8L204.9 1420.6L205.3 1424.2L205.7 1431.0L206.1 1433.5L206.5 1438.5L206.9 1446.9L207.3 1448.4L207.7 1449.1L208.1 1446.2L208.5 1440.7L208.9 1436.5L209.3 1431.8L209.7 1421.8L210.1 1414.4L210.5 1408.0L210.9 1405.3L211.3 1402.6L211.7 1397.6L212.1 1392.3L212.5 1390.1L212.9 1388.2L213.3 1387.0L213.7 1383.8L214.1 1381.2L214.5 1377.9L214.9 1373.6L215.3 1372.5L215.7 1374.9L216.1 1376.5L216.5 1379.4L216.9 1381.1L217.3 1378.4L217.7 1376.8L218.1 1373.4L218.5 1375.7L218.9 1371.9L219.3 1373.0L219.7 1376.7L220.1 1376.7L220.5 1375.7L220.9 1373.3L221.3 1374.0L221.7 1372.2L222.1 1372.8L222.5 1373.9L222.9 1369.5L223.3 1367.2L223.7 1365.8L224.1 1366.6L224.5 1365.7L224.9 1363.4L225.3 1363.5L225.7 1360.0L226.1 1361.8L226.5 1360.1L226.9 1357.1L227.3 1351.3L227.7 1352.9L228.1 1354.5L228.5 1357.2L228.9 1360.9L229.3 1363.9L229.7 1368.2L230.1 1371.1L230.5 1370.7L230.9 1371.9L231.3 1373.5L231.7 1370.0L232.1 1372.6L232.5 1374.3L232.9 1374.7L233.3 1374.7L233.7 1377.5L234.1 1376.5L234.5 1374.9L234.9 1376.0L235.3 1385.3L235.7 1395.2L236.1 1401.7L236.5 1415.6L236.9 1423.5L237.3 1416.1L237.7 1404.3L238.1 1398.6L238.5 1394.4L238.9 1397.7L239.3 1392.9L239.7 1395.4L240.1 1390.9L240.5 1390.4L240.9 1386.6L241.3 1386.8L241.7 1387.1L242.1 1382.1L242.5 1385.6L242.9 1386.1L243.3 1385.6L243.7 1388.0L244.1 1389.7L244.5 1391.9L244.9 1392.7L245.3 1393.9L245.7 1392.6L246.1 1388.3L246.5 1384.7L246.9 1383.3L247.3 1381.5L247.7 1374.7L248.1 1375.6L248.5 1373.2L248.9 1371.3L249.3 1372.7L249.7 1369.2L250.1 1370.9L250.5 1366.0L250.9 1367.0L251.3 1366.9L251.7 1366.9L252.1 1369.7L252.5 1369.4L252.9 1371.3L253.3 1372.8L253.7 1375.2L254.1 1380.7L254.5 1384.9L254.9 1391.0L255.3 1392.5L255.7 1398.2L256.1 1398.7L256.5 1405.5L256.9 1400.6L257.3 1394.3L257.7 1391.2L258.1 1388.5L258.5 1380.1L258.9 1376.3L259.3 1374.4L259.7 1371.4L260.1 1371.2L260.5 1367.0L260.9 1364.6L261.3 1364.2L261.7 1360.4L262.1 1361.9L262.5 1359.5L262.9 1358.9L263.3 1357.7L263.7 1363.0L264.1 1359.4L264.5 1360.0L264.9 1359.3L265.3 1359.3L265.7 1358.9L266.1 1361.4L266.5 1356.8L266.9 1355.7L267.3 1356.3L267.7 1355.6L268.1 1358.4L268.5 1358.3L268.9 1355.4L269.3 1354.5L269.7 1355.8L270.1 1358.2L270.5 1351.6L270.9 1356.4L271.3 1353.7L271.7 1356.6L272.1 1353.2L272.5 1354.8L272.9 1354.6L273.3 1357.1L273.7 1362.4L274.1 1363.2L274.5 1363.1L274.9 1364.1L275.3 1364.3L275.7 1366.8L276.1 1366.8L276.5 1366.2L276.9 1365.7L277.3 1363.6L277.7 1364.7L278.1 1364.2L278.5 1365.6L278.9 1366.0L279.3 1362.4L279.7 1360.9L280.1 1361.5L280.5 1361.6L280.9 1362.3L281.3 1364.2L281.7 1363.7L282.1 1367.0L282.5 1366.9L282.9 1368.3L283.3 1368.0L283.7 1366.6L284.1 1365.7L284.5 1366.2L284.9 1365.1L285.3 1365.7L285.7 1364.7L286.1 1362.1L286.5 1363.6L286.9 1360.9L287.3 1361.4L287.7 1361.3L288.1 1359.0L288.5 1362.9L288.9 1363.7L289.3 1363.9L289.7 1364.1L290.1 1364.9L290.5 1367.0L290.9 1371.2L291.3 1373.8L291.7 1377.8L292.1 1379.0L292.5 1383.2L292.9 1381.4L293.3 1379.4L293.7 1377.4L294.1 1377.3L294.5 1372.3L294.9 1374.0L295.3 1372.4L295.7 1371.1L296.1 1369.9L296.5 1367.0L296.9 1366.3L297.3 1367.9L297.7 1368.6L298.1 1369.3L298.5 1367.8L298.9 1372.0L299.3 1374.0L299.7 1375.1L300.1 1377.6L300.5 1381.8L300.9 1390.6L301.3 1392.0L301.7 1382.0L302.1 1381.2L302.5 1372.6L302.9 1368.9L303.3 1366.3L303.7 1367.0L304.1 1362.4L304.5 1361.3L304.9 1361.3L305.3 1359.0L305.7 1355.6L306.1 1356.0L306.5 1355.1L306.9 1356.6L307.3 1358.9L307.7 1359.5L308.1 1359.7L308.5 1361.7L308.9 1359.7L309.3 1361.4L309.7 1361.8L310.1 1360.6L310.5 1360.3L310.9 1358.2L311.3 1356.1L311.7 1356.1L312.1 1353.0L312.5 1351.0L312.9 1353.3L313.3 1351.8L313.7 1353.9L314.1 1352.5L314.5 1356.1L314.9 1357.4L315.3 1358.6L315.7 1358.1L316.1 1362.5L316.5 1364.8L316.9 1363.1L317.3 1360.6L317.7 1360.5L318.1 1360.7L318.5 1354.5L318.9 1357.5L319.3 1357.5L319.7 1356.8L320.1 1357.4L320.5 1356.5L320.9 1355.4L321.3 1355.5L321.7 1356.4L322.1 1354.6L322.5 1355.5L322.9 1357.0L323.3 1358.8L323.7 1355.7L324.1 1356.0L324.5 1356.6L324.9 1358.4L325.3 1356.5L325.7 1358.9L326.1 1355.4L326.5 1356.9L326.9 1357.6L327.3 1359.7L327.7 1360.7L328.1 1357.5L328.5 1359.1L328.9 1361.6L329.3 1360.7L329.7 1360.1L330.1 1364.5L330.5 1365.3L330.9 1367.7L331.3 1367.2L331.7 1371.5L332.1 1369.1L332.5 1371.1L332.9 1368.6L333.3 1368.0L333.7 1369.8L334.1 1367.8L334.5 1366.8L334.9 1363.6L335.3 1359.0L335.7 1359.6L336.1 1362.3L336.5 1367.5L336.9 1368.5L337.3 1372.1L337.7 1378.0L338.1 1380.1L338.5 1377.6L338.9 1372.6L339.3 1370.7L339.7 1370.6L340.1 1366.0L340.5 1362.6L340.9 1362.2L341.3 1362.0L341.7 1359.8L342.1 1358.3L342.5 1358.3L342.9 1361.2L343.3 1358.8L343.7 1359.4L344.1 1359.7L344.5 1360.0L344.9 1358.3L345.3 1359.2L345.7 1356.9L346.1 1357.4L346.5 1356.7L346.9 1361.7L347.3 1361.6L347.7 1362.2L348.1 1364.5L348.5 1366.4L348.9 1369.5L349.3 1367.8L349.7 1371.4L350.1 1375.8L350.5 1383.6L350.9 1384.8L351.3 1386.6L351.7 1391.3L352.1 1398.0L352.5 1399.5L352.9 1404.2L353.3 1411.5L353.7 1415.4L354.1 1420.2L354.5 1413.9L354.9 1412.9L355.3 1408.0L355.7 1402.3L356.1 1400.4L356.5 1395.5L356.9 1398.5L357.3 1394.5L357.7 1393.7L358.1 1387.0L358.5 1378.5L358.9 1371.9L359.3 1372.9L359.7 1369.1L360.1 1367.6L360.5 1365.0L360.9 1363.3L361.3 1359.5L361.7 1364.6L362.1 1362.9L362.5 1363.9L362.9 1365.0L363.3 1361.9L363.7 1358.9L364.1 1360.0L364.5 1359.3L364.9 1360.2L365.3 1360.8L365.7 1357.5L366.1 1360.7L366.5 1357.7L366.9 1360.1L367.3 1359.2L367.7 1358.7L368.1 1358.7L368.5 1357.7L368.9 1357.4L369.3 1355.5L369.7 1357.7L370.1 1360.2L370.5 1360.1L370.9 1358.8L371.3 1357.6L371.7 1355.3L372.1 1358.8L372.5 1357.2L372.9 1357.8L373.3 1358.1L373.7 1359.3L374.1 1359.2L374.5 1360.4L374.9 1359.5L375.3 1361.2L375.7 1365.8L376.1 1362.0L376.5 1361.6L376.9 1362.5L377.3 1362.6L377.7 1359.7L378.1 1360.8L378.5 1362.3L378.9 1361.1L379.3 1360.7L379.7 1362.7L380.1 1359.1L380.5 1360.5L380.9 1360.1L381.3 1363.7L381.7 1359.1L382.1 1361.6L382.5 1362.3L382.9 1364.7L383.3 1365.2L383.7 1366.9L384.1 1363.0L384.5 1367.8L384.9 1367.5L385.3 1368.4L385.7 1371.5L386.1 1370.7L386.5 1370.3L386.9 1374.2L387.3 1373.9L387.7 1376.5L388.1 1379.7L388.5 1382.0L388.9 1386.3L389.3 1386.0L389.7 1386.4L390.1 1390.0L390.5 1392.3L390.9 1394.7L391.3 1400.0L391.7 1401.1L392.1 1397.6L392.5 1397.2L392.9 1391.6L393.3 1387.9L393.7 1383.8L394.1 1381.1L394.5 1376.8L394.9 1375.1L395.3 1370.4L395.7 1366.9L396.1 1365.8L396.5 1361.9L396.9 1362.8L397.3 1361.6L397.7 1361.2L398.1 1358.1L398.5 1363.0L398.9 1361.1L399.3 1359.5L399.7 1359.2L400.1 1361.7L400.5 1362.4L400.9 1361.8" fill="none" stroke="#000" stroke-width="0.4" stroke-linejoin="round"/>
<path d="M223.7 1365.8L224.1 1366.6L224.5 1365.7L224.9 1363.4L225.3 1363.5L225.7 1360.0L226.1 1361.8L226.5 1360.1L226.9 1357.1L227.3 1351.3L227.7 1352.9L228.1 1354.5L228.5 1357.2L228.9 1360.9L229.3 1363.9L229.7 1368.2L230.1 1371.1L230.5 1370.7L230.9 1371.9M229.3 1363.9L229.7 1368.2L230.1 1371.1L230.5 1370.7L230.9 1371.9L231.3 1373.5L231.7 1370.0L232.1 1372.6L232.5 1374.3L232.9 1374.7L233.3 1374.7L233.7 1377.5L234.1 1376.5L234.5 1374.9L234.9 1376.0L235.3 1385.3L235.7 1395.2L236.1 1401.7L236.5 1415.6L236.9 1423.5L237.3 1416.1L237.7 1404.3L238.1 1398.6L238.5 1394.4L238.9 1397.7L239.3 1392.9L239.7 1395.4L240.1 1390.9L240.5 1390.4L240.9 1386.6L241.3 1386.8L241.7 1387.1L242.1 1382.1L242.5 1385.6L242.9 1386.1M253.3 1372.8L253.7 1375.2L254.1 1380.7L254.5 1384.9L254.9 1391.0L255.3 1392.5L255.7 1398.2L256.1 1398.7L256.5 1405.5L256.9 1400.6L257.3 1394.3L257.7 1391.2L258.1 1388.5L258.5 1380.1L258.9 1376.3L259.3 1374.4L259.7 1371.4L260.1 1371.2M298.5 1367.8L298.9 1372.0L299.3 1374.0L299.7 1375.1L300.1 1377.6L300.5 1381.8L300.9 1390.6L301.3 1392.0L301.7 1382.0L302.1 1381.2L302.5 1372.6L302.9 1368.9L303.3 1366.3L303.7 1367.0M328.9 1361.6L329.3 1360.7L329.7 1360.1L330.1 1364.5L330.5 1365.3L330.9 1367.7L331.3 1367.2L331.7 1371.5L332.1 1369.1L332.5 1371.1L332.9 1368.6L333.3 1368.0L333.7 1369.8L334.1 1367.8L334.5 1366.8L334.9 1363.6L335.3 1359.0L335.7 1359.6L336.1 1362.3L336.5 1367.5L336.9 1368.5M354.5 1413.9L354.9 1412.9L355.3 1408.0L355.7 1402.3L356.1 1400.4L356.5 1395.5L356.9 1398.5L357.3 1394.5L357.7 1393.7L358.1 1387.0L358.5 1378.5L358.9 1371.9L359.3 1372.9L359.7 1369.1L360.1 1367.6" fill="none" stroke="#000" stroke-width="0.8" stroke-linejoin="round"/>
<path d="M72.5 1374.0L72.9 1374.4L73.3 1377.8L73.7 1384.1L74.1 1392.0L74.5 1391.4L74.9 1390.7L75.3 1390.3L75.7 1385.3L76.1 1382.8L76.5 1381.1L76.9 1376.1L77.3 1371.0L77.7 1364.6L78.1 1366.2L78.5 1368.1L78.9 1365.8L79.3 1367.0L79.7 1363.1L80.1 1362.3L80.5 1359.8L80.9 1360.4L81.3 1357.3L81.7 1361.6L82.1 1363.4L82.5 1364.9L82.9 1362.1L83.3 1364.5L83.7 1364.6L84.1 1364.3L84.5 1361.1L84.9 1362.0L85.3 1360.5L85.7 1360.1L86.1 1362.2L86.5 1358.7L86.9 1359.2L87.3 1362.0L87.7 1361.6L88.1 1364.1L88.5 1365.8L88.9 1366.1L89.3 1364.6L89.7 1366.9L90.1 1369.3L90.5 1365.3L90.9 1369.3L91.3 1368.4L91.7 1366.9L92.1 1370.4L92.5 1368.2L92.9 1364.8L93.3 1366.3L93.7 1366.7L94.1 1365.5L94.5 1368.7L94.9 1369.4L95.3 1372.4L95.7 1375.4L96.1 1374.1L96.5 1375.5L96.9 1374.3L97.3 1375.0L97.7 1372.5L98.1 1372.3L98.5 1371.6L98.9 1372.1L99.3 1371.2L99.7 1366.3L100.1 1366.1L100.5 1367.2L100.9 1362.1L101.3 1363.4L101.7 1362.9L102.1 1364.0L102.5 1362.3L102.9 1360.0L103.3 1359.4L103.7 1360.2L104.1 1363.5L104.5 1361.3L104.9 1362.1L105.3 1363.8L105.7 1363.2L106.1 1363.1L106.5 1361.7L106.9 1363.4L107.3 1362.7L107.7 1365.6L108.1 1365.9L108.5 1365.9L108.9 1367.9L109.3 1369.9L109.7 1375.6L110.1 1377.6L110.5 1384.8L110.9 1391.6L111.3 1397.4L111.7 1394.6L112.1 1394.3L112.5 1391.9L112.9 1385.0L113.3 1381.5L113.7 1381.0L114.1 1372.8L114.5 1369.5L114.9 1369.1L115.3 1368.3L115.7 1366.1L116.1 1364.9L116.5 1365.0L116.9 1363.8L117.3 1360.8L117.7 1361.6L118.1 1361.1L118.5 1358.8L118.9 1360.4L119.3 1359.5L119.7 1363.0L120.1 1362.7L120.5 1363.3L120.9 1363.1L121.3 1363.7L121.7 1360.6L122.1 1361.6L122.5 1363.6L122.9 1359.6L123.3 1364.5L123.7 1361.7L124.1 1366.5L124.5 1365.2L124.9 1368.7L125.3 1368.3L125.7 1365.0L126.1 1368.4L126.5 1367.9L126.9 1364.1L127.3 1362.0L127.7 1360.4L128.1 1357.9L128.5 1362.2L128.9 1360.9L129.3 1362.9L129.7 1362.9L130.1 1364.4L130.5 1363.4L130.9 1366.9L131.3 1364.5L131.7 1365.9L132.1 1364.2L132.5 1363.5L132.9 1365.0L133.3 1365.5L133.7 1367.3L134.1 1367.6L134.5 1368.6L134.9 1367.9L135.3 1369.0L135.7 1372.2L136.1 1368.1L136.5 1367.0L136.9 1368.6L137.3 1369.6L137.7 1364.1L138.1 1364.7L138.5 1362.9L138.9 1360.0L139.3 1362.5L139.7 1362.6L140.1 1364.3L140.5 1364.7L140.9 1367.4L141.3 1365.4L141.7 1365.5L142.1 1363.5L142.5 1362.8L142.9 1366.1L143.3 1364.1L143.7 1366.1L144.1 1366.4L144.5 1366.6L144.9 1367.3L145.3 1369.9L145.7 1369.4L146.1 1370.6L146.5 1371.8L146.9 1374.5L147.3 1374.9L147.7 1376.0L148.1 1376.2L148.5 1376.6L148.9 1378.4L149.3 1376.0L149.7 1372.0L150.1 1370.7L150.5 1368.8L150.9 1366.7L151.3 1364.6L151.7 1363.3L152.1 1367.9L152.5 1365.5L152.9 1370.4L153.3 1371.6L153.7 1372.8L154.1 1373.6L154.5 1372.2L154.9 1367.4L155.3 1367.8L155.7 1373.0L156.1 1371.7L156.5 1374.7L156.9 1377.5L157.3 1373.9L157.7 1372.4L158.1 1375.2L158.5 1374.1L158.9 1375.0L159.3 1376.8L159.7 1376.7L160.1 1377.1L160.5 1380.5L160.9 1379.5L161.3 1378.4L161.7 1381.5L162.1 1380.5L162.5 1381.1L162.9 1379.5L163.3 1381.6L163.7 1382.7L164.1 1384.5L164.5 1386.1L164.9 1384.3L165.3 1387.2L165.7 1390.5L166.1 1396.4L166.5 1394.7L166.9 1401.5L167.3 1403.6L167.7 1407.3L168.1 1408.7L168.5 1414.5L168.9 1422.7L169.3 1427.8L169.7 1434.5L170.1 1439.5L170.5 1446.9L170.9 1450.3L171.3 1450.2L171.7 1444.0L172.1 1433.7L172.5 1423.4L172.9 1420.5L173.3 1417.3L173.7 1409.4L174.1 1401.8L174.5 1399.8L174.9 1400.5L175.3 1396.6L175.7 1394.1L176.1 1391.5L176.5 1389.2L176.9 1388.0L177.3 1385.2L177.7 1382.7L178.1 1380.3L178.5 1382.1L178.9 1379.8L179.3 1381.9L179.7 1377.8L180.1 1379.1L180.5 1378.9L180.9 1376.5L181.3 1380.7L181.7 1379.9L182.1 1376.2L182.5 1377.0L182.9 1375.3L183.3 1369.8L183.7 1373.0L184.1 1372.3L184.5 1374.3L184.9 1374.4L185.3 1377.4L185.7 1376.9L186.1 1377.5L186.5 1374.7L186.9 1372.8L187.3 1373.6L187.7 1369.6L188.1 1369.7L188.5 1367.5L188.9 1372.5L189.3 1371.5L189.7 1371.3L190.1 1370.8L190.5 1370.5L190.9 1372.5L191.3 1373.6L191.7 1375.5L192.1 1375.9L192.5 1377.7L192.9 1375.8L193.3 1374.5L193.7 1373.3L194.1 1373.8L194.5 1378.8L194.9 1378.7L195.3 1379.7L195.7 1377.9L196.1 1375.4L196.5 1375.6L196.9 1375.7L197.3 1372.5L197.7 1373.9L198.1 1376.5L198.5 1379.6L198.9 1379.5L199.3 1382.5L199.7 1382.5L200.1 1386.0L200.5 1384.5L200.9 1387.4L201.3 1391.1L201.7 1390.9L202.1 1393.1L202.5 1397.1L202.9 1400.2L203.3 1402.1L203.7 1407.7L204.1 1414.4L204.5 1415.8L204.9 1420.6L205.3 1424.2L205.7 1431.0L206.1 1433.5L206.5 1438.5L206.9 1446.9L207.3 1448.4L207.7 1449.1L208.1 1446.2L208.5 1440.7L208.9 1436.5L209.3 1431.8L209.7 1421.8L210.1 1414.4L210.5 1408.0L210.9 1405.3L211.3 1402.6L211.7 1397.6L212.1 1392.3L212.5 1390.1L212.9 1388.2L213.3 1387.0L213.7 1383.8L214.1 1381.2L214.5 1377.9L214.9 1373.6L215.3 1372.5L215.7 1374.9L216.1 1376.5L216.5 1379.4L216.9 1381.1L217.3 1378.4L217.7 1376.8L218.1 1373.4L218.5 1375.7L218.9 1371.9L219.3 1373.0L219.7 1376.7L220.1 1376.7L220.5 1375.7L220.9 1373.3L221.3 1374.0L221.7 1372.2L222.1 1372.8L222.5 1373.9L222.9 1369.5L223.3 1367.0L223.7 1365.5L224.1 1366.3L224.5 1365.2L224.9 1362.8L225.3 1363.8L225.7 1361.1L226.1 1363.7L226.5 1362.9L226.9 1364.9L227.3 1364.6L227.7 1368.1L228.1 1368.3L228.5 1368.1L228.9 1368.5L229.3 1367.3L229.7 1367.4L230.1 1371.0L230.5 1369.7L230.9 1370.3L231.3 1371.2L231.7 1366.8L232.1 1368.0L232.5 1369.2L232.9 1369.2L233.3 1367.8L233.7 1369.6L234.1 1368.1L234.5 1365.7L234.9 1365.9L235.3 1368.2L235.7 1368.6L236.1 1366.1L236.5 1372.1L236.9 1372.1L237.3 1374.3L237.7 1372.8L238.1 1374.1L238.5 1374.1L238.9 1382.4L239.3 1381.1L239.7 1386.6L240.1 1385.1L240.5 1385.8L240.9 1382.5L241.3 1383.9L241.7 1385.5L242.1 1381.6L242.5 1385.6L242.9 1386.1L243.3 1385.6L243.7 1388.0L244.1 1389.7L244.5 1391.9L244.9 1392.7L245.3 1393.9L245.7 1392.6L246.1 1388.3L246.5 1384.7L246.9 1383.3L247.3 1381.5L247.7 1374.7L248.1 1375.6L248.5 1373.2L248.9 1371.3L249.3 1372.7L249.7 1369.2L250.1 1370.9L250.5 1366.0L250.9 1367.0L251.3 1366.9L251.7 1366.9L252.1 1369.7L252.5 1369.4L252.9 1371.3L253.3 1372.1L253.7 1373.2L254.1 1377.4L254.5 1380.3L254.9 1384.3L255.3 1384.2L255.7 1388.0L256.1 1388.0L256.5 1394.0L256.9 1390.2L257.3 1385.8L257.7 1385.1L258.1 1383.5L258.5 1376.2L258.9 1374.7L259.3 1373.0L259.7 1370.2L260.1 1370.3L260.5 1366.3L260.9 1364.2L261.3 1364.0L261.7 1360.4L262.1 1361.9L262.5 1359.5L262.9 1358.9L263.3 1357.7L263.7 1363.0L264.1 1359.4L264.5 1360.0L264.9 1359.3L265.3 1359.3L265.7 1358.9L266.1 1361.4L266.5 1356.8L266.9 1355.7L267.3 1356.3L267.7 1355.6L268.1 1358.4L268.5 1358.3L268.9 1355.4L269.3 1354.5L269.7 1355.8L270.1 1358.2L270.5 1351.6L270.9 1356.4L271.3 1353.7L271.7 1356.6L272.1 1353.2L272.5 1354.8L272.9 1354.6L273.3 1357.1L273.7 1362.4L274.1 1363.2L274.5 1363.1L274.9 1364.1L275.3 1364.3L275.7 1366.8L276.1 1366.8L276.5 1366.2L276.9 1365.7L277.3 1363.6L277.7 1364.7L278.1 1364.2L278.5 1365.6L278.9 1366.0L279.3 1362.4L279.7 1360.9L280.1 1361.5L280.5 1361.6L280.9 1362.3L281.3 1364.2L281.7 1363.7L282.1 1367.0L282.5 1366.9L282.9 1368.3L283.3 1368.0L283.7 1366.6L284.1 1365.7L284.5 1366.2L284.9 1365.1L285.3 1365.7L285.7 1364.7L286.1 1362.1L286.5 1363.6L286.9 1360.9L287.3 1361.4L287.7 1361.3L288.1 1359.0L288.5 1362.9L288.9 1363.7L289.3 1363.9L289.7 1364.1L290.1 1364.9L290.5 1367.0L290.9 1371.2L291.3 1373.8L291.7 1377.8L292.1 1379.0L292.5 1383.2L292.9 1381.4L293.3 1379.4L293.7 1377.4L294.1 1377.3L294.5 1372.3L294.9 1374.0L295.3 1372.4L295.7 1371.1L296.1 1369.9L296.5 1367.0L296.9 1366.3L297.3 1367.9L297.7 1368.6L298.1 1369.3L298.5 1367.8L298.9 1372.0L299.3 1374.0L299.7 1376.9L300.1 1379.1L300.5 1379.8L300.9 1386.8L301.3 1382.1L301.7 1375.5L302.1 1376.8L302.5 1370.9L302.9 1368.2L303.3 1366.3L303.7 1367.0L304.1 1362.4L304.5 1361.3L304.9 1361.3L305.3 1359.0L305.7 1355.6L306.1 1356.0L306.5 1355.1L306.9 1356.6L307.3 1358.9L307.7 1359.5L308.1 1359.7L308.5 1361.7L308.9 1359.7L309.3 1361.4L309.7 1361.8L310.1 1360.6L310.5 1360.3L310.9 1358.2L311.3 1356.1L311.7 1356.1L312.1 1353.0L312.5 1351.0L312.9 1353.3L313.3 1351.8L313.7 1353.9L314.1 1352.5L314.5 1356.1L314.9 1357.4L315.3 1358.6L315.7 1358.1L316.1 1362.5L316.5 1364.8L316.9 1363.1L317.3 1360.6L317.7 1360.5L318.1 1360.7L318.5 1354.5L318.9 1357.5L319.3 1357.5L319.7 1356.8L320.1 1357.4L320.5 1356.5L320.9 1355.4L321.3 1355.5L321.7 1356.4L322.1 1354.6L322.5 1355.5L322.9 1357.0L323.3 1358.8L323.7 1355.7L324.1 1356.0L324.5 1356.6L324.9 1358.4L325.3 1356.5L325.7 1358.9L326.1 1355.4L326.5 1356.8L326.9 1357.2L327.3 1359.1L327.7 1359.9L328.1 1356.5L328.5 1357.8L328.9 1360.0L329.3 1358.9L329.7 1358.0L330.1 1362.3L330.5 1361.9L330.9 1362.3L331.3 1360.5L331.7 1362.2L332.1 1359.9L332.5 1361.4L332.9 1357.9L333.3 1357.5L333.7 1358.6L334.1 1356.8L334.5 1358.3L334.9 1357.9L335.3 1358.9L335.7 1363.1L336.1 1365.1L336.5 1369.7L336.9 1370.1L337.3 1373.1L337.7 1378.3L338.1 1380.1L338.5 1377.6L338.9 1372.6L339.3 1370.7L339.7 1370.6L340.1 1366.0L340.5 1362.6L340.9 1362.2L341.3 1362.0L341.7 1359.8L342.1 1358.3L342.5 1358.3L342.9 1361.2L343.3 1358.8L343.7 1359.4L344.1 1359.7L344.5 1360.0L344.9 1358.3L345.3 1359.2L345.7 1356.9L346.1 1357.4L346.5 1356.7L346.9 1361.7L347.3 1361.6L347.7 1362.2L348.1 1364.5L348.5 1366.4L348.9 1369.5L349.3 1367.8L349.7 1371.4L350.1 1375.8L350.5 1383.6L350.9 1384.8L351.3 1386.6L351.7 1391.3L352.1 1398.0L352.5 1399.5L352.9 1404.2L353.3 1411.5L353.7 1415.4L354.1 1420.3L354.5 1414.9L354.9 1415.0L355.3 1411.0L355.7 1405.7L356.1 1402.3L356.5 1394.4L356.9 1393.9L357.3 1388.1L357.7 1384.5L358.1 1380.3L358.5 1374.3L358.9 1369.1L359.3 1370.6L359.7 1367.3L360.1 1366.3L360.5 1364.3L360.9 1363.1L361.3 1359.5L361.7 1364.6L362.1 1362.9L362.5 1363.9L362.9 1365.0L363.3 1361.9L363.7 1358.9L364.1 1360.0L364.5 1359.3L364.9 1360.2L365.3 1360.8L365.7 1357.5L366.1 1360.7L366.5 1357.7L366.9 1360.1L367.3 1359.2L367.7 1358.7L368.1 1358.7L368.5 1357.7L368.9 1357.4L369.3 1355.5L369.7 1357.7L370.1 1360.2L370.5 1360.1L370.9 1358.8L371.3 1357.6L371.7 1355.3L372.1 1358.8L372.5 1357.2L372.9 1357.8L373.3 1358.1L373.7 1359.3L374.1 1359.2L374.5 1360.4L374.9 1359.5L375.3 1361.2L375.7 1365.8L376.1 1362.0L376.5 1361.6L376.9 1362.5L377.3 1362.6L377.7 1359.7L378.1 1360.8L378.5 1362.3L378.9 1361.1L379.3 1360.7L379.7 1362.7L380.1 1359.1L380.5 1360.5L380.9 1360.1L381.3 1363.7L381.7 1359.1L382.1 1361.6L382.5 1362.3L382.9 1364.7L383.3 1365.2L383.7 1366.9L384.1 1363.0L384.5 1367.8L384.9 1367.5L385.3 1368.4L385.7 1371.5L386.1 1370.7L386.5 1370.3L386.9 1374.2L387.3 1373.9L387.7 1376.5L388.1 1379.7L388.5 1382.0L388.9 1386.3L389.3 1386.0L389.7 1386.4L390.1 1390.0L390.5 1392.3L390.9 1394.7L391.3 1400.0L391.7 1401.1L392.1 1397.6L392.5 1397.2L392.9 1391.6L393.3 1387.9L393.7 1383.8L394.1 1381.1L394.5 1376.8L394.9 1375.1L395.3 1370.4L395.7 1366.9L396.1 1365.8L396.5 1361.9L396.9 1362.8L397.3 1361.6L397.7 1361.2L398.1 1358.1L398.5 1363.0L398.9 1361.1L399.3 1359.5L399.7 1359.2L400.1 1361.7L400.5 1362.4L400.9 1361.8" fill="none" stroke="#ff0000" stroke-width="0.95" stroke-linejoin="round"/>
</g>
<path d="M72.5 1520.5v4.86M127.5 1520.5v4.86M181.5 1520.5v4.86M236.5 1520.5v4.86M291.5 1520.5v4.86M345.5 1520.5v4.86M400.5 1520.5v4.86M72.5 1488.5h-4.86M72.5 1435.5h-4.86M72.5 1381.5h-4.86M72.5 1327.5h-4.86M72.5 1274.5h-4.86" stroke="#000" stroke-width="1.11" fill="none"/>
<rect x="72.5" y="1235.5" width="328.0" height="285.0" fill="none" stroke="#000" stroke-width="1.11"/>
<rect x="466.5" y="1235.5" width="328.0" height="285.0" fill="#FEFCE1"/>
<path d="M466.5 1520.5V1235.5M532.5 1520.5V1235.5M597.5 1520.5V1235.5M663.5 1520.5V1235.5M728.5 1520.5V1235.5M794.5 1520.5V1235.5M466.5 1482.5H794.5M466.5 1428.5H794.5M466.5 1373.5H794.5M466.5 1318.5H794.5M466.5 1263.5H794.5" stroke="#d2d2d6" stroke-width="1.11" stroke-dasharray="4.1 1.78" fill="none"/>
<g clip-path="url(#c4)">
<path d="M466.5 1375.0L466.9 1377.9L467.2 1379.3L467.6 1381.1L467.9 1383.4L468.3 1384.3L468.6 1387.8L469.0 1387.1L469.3 1389.4L469.7 1389.0L470.0 1390.3L470.4 1389.0L470.7 1391.4L471.1 1392.4L471.4 1393.6L471.8 1392.9L472.1 1397.7L472.5 1397.7L472.8 1399.0L473.2 1400.6L473.5 1404.5L473.9 1409.2L474.2 1411.3L474.6 1415.7L474.9 1421.0L475.3 1424.8L475.6 1427.8L476.0 1431.0L476.3 1434.2L476.7 1438.6L477.0 1441.1L477.4 1439.4L477.7 1442.9L478.1 1439.3L478.4 1435.0L478.8 1433.5L479.1 1426.3L479.5 1420.8L479.8 1416.0L480.2 1411.8L480.5 1408.7L480.9 1406.2L481.2 1404.5L481.6 1399.8L481.9 1400.3L482.3 1395.9L482.6 1394.8L483.0 1393.5L483.3 1391.0L483.7 1389.2L484.0 1387.9L484.4 1387.4L484.7 1388.7L485.1 1390.7L485.4 1391.1L485.8 1393.4L486.1 1392.9L486.5 1391.9L486.8 1386.8L487.2 1387.9L487.5 1383.7L487.9 1381.3L488.2 1380.5L488.6 1379.1L488.9 1376.3L489.3 1374.9L489.6 1373.0L490.0 1374.9L490.3 1375.7L490.7 1374.9L491.0 1377.3L491.4 1376.6L491.7 1376.5L492.1 1374.4L492.4 1374.0L492.8 1374.1L493.1 1370.7L493.5 1372.1L493.8 1373.8L494.2 1375.8L494.5 1375.1L494.9 1379.4L495.2 1381.9L495.6 1380.5L495.9 1381.7L496.3 1379.2L496.6 1382.8L497.0 1381.6L497.3 1383.0L497.7 1377.6L498.0 1377.9L498.4 1374.5L498.7 1373.8L499.1 1374.3L499.4 1377.1L499.8 1382.7L500.1 1381.7L500.5 1382.7L500.8 1384.1L501.2 1384.2L501.5 1387.6L501.9 1389.1L502.2 1387.4L502.6 1385.6L502.9 1388.1L503.3 1387.3L503.6 1386.3L504.0 1388.8L504.3 1388.9L504.7 1392.0L505.0 1393.0L505.4 1395.3L505.7 1400.3L506.1 1399.4L506.4 1403.3L506.8 1401.6L507.1 1401.5L507.5 1405.8L507.8 1410.1L508.2 1411.8L508.5 1413.1L508.9 1417.1L509.2 1420.4L509.6 1420.4L509.9 1422.2L510.3 1422.4L510.6 1418.3L511.0 1413.7L511.3 1411.4L511.7 1412.2L512.0 1416.0L512.4 1419.5L512.7 1424.2L513.1 1428.7L513.4 1425.1L513.8 1421.0L514.1 1412.9L514.5 1401.9L514.8 1392.4L515.2 1385.5L515.5 1384.0L515.9 1385.1L516.2 1381.8L516.6 1379.6L516.9 1382.0L517.3 1379.0L517.6 1378.5L518.0 1376.5L518.3 1376.3L518.7 1376.1L519.0 1376.6L519.4 1377.1L519.7 1373.8L520.1 1376.8L520.4 1374.3L520.8 1374.0L521.1 1375.4L521.5 1374.1L521.8 1371.9L522.2 1375.1L522.5 1371.6L522.9 1372.3L523.2 1371.8L523.6 1372.4L523.9 1369.5L524.3 1370.1L524.6 1367.3L525.0 1368.4L525.3 1365.4L525.7 1365.5L526.0 1369.7L526.4 1369.7L526.7 1371.3L527.1 1374.8L527.4 1371.5L527.8 1368.9L528.1 1369.3L528.5 1365.9L528.8 1367.2L529.2 1366.2L529.5 1364.6L529.9 1365.0L530.2 1366.3L530.6 1366.6L530.9 1365.9L531.3 1368.1L531.6 1365.7L532.0 1367.9L532.3 1367.6L532.7 1367.5L533.0 1367.9L533.4 1365.9L533.7 1367.7L534.1 1366.6L534.4 1365.8L534.8 1364.7L535.1 1365.5L535.5 1367.9L535.8 1368.0L536.2 1370.6L536.5 1373.7L536.9 1374.7L537.2 1382.2L537.6 1388.6L537.9 1395.7L538.3 1408.3L538.6 1417.1L539.0 1428.7L539.3 1437.4L539.7 1427.4L540.0 1413.5L540.4 1401.1L540.7 1392.1L541.1 1384.7L541.4 1377.7L541.8 1373.7L542.1 1372.4L542.5 1368.9L542.8 1370.0L543.2 1366.3L543.5 1366.3L543.9 1364.7L544.2 1364.1L544.6 1366.1L544.9 1363.1L545.3 1361.6L545.6 1361.8L546.0 1361.8L546.3 1364.2L546.7 1361.9L547.0 1362.5L547.4 1360.1L547.7 1361.4L548.1 1361.5L548.4 1362.6L548.8 1359.6L549.1 1360.8L549.5 1360.3L549.8 1359.0L550.2 1360.7L550.5 1361.0L550.9 1359.4L551.2 1363.2L551.6 1363.7L551.9 1363.3L552.3 1362.9L552.6 1366.6L553.0 1365.9L553.3 1367.3L553.7 1368.4L554.0 1366.9L554.4 1368.9L554.7 1368.4L555.1 1369.2L555.4 1370.1L555.8 1372.3L556.1 1375.6L556.5 1376.6L556.8 1378.6L557.2 1381.6L557.5 1385.5L557.9 1387.3L558.2 1390.7L558.6 1393.2L558.9 1394.6L559.3 1395.0L559.6 1389.2L560.0 1386.8L560.3 1381.0L560.7 1377.2L561.0 1373.9L561.4 1373.5L561.7 1368.7L562.1 1368.9L562.4 1370.1L562.8 1371.3L563.1 1374.5L563.5 1374.0L563.8 1377.6L564.2 1383.9L564.5 1395.3L564.9 1402.8L565.2 1416.7L565.6 1426.8L565.9 1440.0L566.3 1453.5L566.6 1449.9L567.0 1432.1L567.3 1419.1L567.7 1404.6L568.0 1395.2L568.4 1384.1L568.7 1378.4L569.1 1376.5L569.4 1375.5L569.8 1373.2L570.1 1373.1L570.5 1373.4L570.8 1369.3L571.2 1371.0L571.5 1370.4L571.9 1371.2L572.2 1369.3L572.6 1369.9L572.9 1368.7L573.3 1371.4L573.6 1372.1L574.0 1373.2L574.3 1375.2L574.7 1376.0L575.0 1375.9L575.4 1379.6L575.7 1380.4L576.1 1381.1L576.4 1383.5L576.8 1384.9L577.1 1383.5L577.5 1386.0L577.8 1391.7L578.2 1394.7L578.5 1395.5L578.9 1396.6L579.2 1396.7L579.6 1396.4L579.9 1394.7L580.3 1396.0L580.6 1394.1L581.0 1394.0L581.3 1396.7L581.7 1395.3L582.0 1396.3L582.4 1397.8L582.7 1399.4L583.1 1399.5L583.4 1401.4L583.8 1401.8L584.1 1406.0L584.5 1406.6L584.8 1407.4L585.2 1411.5L585.5 1415.0L585.9 1417.8L586.2 1423.1L586.6 1426.5L586.9 1428.2L587.3 1432.7L587.6 1436.3L588.0 1442.9L588.3 1447.7L588.7 1455.4L589.0 1452.1L589.4 1449.2L589.7 1450.4L590.1 1451.2L590.4 1449.3L590.8 1450.1L591.1 1455.8L591.5 1461.3L591.8 1466.1L592.2 1473.0L592.5 1482.4L592.9 1488.6L593.2 1492.9L593.6 1474.1L593.9 1457.2L594.3 1442.4L594.6 1423.5L595.0 1409.9L595.3 1406.0L595.7 1402.1L596.0 1400.0L596.4 1396.1L596.7 1396.6L597.1 1394.7L597.4 1391.5L597.8 1388.0L598.1 1389.2L598.5 1392.3L598.8 1394.1L599.2 1393.5L599.5 1395.4L599.9 1394.3L600.2 1393.3L600.6 1391.0L600.9 1389.0L601.3 1384.4L601.6 1386.5L602.0 1387.2L602.3 1384.7L602.7 1384.7L603.0 1386.8L603.4 1385.9L603.7 1384.7L604.1 1389.1L604.4 1389.4L604.8 1389.6L605.1 1393.4L605.5 1392.1L605.8 1392.3L606.2 1394.7L606.5 1394.8L606.9 1396.5L607.2 1399.2L607.6 1399.6L607.9 1402.5L608.3 1409.4L608.6 1413.1L609.0 1417.6L609.3 1421.9L609.7 1426.8L610.0 1432.8L610.4 1436.0L610.7 1442.7L611.1 1443.5L611.4 1448.2L611.8 1450.0L612.1 1448.5L612.5 1446.7L612.8 1445.0L613.2 1438.7L613.5 1434.2L613.9 1428.5L614.2 1423.8L614.6 1421.5L614.9 1421.1L615.3 1417.4L615.6 1417.7L616.0 1415.8L616.3 1413.3L616.7 1413.1L617.0 1415.9L617.4 1422.8L617.7 1424.0L618.1 1441.9L618.4 1454.1L618.8 1457.2L619.1 1462.1L619.5 1480.8L619.8 1498.4L620.2 1508.9L620.5 1521.8L620.9 1510.0L621.2 1496.3L621.6 1476.2L621.9 1453.2L622.3 1444.1L622.6 1431.1L623.0 1424.3L623.3 1410.8L623.7 1406.9L624.0 1406.3L624.4 1404.5L624.7 1404.6L625.1 1400.1L625.4 1398.3L625.8 1396.9L626.1 1395.9L626.5 1393.0L626.8 1393.3L627.2 1391.7L627.5 1389.9L627.9 1389.4L628.2 1388.4L628.6 1386.3L628.9 1387.5L629.3 1383.6L629.6 1385.3L630.0 1383.9L630.3 1383.7L630.7 1385.1L631.0 1387.8L631.4 1390.7L631.7 1389.9L632.1 1386.1L632.4 1383.6L632.8 1378.6L633.1 1376.2L633.5 1371.0L633.8 1372.6L634.2 1373.1L634.5 1373.7L634.9 1376.6L635.2 1377.2L635.6 1374.5L635.9 1378.5L636.3 1377.3L636.6 1380.6L637.0 1382.6L637.3 1379.8L637.7 1380.9L638.0 1382.0L638.4 1385.7L638.7 1389.0L639.1 1392.8L639.4 1393.3L639.8 1399.1L640.1 1400.4L640.5 1408.1L640.8 1415.3L641.2 1421.1L641.5 1425.2L641.9 1430.2L642.2 1435.2L642.6 1440.4L642.9 1445.6L643.3 1444.8L643.6 1445.3L644.0 1436.6L644.3 1427.6L644.7 1418.1L645.0 1412.4L645.4 1411.0L645.7 1411.5L646.1 1410.0L646.4 1412.7L646.8 1417.3L647.1 1430.3L647.5 1436.9L647.8 1450.7L648.2 1463.7L648.5 1476.7L648.9 1485.9L649.2 1470.3L649.6 1457.3L649.9 1438.9L650.3 1425.6L650.6 1407.9L651.0 1405.0L651.3 1402.6L651.7 1400.6L652.0 1398.5L652.4 1398.2L652.7 1397.0L653.1 1393.7L653.4 1389.1L653.8 1387.3L654.1 1383.5L654.5 1381.9L654.8 1381.3L655.2 1377.3L655.5 1373.7L655.9 1369.7L656.2 1367.4L656.6 1365.8L656.9 1367.5L657.3 1364.9L657.6 1364.9L658.0 1363.2L658.3 1363.1L658.7 1365.2L659.0 1364.3L659.4 1366.1L659.7 1366.9L660.1 1368.2L660.4 1364.3L660.8 1362.5L661.1 1360.4L661.5 1360.4L661.8 1363.7L662.2 1367.3L662.5 1364.6L662.9 1366.7L663.2 1364.9L663.6 1362.3L663.9 1362.2L664.3 1361.2L664.6 1359.6L665.0 1361.8L665.3 1357.2L665.7 1359.4L666.0 1359.0L666.4 1357.6L666.7 1358.1L667.1 1358.9L667.4 1358.5L667.8 1359.2L668.1 1360.0L668.5 1357.4L668.8 1361.7L669.2 1363.0L669.5 1362.0L669.9 1362.6L670.2 1360.6L670.6 1363.5L670.9 1365.6L671.3 1369.3L671.6 1374.3L672.0 1375.3L672.3 1380.3L672.7 1381.5L673.0 1387.1L673.4 1391.0L673.7 1393.7L674.1 1397.7L674.4 1404.1L674.8 1405.0L675.1 1409.8L675.5 1414.9L675.8 1421.8L676.2 1428.8L676.5 1445.5L676.9 1462.6L677.2 1481.7L677.6 1460.4L677.9 1429.2L678.3 1409.2L678.6 1388.2L679.0 1380.0L679.3 1377.4L679.7 1374.5L680.0 1372.2L680.4 1365.7L680.7 1368.1L681.1 1366.7L681.4 1365.4L681.8 1366.0L682.1 1365.4L682.5 1364.1L682.8 1363.4L683.2 1363.2L683.5 1365.2L683.9 1365.4L684.2 1363.4L684.6 1362.5L684.9 1359.8L685.3 1359.3L685.6 1358.6L686.0 1356.1L686.3 1355.8L686.7 1356.8L687.0 1356.2L687.4 1355.2L687.7 1356.6L688.1 1355.7L688.4 1356.9L688.8 1355.6L689.1 1355.9L689.5 1357.4L689.8 1358.0L690.2 1358.4L690.5 1359.7L690.9 1362.0L691.2 1362.8L691.6 1364.5L691.9 1362.2L692.3 1364.6L692.6 1364.6L693.0 1364.3L693.3 1362.8L693.7 1361.8L694.0 1362.4L694.4 1360.8L694.7 1358.5L695.1 1360.4L695.4 1359.4L695.8 1357.4L696.1 1358.6L696.5 1356.6L696.8 1358.4L697.2 1356.6L697.5 1355.7L697.9 1355.9L698.2 1355.2L698.6 1356.0L698.9 1355.8L699.3 1355.9L699.6 1355.4L700.0 1352.1L700.3 1356.4L700.7 1354.4L701.0 1357.0L701.4 1358.1L701.7 1358.1L702.1 1358.8L702.4 1361.4L702.8 1363.0L703.1 1364.2L703.5 1366.3L703.8 1368.9L704.2 1381.7L704.5 1390.8L704.9 1402.8L705.2 1412.7L705.6 1430.0L705.9 1446.6L706.3 1464.7L706.6 1478.3L707.0 1450.6L707.3 1423.5L707.7 1402.4L708.0 1384.3L708.4 1377.8L708.7 1374.2L709.1 1372.6L709.4 1368.2L709.8 1367.9L710.1 1366.1L710.5 1369.7L710.8 1367.2L711.2 1367.8L711.5 1366.7L711.9 1365.6L712.2 1365.3L712.6 1367.0L712.9 1367.1L713.3 1365.7L713.6 1363.6L714.0 1363.0L714.3 1363.3L714.7 1360.8L715.0 1362.2L715.4 1360.6L715.7 1360.0L716.1 1355.4L716.4 1351.3L716.8 1351.3L717.1 1349.7L717.5 1354.0L717.8 1355.7L718.2 1358.2L718.5 1359.0L718.9 1360.2L719.2 1361.1L719.6 1361.6L719.9 1361.9L720.3 1358.6L720.6 1358.7L721.0 1357.1L721.3 1359.9L721.7 1359.0L722.0 1357.8L722.4 1355.1L722.7 1356.0L723.1 1355.9L723.4 1357.3L723.8 1358.0L724.1 1359.9L724.5 1359.9L724.8 1362.3L725.2 1362.7L725.5 1363.2L725.9 1363.6L726.2 1362.3L726.6 1362.8L726.9 1360.8L727.3 1360.5L727.6 1358.9L728.0 1356.8L728.3 1358.6L728.7 1356.4L729.0 1360.1L729.4 1361.6L729.7 1361.0L730.1 1362.9L730.4 1364.0L730.8 1364.1L731.1 1363.5L731.5 1366.8L731.8 1365.7L732.2 1366.7L732.5 1366.4L732.9 1368.0L733.2 1370.6L733.6 1375.9L733.9 1379.6L734.3 1384.5L734.6 1397.3L735.0 1409.3L735.3 1424.0L735.7 1442.8L736.0 1461.6L736.4 1475.8L736.7 1453.0L737.1 1431.3L737.4 1408.9L737.8 1402.7L738.1 1396.6L738.5 1386.8L738.8 1392.3L739.2 1394.1L739.5 1399.1L739.9 1401.1L740.2 1404.4L740.6 1408.6L740.9 1404.4L741.3 1398.0L741.6 1392.9L742.0 1385.9L742.3 1383.1L742.7 1380.3L743.0 1377.8L743.4 1372.6L743.7 1370.5L744.1 1370.3L744.4 1369.0L744.8 1368.5L745.1 1366.7L745.5 1364.2L745.8 1364.1L746.2 1363.7L746.5 1363.4L746.9 1363.0L747.2 1361.6L747.6 1359.7L747.9 1361.0L748.3 1359.1L748.6 1360.7L749.0 1359.8L749.3 1357.1L749.7 1358.8L750.0 1358.1L750.4 1356.4L750.7 1357.2L751.1 1356.6L751.4 1353.2L751.8 1356.4L752.1 1356.5L752.5 1357.1L752.8 1358.4L753.2 1357.3L753.5 1358.1L753.9 1358.6L754.2 1359.1L754.6 1360.1L754.9 1358.9L755.3 1359.7L755.6 1361.7L756.0 1361.3L756.3 1362.1L756.7 1359.9L757.0 1361.3L757.4 1361.9L757.7 1363.0L758.1 1363.3L758.4 1365.9L758.8 1365.7L759.1 1366.8L759.5 1367.7L759.8 1368.9L760.2 1366.9L760.5 1368.0L760.9 1366.5L761.2 1365.8L761.6 1367.3L761.9 1367.8L762.3 1370.1L762.6 1371.2L763.0 1371.1L763.3 1372.9L763.7 1373.3L764.0 1377.5L764.4 1386.8L764.7 1395.8L765.1 1411.6L765.4 1426.3L765.8 1440.7L766.1 1457.7L766.5 1462.1L766.8 1437.0L767.2 1408.7L767.5 1380.6L767.9 1379.0L768.2 1374.1L768.6 1373.3L768.9 1366.2L769.3 1366.3L769.6 1371.6L770.0 1374.3L770.3 1376.1L770.7 1376.0L771.0 1381.2L771.4 1384.7L771.7 1383.8L772.1 1390.2L772.4 1391.4L772.8 1392.6L773.1 1387.7L773.5 1384.2L773.8 1382.8L774.2 1379.4L774.5 1375.3L774.9 1374.0L775.2 1369.8L775.6 1365.6L775.9 1367.0L776.3 1363.0L776.6 1361.8L777.0 1361.9L777.3 1358.9L777.7 1358.2L778.0 1358.2L778.4 1359.0L778.7 1361.2L779.1 1364.0L779.4 1363.9L779.8 1366.6L780.1 1368.4L780.5 1366.2L780.8 1366.1L781.2 1363.2L781.5 1363.8L781.9 1361.6L782.2 1359.5L782.6 1356.5L782.9 1356.5L783.3 1355.0L783.6 1357.2L784.0 1356.8L784.3 1356.5L784.7 1359.0L785.0 1359.3L785.4 1358.3L785.7 1360.8L786.1 1359.2L786.4 1358.4L786.8 1358.1L787.1 1356.4L787.5 1355.9L787.8 1355.5L788.2 1356.6L788.5 1355.8L788.9 1353.1L789.2 1354.4L789.6 1352.8L789.9 1355.9L790.3 1359.2L790.6 1361.2L791.0 1366.2L791.3 1366.5L791.7 1367.6L792.0 1376.0L792.4 1379.2L792.7 1379.9L793.1 1371.8L793.4 1370.8L793.8 1366.0L794.1 1363.7" fill="none" stroke="#000" stroke-width="0.4" stroke-linejoin="round"/>
<path d="M510.3 1422.4L510.6 1418.3L511.0 1413.7L511.3 1411.4L511.7 1412.2L512.0 1416.0L512.4 1419.5L512.7 1424.2L513.1 1428.7L513.4 1425.1L513.8 1421.0L514.1 1412.9L514.5 1401.9L514.8 1392.4L515.2 1385.5L515.5 1384.0L515.9 1385.1L516.2 1381.8M534.1 1366.6L534.4 1365.8L534.8 1364.7L535.1 1365.5L535.5 1367.9L535.8 1368.0L536.2 1370.6L536.5 1373.7L536.9 1374.7L537.2 1382.2L537.6 1388.6L537.9 1395.7L538.3 1408.3L538.6 1417.1L539.0 1428.7L539.3 1437.4L539.7 1427.4L540.0 1413.5L540.4 1401.1L540.7 1392.1L541.1 1384.7L541.4 1377.7L541.8 1373.7L542.1 1372.4L542.5 1368.9L542.8 1370.0L543.2 1366.3L543.5 1366.3L543.9 1364.7L544.2 1364.1L544.6 1366.1M561.0 1373.9L561.4 1373.5L561.7 1368.7L562.1 1368.9L562.4 1370.1L562.8 1371.3L563.1 1374.5L563.5 1374.0L563.8 1377.6L564.2 1383.9L564.5 1395.3L564.9 1402.8L565.2 1416.7L565.6 1426.8L565.9 1440.0L566.3 1453.5L566.6 1449.9L567.0 1432.1L567.3 1419.1L567.7 1404.6L568.0 1395.2L568.4 1384.1L568.7 1378.4L569.1 1376.5L569.4 1375.5L569.8 1373.2L570.1 1373.1L570.5 1373.4L570.8 1369.3L571.2 1371.0L571.5 1370.4M587.3 1432.7L587.6 1436.3L588.0 1442.9L588.3 1447.7L588.7 1455.4L589.0 1452.1L589.4 1449.2L589.7 1450.4L590.1 1451.2L590.4 1449.3L590.8 1450.1L591.1 1455.8L591.5 1461.3L591.8 1466.1L592.2 1473.0L592.5 1482.4L592.9 1488.6L593.2 1492.9L593.6 1474.1L593.9 1457.2L594.3 1442.4L594.6 1423.5L595.0 1409.9L595.3 1406.0L595.7 1402.1L596.0 1400.0L596.4 1396.1L596.7 1396.6L597.1 1394.7L597.4 1391.5L597.8 1388.0L598.1 1389.2L598.5 1392.3L598.8 1394.1L599.2 1393.5M617.0 1415.9L617.4 1422.8L617.7 1424.0L618.1 1441.9L618.4 1454.1L618.8 1457.2L619.1 1462.1L619.5 1480.8L619.8 1498.4L620.2 1508.9L620.5 1521.8L620.9 1510.0L621.2 1496.3L621.6 1476.2L621.9 1453.2L622.3 1444.1L622.6 1431.1L623.0 1424.3L623.3 1410.8L623.7 1406.9L624.0 1406.3L624.4 1404.5L624.7 1404.6L625.1 1400.1L625.4 1398.3L625.8 1396.9L626.1 1395.9M641.5 1425.2L641.9 1430.2L642.2 1435.2L642.6 1440.4L642.9 1445.6L643.3 1444.8L643.6 1445.3L644.0 1436.6L644.3 1427.6L644.7 1418.1L645.0 1412.4L645.4 1411.0L645.7 1411.5L646.1 1410.0L646.4 1412.7L646.8 1417.3L647.1 1430.3L647.5 1436.9L647.8 1450.7L648.2 1463.7L648.5 1476.7L648.9 1485.9L649.2 1470.3L649.6 1457.3L649.9 1438.9L650.3 1425.6L650.6 1407.9L651.0 1405.0L651.3 1402.6L651.7 1400.6L652.0 1398.5L652.4 1398.2L652.7 1397.0L653.1 1393.7L653.4 1389.1L653.8 1387.3L654.1 1383.5L654.5 1381.9L654.8 1381.3L655.2 1377.3L655.5 1373.7M669.2 1363.0L669.5 1362.0L669.9 1362.6L670.2 1360.6L670.6 1363.5L670.9 1365.6L671.3 1369.3L671.6 1374.3L672.0 1375.3L672.3 1380.3L672.7 1381.5L673.0 1387.1L673.4 1391.0L673.7 1393.7L674.1 1397.7L674.4 1404.1L674.8 1405.0L675.1 1409.8L675.5 1414.9L675.8 1421.8L676.2 1428.8L676.5 1445.5L676.9 1462.6L677.2 1481.7L677.6 1460.4L677.9 1429.2L678.3 1409.2L678.6 1388.2L679.0 1380.0L679.3 1377.4L679.7 1374.5L680.0 1372.2L680.4 1365.7L680.7 1368.1L681.1 1366.7L681.4 1365.4L681.8 1366.0L682.1 1365.4L682.5 1364.1L682.8 1363.4L683.2 1363.2L683.5 1365.2L683.9 1365.4L684.2 1363.4L684.6 1362.5L684.9 1359.8L685.3 1359.3L685.6 1358.6L686.0 1356.1M700.3 1356.4L700.7 1354.4L701.0 1357.0L701.4 1358.1L701.7 1358.1L702.1 1358.8L702.4 1361.4L702.8 1363.0L703.1 1364.2L703.5 1366.3L703.8 1368.9L704.2 1381.7L704.5 1390.8L704.9 1402.8L705.2 1412.7L705.6 1430.0L705.9 1446.6L706.3 1464.7L706.6 1478.3L707.0 1450.6L707.3 1423.5L707.7 1402.4L708.0 1384.3L708.4 1377.8L708.7 1374.2L709.1 1372.6L709.4 1368.2L709.8 1367.9L710.1 1366.1L710.5 1369.7L710.8 1367.2L711.2 1367.8L711.5 1366.7L711.9 1365.6L712.2 1365.3L712.6 1367.0L712.9 1367.1L713.3 1365.7L713.6 1363.6L714.0 1363.0L714.3 1363.3L714.7 1360.8L715.0 1362.2L715.4 1360.6L715.7 1360.0L716.1 1355.4L716.4 1351.3M728.7 1356.4L729.0 1360.1L729.4 1361.6L729.7 1361.0L730.1 1362.9L730.4 1364.0L730.8 1364.1L731.1 1363.5L731.5 1366.8L731.8 1365.7L732.2 1366.7L732.5 1366.4L732.9 1368.0L733.2 1370.6L733.6 1375.9L733.9 1379.6L734.3 1384.5L734.6 1397.3L735.0 1409.3L735.3 1424.0L735.7 1442.8L736.0 1461.6L736.4 1475.8L736.7 1453.0L737.1 1431.3L737.4 1408.9L737.8 1402.7L738.1 1396.6L738.5 1386.8L738.8 1392.3L739.2 1394.1L739.5 1399.1L739.9 1401.1L740.2 1404.4L740.6 1408.6L740.9 1404.4L741.3 1398.0L741.6 1392.9L742.0 1385.9M759.8 1368.9L760.2 1366.9L760.5 1368.0L760.9 1366.5L761.2 1365.8L761.6 1367.3L761.9 1367.8L762.3 1370.1L762.6 1371.2L763.0 1371.1L763.3 1372.9L763.7 1373.3L764.0 1377.5L764.4 1386.8L764.7 1395.8L765.1 1411.6L765.4 1426.3L765.8 1440.7L766.1 1457.7L766.5 1462.1L766.8 1437.0L767.2 1408.7L767.5 1380.6L767.9 1379.0L768.2 1374.1L768.6 1373.3L768.9 1366.2L769.3 1366.3L769.6 1371.6L770.0 1374.3L770.3 1376.1L770.7 1376.0L771.0 1381.2L771.4 1384.7L771.7 1383.8L772.1 1390.2L772.4 1391.4L772.8 1392.6M790.3 1359.2L790.6 1361.2L791.0 1366.2L791.3 1366.5L791.7 1367.6L792.0 1376.0L792.4 1379.2L792.7 1379.9L793.1 1371.8L793.4 1370.8L793.8 1366.0L794.1 1363.7" fill="none" stroke="#000" stroke-width="0.8" stroke-linejoin="round"/>
<path d="M466.5 1375.0L466.9 1377.9L467.2 1379.3L467.6 1381.1L467.9 1383.4L468.3 1384.3L468.6 1387.8L469.0 1387.1L469.3 1389.4L469.7 1389.0L470.0 1390.3L470.4 1389.0L470.7 1391.4L471.1 1392.4L471.4 1393.6L471.8 1392.9L472.1 1397.7L472.5 1397.7L472.8 1399.0L473.2 1400.6L473.5 1404.5L473.9 1409.2L474.2 1411.3L474.6 1415.7L474.9 1421.0L475.3 1424.8L475.6 1427.8L476.0 1431.0L476.3 1434.2L476.7 1438.6L477.0 1441.1L477.4 1439.4L477.7 1442.9L478.1 1439.3L478.4 1435.0L478.8 1433.5L479.1 1426.3L479.5 1420.8L479.8 1416.0L480.2 1411.8L480.5 1408.7L480.9 1406.2L481.2 1404.5L481.6 1399.8L481.9 1400.3L482.3 1395.9L482.6 1394.8L483.0 1393.5L483.3 1391.0L483.7 1389.2L484.0 1387.9L484.4 1387.4L484.7 1388.7L485.1 1390.7L485.4 1391.1L485.8 1393.4L486.1 1392.9L486.5 1391.9L486.8 1386.8L487.2 1387.9L487.5 1383.7L487.9 1381.3L488.2 1380.5L488.6 1379.1L488.9 1376.3L489.3 1374.9L489.6 1373.0L490.0 1374.9L490.3 1375.7L490.7 1374.9L491.0 1377.3L491.4 1376.6L491.7 1376.5L492.1 1374.4L492.4 1374.0L492.8 1374.1L493.1 1370.7L493.5 1372.1L493.8 1373.8L494.2 1375.8L494.5 1375.1L494.9 1379.4L495.2 1381.9L495.6 1380.5L495.9 1381.7L496.3 1379.2L496.6 1382.8L497.0 1381.6L497.3 1383.0L497.7 1377.6L498.0 1377.9L498.4 1374.5L498.7 1373.8L499.1 1374.3L499.4 1377.1L499.8 1382.7L500.1 1381.7L500.5 1382.7L500.8 1384.1L501.2 1384.2L501.5 1387.6L501.9 1389.1L502.2 1387.4L502.6 1385.6L502.9 1388.1L503.3 1387.3L503.6 1386.3L504.0 1388.8L504.3 1388.9L504.7 1392.0L505.0 1393.0L505.4 1395.3L505.7 1400.3L506.1 1399.4L506.4 1403.3L506.8 1401.6L507.1 1401.5L507.5 1405.8L507.8 1410.1L508.2 1411.8L508.5 1413.1L508.9 1417.1L509.2 1420.4L509.6 1420.4L509.9 1422.2L510.3 1422.4L510.6 1418.3L511.0 1413.7L511.3 1411.4L511.7 1407.6L512.0 1405.2L512.4 1401.5L512.7 1399.2L513.1 1396.2L513.4 1391.9L513.8 1392.2L514.1 1390.8L514.5 1388.5L514.8 1387.3L515.2 1384.2L515.5 1382.9L515.9 1384.1L516.2 1381.0L516.6 1379.0L516.9 1381.6L517.3 1378.8L517.6 1378.4L518.0 1376.5L518.3 1376.3L518.7 1376.1L519.0 1376.6L519.4 1377.1L519.7 1373.8L520.1 1376.8L520.4 1374.3L520.8 1374.0L521.1 1375.4L521.5 1374.1L521.8 1371.9L522.2 1375.1L522.5 1371.6L522.9 1372.3L523.2 1371.8L523.6 1372.4L523.9 1369.5L524.3 1370.1L524.6 1367.3L525.0 1368.4L525.3 1365.4L525.7 1365.5L526.0 1369.7L526.4 1369.7L526.7 1371.3L527.1 1374.8L527.4 1371.5L527.8 1368.9L528.1 1369.3L528.5 1365.9L528.8 1367.2L529.2 1366.2L529.5 1364.6L529.9 1365.0L530.2 1366.3L530.6 1366.6L530.9 1365.9L531.3 1368.1L531.6 1365.7L532.0 1367.9L532.3 1367.6L532.7 1367.5L533.0 1367.9L533.4 1365.9L533.7 1367.7L534.1 1366.6L534.4 1365.8L534.8 1364.7L535.1 1365.8L535.5 1368.4L535.8 1367.9L536.2 1370.0L536.5 1372.1L536.9 1373.0L537.2 1374.6L537.6 1373.5L537.9 1370.5L538.3 1370.0L538.6 1366.5L539.0 1364.6L539.3 1363.7L539.7 1366.2L540.0 1367.1L540.4 1368.3L540.7 1369.3L541.1 1370.5L541.4 1370.0L541.8 1368.9L542.1 1368.7L542.5 1366.0L542.8 1367.4L543.2 1364.4L543.5 1365.0L543.9 1363.6L544.2 1363.1L544.6 1365.4L544.9 1362.5L545.3 1361.2L545.6 1361.6L546.0 1361.7L546.3 1364.2L546.7 1361.9L547.0 1362.5L547.4 1360.1L547.7 1361.4L548.1 1361.5L548.4 1362.6L548.8 1359.6L549.1 1360.8L549.5 1360.3L549.8 1359.0L550.2 1360.7L550.5 1361.0L550.9 1359.4L551.2 1363.2L551.6 1363.7L551.9 1363.3L552.3 1362.9L552.6 1366.6L553.0 1365.9L553.3 1367.3L553.7 1368.4L554.0 1366.9L554.4 1368.9L554.7 1368.4L555.1 1369.2L555.4 1370.1L555.8 1372.3L556.1 1375.6L556.5 1376.6L556.8 1378.6L557.2 1381.6L557.5 1385.5L557.9 1387.3L558.2 1390.7L558.6 1393.2L558.9 1394.6L559.3 1395.0L559.6 1389.2L560.0 1386.8L560.3 1381.0L560.7 1377.2L561.0 1373.9L561.4 1373.5L561.7 1368.7L562.1 1367.4L562.4 1367.0L562.8 1366.2L563.1 1366.6L563.5 1364.2L563.8 1365.7L564.2 1363.4L564.5 1366.2L564.9 1365.4L565.2 1369.5L565.6 1368.2L565.9 1369.5L566.3 1372.1L566.6 1374.0L567.0 1372.9L567.3 1375.2L567.7 1375.6L568.0 1378.8L568.4 1377.2L568.7 1374.8L569.1 1372.3L569.4 1370.6L569.8 1369.6L570.1 1370.9L570.5 1371.9L570.8 1368.1L571.2 1370.0L571.5 1369.6L571.9 1370.5L572.2 1368.9L572.6 1369.7L572.9 1368.6L573.3 1371.4L573.6 1372.1L574.0 1373.2L574.3 1375.2L574.7 1376.0L575.0 1375.9L575.4 1379.6L575.7 1380.4L576.1 1381.1L576.4 1383.5L576.8 1384.9L577.1 1383.5L577.5 1386.0L577.8 1391.7L578.2 1394.7L578.5 1395.5L578.9 1396.6L579.2 1396.7L579.6 1396.4L579.9 1394.7L580.3 1396.0L580.6 1394.1L581.0 1394.0L581.3 1396.7L581.7 1395.3L582.0 1396.3L582.4 1397.8L582.7 1399.4L583.1 1399.5L583.4 1401.4L583.8 1401.8L584.1 1406.0L584.5 1406.6L584.8 1407.4L585.2 1411.5L585.5 1415.0L585.9 1417.8L586.2 1423.1L586.6 1426.5L586.9 1428.2L587.3 1432.6L587.6 1435.1L588.0 1440.6L588.3 1444.4L588.7 1450.9L589.0 1450.1L589.4 1449.4L589.7 1447.8L590.1 1445.5L590.4 1440.8L590.8 1438.1L591.1 1434.4L591.5 1431.0L591.8 1426.2L592.2 1421.2L592.5 1419.2L592.9 1413.9L593.2 1410.1L593.6 1405.3L593.9 1403.1L594.3 1401.9L594.6 1396.6L595.0 1395.5L595.3 1394.6L595.7 1391.9L596.0 1391.0L596.4 1387.9L596.7 1390.2L597.1 1389.8L597.4 1388.6L597.8 1386.3L598.1 1387.9L598.5 1391.3L598.8 1393.3L599.2 1392.9L599.5 1395.1L599.9 1394.3L600.2 1393.3L600.6 1391.0L600.9 1389.0L601.3 1384.4L601.6 1386.5L602.0 1387.2L602.3 1384.7L602.7 1384.7L603.0 1386.8L603.4 1385.9L603.7 1384.7L604.1 1389.1L604.4 1389.4L604.8 1389.6L605.1 1393.4L605.5 1392.1L605.8 1392.3L606.2 1394.7L606.5 1394.8L606.9 1396.5L607.2 1399.2L607.6 1399.6L607.9 1402.5L608.3 1409.4L608.6 1413.1L609.0 1417.6L609.3 1421.9L609.7 1426.8L610.0 1432.8L610.4 1436.0L610.7 1442.7L611.1 1443.5L611.4 1448.2L611.8 1450.0L612.1 1448.5L612.5 1446.7L612.8 1445.0L613.2 1438.7L613.5 1434.2L613.9 1428.5L614.2 1423.8L614.6 1421.5L614.9 1421.1L615.3 1417.4L615.6 1417.7L616.0 1415.8L616.3 1413.3L616.7 1413.1L617.0 1415.9L617.4 1422.8L617.7 1423.0L618.1 1432.8L618.4 1438.4L618.8 1444.0L619.1 1449.5L619.5 1455.4L619.8 1459.7L620.2 1460.3L620.5 1456.2L620.9 1451.5L621.2 1444.5L621.6 1440.1L621.9 1431.2L622.3 1426.3L622.6 1418.2L623.0 1418.3L623.3 1411.7L623.7 1406.5L624.0 1405.3L624.4 1403.3L624.7 1403.7L625.1 1399.3L625.4 1397.8L625.8 1396.6L626.1 1395.9L626.5 1393.0L626.8 1393.3L627.2 1391.7L627.5 1389.9L627.9 1389.4L628.2 1388.4L628.6 1386.3L628.9 1387.5L629.3 1383.6L629.6 1385.3L630.0 1383.9L630.3 1383.7L630.7 1385.1L631.0 1387.8L631.4 1390.7L631.7 1389.9L632.1 1386.1L632.4 1383.6L632.8 1378.6L633.1 1376.2L633.5 1371.0L633.8 1372.6L634.2 1373.1L634.5 1373.7L634.9 1376.6L635.2 1377.2L635.6 1374.5L635.9 1378.5L636.3 1377.3L636.6 1380.6L637.0 1382.6L637.3 1379.8L637.7 1380.9L638.0 1382.0L638.4 1385.7L638.7 1389.0L639.1 1392.8L639.4 1393.3L639.8 1399.1L640.1 1400.4L640.5 1408.1L640.8 1415.3L641.2 1421.1L641.5 1425.2L641.9 1430.2L642.2 1435.2L642.6 1440.4L642.9 1444.4L643.3 1437.0L643.6 1434.2L644.0 1429.6L644.3 1424.9L644.7 1420.6L645.0 1417.6L645.4 1412.2L645.7 1408.4L646.1 1403.5L646.4 1400.3L646.8 1391.7L647.1 1390.8L647.5 1386.3L647.8 1383.5L648.2 1379.9L648.5 1376.2L648.9 1380.0L649.2 1381.7L649.6 1385.1L649.9 1385.1L650.3 1389.7L650.6 1389.8L651.0 1390.6L651.3 1391.5L651.7 1392.9L652.0 1393.9L652.4 1392.7L652.7 1391.3L653.1 1389.0L653.4 1385.5L653.8 1384.7L654.1 1381.9L654.5 1380.7L654.8 1380.3L655.2 1376.6L655.5 1373.2L655.9 1369.4L656.2 1367.3L656.6 1365.8L656.9 1367.5L657.3 1364.9L657.6 1364.9L658.0 1363.2L658.3 1363.1L658.7 1365.2L659.0 1364.3L659.4 1366.1L659.7 1366.9L660.1 1368.2L660.4 1364.3L660.8 1362.5L661.1 1360.4L661.5 1360.4L661.8 1363.7L662.2 1367.3L662.5 1364.6L662.9 1366.7L663.2 1364.9L663.6 1362.3L663.9 1362.2L664.3 1361.2L664.6 1359.6L665.0 1361.8L665.3 1357.2L665.7 1359.4L666.0 1359.0L666.4 1357.6L666.7 1358.1L667.1 1358.9L667.4 1358.5L667.8 1359.2L668.1 1360.0L668.5 1357.4L668.8 1361.7L669.2 1363.0L669.5 1362.0L669.9 1362.9L670.2 1362.2L670.6 1365.4L670.9 1366.5L671.3 1368.7L671.6 1372.2L672.0 1372.5L672.3 1376.8L672.7 1378.3L673.0 1383.8L673.4 1387.4L673.7 1389.1L674.1 1391.7L674.4 1397.2L674.8 1390.2L675.1 1386.6L675.5 1383.0L675.8 1381.3L676.2 1379.1L676.5 1373.9L676.9 1369.5L677.2 1366.7L677.6 1365.1L677.9 1360.9L678.3 1361.4L678.6 1359.2L679.0 1355.7L679.3 1357.2L679.7 1358.3L680.0 1360.1L680.4 1358.2L680.7 1361.6L681.1 1360.8L681.4 1360.0L681.8 1360.5L682.1 1359.6L682.5 1358.3L682.8 1357.2L683.2 1357.4L683.5 1359.9L683.9 1360.2L684.2 1358.6L684.6 1359.0L684.9 1357.0L685.3 1357.3L685.6 1357.5L686.0 1355.9L686.3 1355.8L686.7 1356.8L687.0 1356.2L687.4 1355.2L687.7 1356.6L688.1 1355.7L688.4 1356.9L688.8 1355.6L689.1 1355.9L689.5 1357.4L689.8 1358.0L690.2 1358.4L690.5 1359.7L690.9 1362.0L691.2 1362.8L691.6 1364.5L691.9 1362.2L692.3 1364.6L692.6 1364.6L693.0 1364.3L693.3 1362.8L693.7 1361.8L694.0 1362.4L694.4 1360.8L694.7 1358.5L695.1 1360.4L695.4 1359.4L695.8 1357.4L696.1 1358.6L696.5 1356.6L696.8 1358.4L697.2 1356.6L697.5 1355.7L697.9 1355.9L698.2 1355.2L698.6 1356.0L698.9 1355.6L699.3 1355.1L699.6 1354.0L700.0 1350.2L700.3 1353.9L700.7 1351.3L701.0 1353.2L701.4 1353.7L701.7 1352.4L702.1 1351.2L702.4 1351.3L702.8 1352.0L703.1 1352.3L703.5 1352.9L703.8 1353.3L704.2 1356.3L704.5 1355.7L704.9 1357.4L705.2 1356.8L705.6 1357.9L705.9 1358.3L706.3 1359.7L706.6 1360.8L707.0 1360.9L707.3 1360.5L707.7 1359.7L708.0 1361.6L708.4 1358.8L708.7 1358.1L709.1 1359.3L709.4 1358.2L709.8 1356.9L710.1 1355.2L710.5 1359.2L710.8 1358.1L711.2 1359.3L711.5 1359.6L711.9 1359.2L712.2 1360.4L712.6 1363.3L712.9 1364.4L713.3 1363.0L713.6 1361.1L714.0 1359.8L714.3 1360.1L714.7 1357.9L715.0 1359.6L715.4 1358.3L715.7 1358.4L716.1 1354.5L716.4 1351.1L716.8 1351.3L717.1 1349.7L717.5 1354.0L717.8 1355.7L718.2 1358.2L718.5 1359.0L718.9 1360.2L719.2 1361.1L719.6 1361.6L719.9 1361.9L720.3 1358.6L720.6 1358.7L721.0 1357.1L721.3 1359.9L721.7 1359.0L722.0 1357.8L722.4 1355.1L722.7 1356.0L723.1 1355.9L723.4 1357.3L723.8 1358.0L724.1 1359.9L724.5 1359.9L724.8 1362.3L725.2 1362.7L725.5 1363.2L725.9 1363.6L726.2 1362.3L726.6 1362.8L726.9 1360.8L727.3 1360.5L727.6 1358.9L728.0 1356.8L728.3 1358.6L728.7 1356.0L729.0 1358.5L729.4 1358.7L729.7 1356.9L730.1 1358.2L730.4 1359.2L730.8 1359.4L731.1 1359.6L731.5 1361.9L731.8 1360.1L732.2 1360.1L732.5 1358.5L732.9 1358.6L733.2 1356.8L733.6 1356.8L733.9 1356.8L734.3 1355.8L734.6 1356.4L735.0 1356.9L735.3 1359.4L735.7 1360.8L736.0 1361.3L736.4 1362.0L736.7 1365.9L737.1 1370.5L737.4 1369.9L737.8 1373.1L738.1 1378.4L738.5 1380.4L738.8 1388.6L739.2 1393.0L739.5 1398.8L739.9 1400.5L740.2 1403.4L740.6 1407.5L740.9 1403.3L741.3 1397.2L741.6 1392.5L742.0 1385.8L742.3 1383.1L742.7 1380.3L743.0 1377.8L743.4 1372.6L743.7 1370.5L744.1 1370.3L744.4 1369.0L744.8 1368.5L745.1 1366.7L745.5 1364.2L745.8 1364.1L746.2 1363.7L746.5 1363.4L746.9 1363.0L747.2 1361.6L747.6 1359.7L747.9 1361.0L748.3 1359.1L748.6 1360.7L749.0 1359.8L749.3 1357.1L749.7 1358.8L750.0 1358.1L750.4 1356.4L750.7 1357.2L751.1 1356.6L751.4 1353.2L751.8 1356.4L752.1 1356.5L752.5 1357.1L752.8 1358.4L753.2 1357.3L753.5 1358.1L753.9 1358.6L754.2 1359.1L754.6 1360.1L754.9 1358.9L755.3 1359.7L755.6 1361.7L756.0 1361.3L756.3 1362.1L756.7 1359.9L757.0 1361.3L757.4 1361.9L757.7 1363.0L758.1 1363.3L758.4 1365.9L758.8 1365.7L759.1 1366.8L759.5 1367.7L759.8 1368.8L760.2 1366.2L760.5 1366.8L760.9 1364.8L761.2 1363.2L761.6 1361.9L761.9 1361.2L762.3 1360.5L762.6 1359.3L763.0 1358.0L763.3 1357.8L763.7 1356.3L764.0 1356.9L764.4 1354.7L764.7 1351.9L765.1 1356.1L765.4 1355.2L765.8 1354.2L766.1 1355.8L766.5 1355.4L766.8 1359.2L767.2 1357.8L767.5 1356.0L767.9 1359.4L768.2 1359.4L768.6 1363.0L768.9 1360.8L769.3 1360.5L769.6 1364.1L770.0 1367.4L770.3 1371.2L770.7 1373.1L771.0 1379.8L771.4 1384.4L771.7 1383.6L772.1 1390.1L772.4 1391.4L772.8 1392.6L773.1 1387.7L773.5 1384.2L773.8 1382.8L774.2 1379.4L774.5 1375.3L774.9 1374.0L775.2 1369.8L775.6 1365.6L775.9 1367.0L776.3 1363.0L776.6 1361.8L777.0 1361.9L777.3 1358.9L777.7 1358.2L778.0 1358.2L778.4 1359.0L778.7 1361.2L779.1 1364.0L779.4 1363.9L779.8 1366.6L780.1 1368.4L780.5 1366.2L780.8 1366.1L781.2 1363.2L781.5 1363.8L781.9 1361.6L782.2 1359.5L782.6 1356.5L782.9 1356.5L783.3 1355.0L783.6 1357.2L784.0 1356.8L784.3 1356.5L784.7 1359.0L785.0 1359.3L785.4 1358.3L785.7 1360.8L786.1 1359.2L786.4 1358.4L786.8 1358.1L787.1 1356.4L787.5 1355.9L787.8 1355.5L788.2 1356.6L788.5 1355.8L788.9 1353.1L789.2 1354.4L789.6 1352.7L789.9 1355.3L790.3 1358.1L790.6 1359.7L791.0 1364.2L791.3 1364.1L791.7 1365.2L792.0 1372.5L792.4 1375.1L792.7 1376.5L793.1 1370.1L793.4 1371.0L793.8 1367.3L794.1 1363.8" fill="none" stroke="#ff0000" stroke-width="0.95" stroke-linejoin="round"/>
</g>
<path d="M466.5 1520.5v4.86M532.5 1520.5v4.86M597.5 1520.5v4.86M663.5 1520.5v4.86M728.5 1520.5v4.86M794.5 1520.5v4.86M466.5 1482.5h-4.86M466.5 1428.5h-4.86M466.5 1373.5h-4.86M466.5 1318.5h-4.86M466.5 1263.5h-4.86" stroke="#000" stroke-width="1.11" fill="none"/>
<rect x="466.5" y="1235.5" width="328.0" height="285.0" fill="none" stroke="#000" stroke-width="1.11"/>
<rect x="860.5" y="1235.5" width="328.0" height="285.0" fill="#FEFCE1"/>
<path d="M860.5 1520.5V1235.5M942.5 1520.5V1235.5M1024.5 1520.5V1235.5M1106.5 1520.5V1235.5M1188.5 1520.5V1235.5M860.5 1514.5H1188.5M860.5 1459.5H1188.5M860.5 1404.5H1188.5M860.5 1349.5H1188.5M860.5 1294.5H1188.5M860.5 1239.5H1188.5" stroke="#d2d2d6" stroke-width="1.11" stroke-dasharray="4.1 1.78" fill="none"/>
<g clip-path="url(#c5)">
<path d="M860.5 1391.3L861.2 1388.8L861.9 1385.6L862.6 1383.2L863.3 1383.7L864.0 1385.4L864.7 1387.8L865.4 1389.0L866.1 1390.2L866.8 1386.8L867.5 1385.5L868.2 1384.4L868.9 1383.1L869.6 1383.4L870.3 1383.8L871.0 1384.5L871.7 1385.7L872.4 1385.9L873.1 1386.3L873.8 1387.7L874.5 1388.3L875.2 1388.9L875.9 1388.7L876.6 1388.8L877.3 1388.6L878.0 1386.1L878.7 1383.6L879.4 1381.2L880.1 1382.4L880.8 1382.2L881.5 1382.4L882.2 1383.0L882.9 1383.5L883.6 1387.8L884.3 1394.9L885.0 1403.9L885.7 1411.9L886.4 1419.0L887.1 1426.5L887.8 1433.3L888.5 1439.7L889.2 1445.4L889.9 1451.6L890.6 1461.8L891.3 1472.0L892.0 1471.5L892.7 1471.2L893.4 1465.0L894.1 1453.0L894.8 1442.5L895.5 1431.4L896.2 1423.8L896.9 1420.0L897.6 1416.0L898.3 1413.1L899.0 1411.2L899.7 1409.9L900.4 1413.2L901.1 1414.9L901.8 1413.2L902.5 1408.9L903.2 1406.7L903.9 1404.7L904.6 1403.0L905.3 1400.5L906.0 1400.4L906.7 1399.5L907.4 1397.1L908.1 1393.5L908.8 1389.9L909.5 1387.0L910.2 1383.0L910.9 1380.4L911.6 1377.6L912.3 1376.4L913.0 1376.4L913.7 1374.6L914.4 1373.8L915.1 1373.8L915.8 1373.2L916.5 1371.9L917.2 1370.8L917.9 1372.0L918.6 1372.9L919.3 1374.3L920.0 1374.3L920.7 1374.5L921.4 1374.5L922.1 1375.2L922.8 1375.7L923.5 1377.9L924.2 1380.0L924.9 1383.3L925.6 1387.0L926.3 1390.5L927.0 1394.9L927.7 1398.4L928.4 1405.7L929.1 1409.8L929.8 1414.2L930.5 1417.9L931.2 1422.4L931.9 1427.0L932.6 1432.4L933.3 1434.1L934.0 1435.8L934.7 1441.9L935.4 1440.8L936.1 1439.3L936.8 1437.4L937.5 1434.7L938.2 1433.9L938.9 1434.0L939.6 1432.6L940.3 1426.4L941.0 1413.1L941.7 1402.9L942.4 1394.8L943.1 1387.9L943.8 1383.8L944.5 1381.3L945.2 1378.2L945.9 1377.3L946.6 1377.3L947.3 1376.8L948.0 1377.2L948.7 1378.5L949.4 1377.5L950.1 1375.5L950.8 1372.3L951.5 1369.3L952.2 1373.9L952.9 1373.0L953.6 1372.8L954.3 1372.8L955.0 1372.7L955.7 1371.7L956.4 1371.2L957.1 1371.7L957.8 1370.4L958.5 1371.0L959.2 1369.8L959.9 1371.8L960.6 1374.9L961.3 1372.3L962.0 1367.9L962.7 1365.7L963.4 1368.9L964.1 1371.3L964.8 1364.1L965.5 1361.5L966.2 1365.8L966.9 1369.4L967.6 1371.4L968.3 1372.5L969.0 1373.3L969.7 1371.0L970.4 1368.1L971.1 1367.7L971.8 1367.7L972.5 1368.2L973.2 1367.1L973.9 1367.6L974.6 1367.1L975.3 1370.2L976.0 1373.1L976.7 1372.7L977.4 1371.3L978.1 1372.9L978.8 1377.7L979.5 1379.4L980.2 1382.6L980.9 1384.6L981.6 1386.8L982.3 1390.4L983.0 1394.1L983.7 1399.9L984.4 1407.1L985.1 1413.3L985.8 1418.4L986.5 1423.9L987.2 1425.5L987.9 1428.1L988.6 1431.0L989.3 1434.1L990.0 1436.1L990.7 1440.4L991.4 1443.5L992.1 1446.5L992.8 1442.5L993.5 1437.1L994.2 1429.9L994.9 1424.9L995.6 1424.4L996.3 1423.4L997.0 1422.6L997.7 1422.3L998.4 1421.6L999.1 1418.8L999.8 1415.7L1000.5 1410.5L1001.2 1406.8L1001.9 1401.9L1002.6 1396.9L1003.3 1394.2L1004.0 1389.9L1004.7 1387.4L1005.4 1385.7L1006.1 1385.3L1006.8 1381.9L1007.5 1380.0L1008.2 1379.8L1008.9 1382.1L1009.6 1384.4L1010.3 1384.1L1011.0 1384.9L1011.7 1385.3L1012.4 1387.3L1013.1 1390.7L1013.8 1393.4L1014.5 1396.3L1015.2 1400.4L1015.9 1403.4L1016.6 1406.2L1017.3 1409.3L1018.0 1407.8L1018.7 1407.5L1019.4 1401.4L1020.1 1397.3L1020.8 1395.7L1021.5 1393.3L1022.2 1390.1L1022.9 1387.4L1023.6 1384.9L1024.3 1383.4L1025.0 1381.8L1025.7 1380.2L1026.4 1379.0L1027.1 1377.5L1027.8 1382.7L1028.5 1377.4L1029.2 1374.2L1029.9 1374.7L1030.6 1374.6L1031.3 1375.9L1032.0 1375.0L1032.7 1374.2L1033.4 1372.8L1034.1 1372.9L1034.8 1372.6L1035.5 1373.1L1036.2 1375.1L1036.9 1376.9L1037.6 1380.4L1038.3 1383.0L1039.0 1385.1L1039.7 1389.5L1040.4 1391.0L1041.1 1387.7L1041.8 1385.9L1042.5 1384.9L1043.2 1384.6L1043.9 1384.7L1044.6 1386.2L1045.3 1385.8L1046.0 1386.4L1046.7 1390.3L1047.4 1395.6L1048.1 1399.7L1048.8 1399.4L1049.5 1396.6L1050.2 1393.0L1050.9 1389.9L1051.6 1385.8L1052.3 1382.6L1053.0 1378.0L1053.7 1375.1L1054.4 1373.2L1055.1 1369.7L1055.8 1368.0L1056.5 1365.5L1057.2 1367.5L1057.9 1369.0L1058.6 1370.8L1059.3 1369.0L1060.0 1367.2L1060.7 1370.0L1061.4 1372.1L1062.1 1374.6L1062.8 1376.1L1063.5 1377.2L1064.2 1378.1L1064.9 1375.7L1065.6 1373.4L1066.3 1374.7L1067.0 1379.7L1067.7 1381.0L1068.4 1378.4L1069.1 1375.6L1069.8 1375.1L1070.5 1377.7L1071.2 1379.7L1071.9 1379.9L1072.6 1378.5L1073.3 1377.7L1074.0 1377.8L1074.7 1379.7L1075.4 1381.3L1076.1 1382.5L1076.8 1382.6L1077.5 1383.6L1078.2 1385.1L1078.9 1387.2L1079.6 1391.2L1080.3 1397.0L1081.0 1401.6L1081.7 1406.8L1082.4 1410.4L1083.1 1413.9L1083.8 1416.9L1084.5 1413.1L1085.2 1409.1L1085.9 1406.0L1086.6 1402.1L1087.3 1398.5L1088.0 1395.2L1088.7 1393.2L1089.4 1391.1L1090.1 1389.5L1090.8 1384.9L1091.5 1382.5L1092.2 1379.9L1092.9 1377.8L1093.6 1376.1L1094.3 1373.8L1095.0 1371.8L1095.7 1371.1L1096.4 1372.7L1097.1 1374.4L1097.8 1371.3L1098.5 1368.3L1099.2 1370.8L1099.9 1374.4L1100.6 1372.9L1101.3 1371.6L1102.0 1370.6L1102.7 1372.1L1103.4 1374.4L1104.1 1378.8L1104.8 1383.3L1105.5 1381.5L1106.2 1379.9L1106.9 1378.7L1107.6 1376.1L1108.3 1373.1L1109.0 1374.7L1109.7 1376.0L1110.4 1377.9L1111.1 1377.3L1111.8 1375.9L1112.5 1374.6L1113.2 1374.1L1113.9 1372.6L1114.6 1371.7L1115.3 1371.5L1116.0 1372.4L1116.7 1372.4L1117.4 1373.5L1118.1 1370.9L1118.8 1367.9L1119.5 1365.8L1120.2 1370.4L1120.9 1375.4L1121.6 1373.0L1122.3 1370.2L1123.0 1367.2L1123.7 1366.3L1124.4 1365.9L1125.1 1366.1L1125.8 1366.2L1126.5 1367.6L1127.2 1371.4L1127.9 1374.5L1128.6 1379.6L1129.3 1381.2L1130.0 1383.0L1130.7 1384.2L1131.4 1387.0L1132.1 1390.2L1132.8 1392.1L1133.5 1390.2L1134.2 1392.2L1134.9 1396.3L1135.6 1393.6L1136.3 1391.6L1137.0 1387.7L1137.7 1383.9L1138.4 1380.5L1139.1 1374.7L1139.8 1372.3L1140.5 1374.5L1141.2 1375.5L1141.9 1376.5L1142.6 1374.2L1143.3 1374.3L1144.0 1375.6L1144.7 1376.4L1145.4 1376.2L1146.1 1371.6L1146.8 1367.6L1147.5 1373.3L1148.2 1379.4L1148.9 1375.5L1149.6 1369.8L1150.3 1372.6L1151.0 1374.8L1151.7 1378.0L1152.4 1375.9L1153.1 1374.6L1153.8 1373.0L1154.5 1373.3L1155.2 1371.8L1155.9 1372.2L1156.6 1372.6L1157.3 1371.0L1158.0 1370.4L1158.7 1370.1L1159.4 1370.7L1160.1 1372.2L1160.8 1373.6L1161.5 1371.9L1162.2 1370.6L1162.9 1368.9L1163.6 1368.7L1164.3 1368.1L1165.0 1368.2L1165.7 1366.2L1166.4 1365.7L1167.1 1367.7L1167.8 1371.4L1168.5 1373.4L1169.2 1374.9L1169.9 1373.1L1170.6 1371.5L1171.3 1370.4L1172.0 1369.8L1172.7 1370.5L1173.4 1371.2L1174.1 1370.0L1174.8 1367.6L1175.5 1365.7L1176.2 1364.5L1176.9 1369.1L1177.6 1372.7L1178.3 1374.1L1179.0 1374.8L1179.7 1376.2L1180.4 1374.8L1181.1 1371.2L1181.8 1373.6L1182.5 1377.7L1183.2 1377.8L1183.9 1376.1L1184.6 1374.2L1185.3 1373.1L1186.0 1373.6L1186.7 1374.7L1187.4 1372.5L1188.1 1371.1" fill="none" stroke="#000" stroke-width="0.4" stroke-linejoin="round"/>
<path d="M860.5 1391.3L861.2 1388.8L861.9 1385.6L862.6 1383.2L863.3 1383.7L864.0 1385.4L864.7 1387.8L865.4 1389.0L866.1 1390.2L866.8 1386.8L867.5 1385.5L868.2 1384.4L868.9 1383.1L869.6 1383.4L870.3 1383.8L871.0 1384.5L871.7 1385.7L872.4 1385.9L873.1 1386.3L873.8 1387.7L874.5 1388.3L875.2 1388.9L875.9 1388.7L876.6 1388.8L877.3 1388.6L878.0 1386.1L878.7 1383.6L879.4 1381.2L880.1 1382.4L880.8 1382.2L881.5 1382.4L882.2 1383.0L882.9 1383.5L883.6 1387.8L884.3 1394.9L885.0 1403.9L885.7 1411.9L886.4 1419.0L887.1 1426.5L887.8 1433.3L888.5 1439.7L889.2 1445.4L889.9 1451.6L890.6 1461.8L891.3 1472.0L892.0 1471.5L892.7 1471.2L893.4 1465.0L894.1 1453.0L894.8 1442.5L895.5 1431.4L896.2 1423.8L896.9 1420.0L897.6 1416.0L898.3 1413.1L899.0 1411.2L899.7 1409.9L900.4 1413.2L901.1 1414.9L901.8 1413.2L902.5 1408.9L903.2 1406.7L903.9 1404.7L904.6 1403.0L905.3 1400.5L906.0 1400.4L906.7 1399.5L907.4 1397.1L908.1 1393.5L908.8 1389.9L909.5 1387.0L910.2 1383.0L910.9 1380.4L911.6 1377.6L912.3 1376.4L913.0 1376.4L913.7 1374.6L914.4 1373.8L915.1 1373.8M922.1 1375.2L922.8 1375.7L923.5 1377.9L924.2 1380.0L924.9 1383.3L925.6 1387.0L926.3 1390.5L927.0 1394.9L927.7 1398.4L928.4 1405.7L929.1 1409.8L929.8 1414.2L930.5 1417.9L931.2 1422.4L931.9 1427.0L932.6 1432.4L933.3 1434.1L934.0 1435.8L934.7 1441.9L935.4 1440.8L936.1 1439.3L936.8 1437.4L937.5 1434.7L938.2 1433.9L938.9 1434.0L939.6 1432.6L940.3 1426.4L941.0 1413.1L941.7 1402.9L942.4 1394.8L943.1 1387.9L943.8 1383.8L944.5 1381.3L945.2 1378.2L945.9 1377.3L946.6 1377.3L947.3 1376.8L948.0 1377.2L948.7 1378.5L949.4 1377.5L950.1 1375.5L950.8 1372.3L951.5 1369.3L952.2 1373.9M978.1 1372.9L978.8 1377.7L979.5 1379.4L980.2 1382.6L980.9 1384.6L981.6 1386.8L982.3 1390.4L983.0 1394.1L983.7 1399.9L984.4 1407.1L985.1 1413.3L985.8 1418.4L986.5 1423.9L987.2 1425.5L987.9 1428.1L988.6 1431.0L989.3 1434.1L990.0 1436.1L990.7 1440.4L991.4 1443.5L992.1 1446.5L992.8 1442.5L993.5 1437.1L994.2 1429.9L994.9 1424.9L995.6 1424.4L996.3 1423.4L997.0 1422.6L997.7 1422.3L998.4 1421.6L999.1 1418.8L999.8 1415.7L1000.5 1410.5L1001.2 1406.8M1034.1 1372.9L1034.8 1372.6L1035.5 1373.1L1036.2 1375.1L1036.9 1376.9L1037.6 1380.4L1038.3 1383.0L1039.0 1385.1L1039.7 1389.5L1040.4 1391.0L1041.1 1387.7L1041.8 1385.9L1042.5 1384.9L1043.2 1384.6L1043.9 1384.7L1044.6 1386.2L1045.3 1385.8L1046.0 1386.4L1046.7 1390.3L1047.4 1395.6L1048.1 1399.7L1048.8 1399.4L1049.5 1396.6L1050.2 1393.0L1050.9 1389.9L1051.6 1385.8L1052.3 1382.6L1053.0 1378.0L1053.7 1375.1L1054.4 1373.2L1055.1 1369.7L1055.8 1368.0L1056.5 1365.5M1078.2 1385.1L1078.9 1387.2L1079.6 1391.2L1080.3 1397.0L1081.0 1401.6L1081.7 1406.8L1082.4 1410.4L1083.1 1413.9L1083.8 1416.9L1084.5 1413.1L1085.2 1409.1L1085.9 1406.0L1086.6 1402.1L1087.3 1398.5L1088.0 1395.2L1088.7 1393.2L1089.4 1391.1L1090.1 1389.5L1090.8 1384.9L1091.5 1382.5L1092.2 1379.9" fill="none" stroke="#000" stroke-width="0.8" stroke-linejoin="round"/>
<path d="M860.5 1382.4L861.2 1380.7L861.9 1378.1L862.6 1376.4L863.3 1376.9L864.0 1379.4L864.7 1382.6L865.4 1383.7L866.1 1382.5L866.8 1382.3L867.5 1382.3L868.2 1382.5L868.9 1381.8L869.6 1382.0L870.3 1381.4L871.0 1382.0L871.7 1381.5L872.4 1382.0L873.1 1383.1L873.8 1384.6L874.5 1386.1L875.2 1386.3L875.9 1386.2L876.6 1386.7L877.3 1386.3L878.0 1384.1L878.7 1381.5L879.4 1379.7L880.1 1380.6L880.8 1381.0L881.5 1380.8L882.2 1379.9L882.9 1379.0L883.6 1383.9L884.3 1390.7L885.0 1396.4L885.7 1401.3L886.4 1405.3L887.1 1406.9L887.8 1405.6L888.5 1404.1L889.2 1399.5L889.9 1395.4L890.6 1393.0L891.3 1391.3L892.0 1387.9L892.7 1385.2L893.4 1384.0L894.1 1383.5L894.8 1385.4L895.5 1388.8L896.2 1392.7L896.9 1396.2L897.6 1399.4L898.3 1400.1L899.0 1400.9L899.7 1403.8L900.4 1406.5L901.1 1408.0L901.8 1407.9L902.5 1405.0L903.2 1402.5L903.9 1399.9L904.6 1398.3L905.3 1394.9L906.0 1393.2L906.7 1391.8L907.4 1388.5L908.1 1385.9L908.8 1383.9L909.5 1382.1L910.2 1379.6L910.9 1378.0L911.6 1375.9L912.3 1374.4L913.0 1374.5L913.7 1372.2L914.4 1372.4L915.1 1373.5L915.8 1373.2L916.5 1371.9L917.2 1370.8L917.9 1372.0L918.6 1372.9L919.3 1374.3L920.0 1374.3L920.7 1374.5L921.4 1374.3L922.1 1374.9L922.8 1375.1L923.5 1376.9L924.2 1379.2L924.9 1382.6L925.6 1385.4L926.3 1387.8L927.0 1390.7L927.7 1394.5L928.4 1400.0L929.1 1403.7L929.8 1409.3L930.5 1412.4L931.2 1414.6L931.9 1416.8L932.6 1410.0L933.3 1403.9L934.0 1398.7L934.7 1394.8L935.4 1389.9L936.1 1385.7L936.8 1381.1L937.5 1378.2L938.2 1376.0L938.9 1373.8L939.6 1372.6L940.3 1371.8L941.0 1370.5L941.7 1370.6L942.4 1370.0L943.1 1371.1L943.8 1371.6L944.5 1372.8L945.2 1372.5L945.9 1373.3L946.6 1373.5L947.3 1373.6L948.0 1373.7L948.7 1374.0L949.4 1372.8L950.1 1371.3L950.8 1368.2L951.5 1369.3L952.2 1373.9L952.9 1373.0L953.6 1372.8L954.3 1372.8L955.0 1372.7L955.7 1371.7L956.4 1371.2L957.1 1371.7L957.8 1370.4L958.5 1371.0L959.2 1369.8L959.9 1371.8L960.6 1374.9L961.3 1372.3L962.0 1367.9L962.7 1365.7L963.4 1368.9L964.1 1371.3L964.8 1364.1L965.5 1361.5L966.2 1365.8L966.9 1369.4L967.6 1371.4L968.3 1372.5L969.0 1373.3L969.7 1371.0L970.4 1368.1L971.1 1367.7L971.8 1367.7L972.5 1368.2L973.2 1367.1L973.9 1367.6L974.6 1367.1L975.3 1370.2L976.0 1373.1L976.7 1372.7L977.4 1371.3L978.1 1372.5L978.8 1376.5L979.5 1378.7L980.2 1381.8L980.9 1383.3L981.6 1384.6L982.3 1386.8L983.0 1389.1L983.7 1391.6L984.4 1395.1L985.1 1397.8L985.8 1400.7L986.5 1402.7L987.2 1403.7L987.9 1402.1L988.6 1399.2L989.3 1397.4L990.0 1394.2L990.7 1393.2L991.4 1392.2L992.1 1392.5L992.8 1393.9L993.5 1394.7L994.2 1397.0L994.9 1400.6L995.6 1405.2L996.3 1410.5L997.0 1414.9L997.7 1416.9L998.4 1418.3L999.1 1416.2L999.8 1414.2L1000.5 1411.0L1001.2 1406.8L1001.9 1401.9L1002.6 1396.9L1003.3 1394.2L1004.0 1389.9L1004.7 1387.4L1005.4 1385.7L1006.1 1385.3L1006.8 1381.9L1007.5 1380.0L1008.2 1379.8L1008.9 1382.1L1009.6 1384.4L1010.3 1384.1L1011.0 1384.9L1011.7 1385.3L1012.4 1387.3L1013.1 1390.7L1013.8 1393.4L1014.5 1396.3L1015.2 1400.4L1015.9 1403.4L1016.6 1406.2L1017.3 1409.3L1018.0 1407.8L1018.7 1407.5L1019.4 1401.4L1020.1 1397.3L1020.8 1395.7L1021.5 1393.3L1022.2 1390.1L1022.9 1387.4L1023.6 1384.9L1024.3 1383.4L1025.0 1381.8L1025.7 1380.2L1026.4 1379.0L1027.1 1377.5L1027.8 1382.7L1028.5 1377.4L1029.2 1374.2L1029.9 1374.7L1030.6 1374.6L1031.3 1375.9L1032.0 1375.0L1032.7 1374.2L1033.4 1372.7L1034.1 1371.8L1034.8 1370.6L1035.5 1369.8L1036.2 1370.7L1036.9 1372.4L1037.6 1373.3L1038.3 1372.4L1039.0 1371.2L1039.7 1370.9L1040.4 1370.8L1041.1 1370.0L1041.8 1370.9L1042.5 1370.2L1043.2 1369.6L1043.9 1368.2L1044.6 1367.1L1045.3 1365.8L1046.0 1365.1L1046.7 1367.3L1047.4 1370.0L1048.1 1373.5L1048.8 1375.8L1049.5 1373.6L1050.2 1371.5L1050.9 1372.3L1051.6 1372.1L1052.3 1372.7L1053.0 1371.3L1053.7 1370.0L1054.4 1368.3L1055.1 1366.9L1055.8 1366.3L1056.5 1365.2L1057.2 1367.5L1057.9 1369.0L1058.6 1370.8L1059.3 1369.0L1060.0 1367.2L1060.7 1370.0L1061.4 1372.1L1062.1 1374.6L1062.8 1376.1L1063.5 1377.2L1064.2 1378.1L1064.9 1375.7L1065.6 1373.4L1066.3 1374.7L1067.0 1379.7L1067.7 1381.0L1068.4 1378.4L1069.1 1375.6L1069.8 1375.1L1070.5 1377.7L1071.2 1379.7L1071.9 1379.9L1072.6 1378.5L1073.3 1377.7L1074.0 1377.8L1074.7 1379.7L1075.4 1381.3L1076.1 1382.5L1076.8 1382.6L1077.5 1383.6L1078.2 1384.7L1078.9 1385.7L1079.6 1388.6L1080.3 1394.3L1081.0 1398.3L1081.7 1402.7L1082.4 1405.9L1083.1 1408.5L1083.8 1408.7L1084.5 1406.9L1085.2 1404.7L1085.9 1402.3L1086.6 1399.1L1087.3 1396.2L1088.0 1392.4L1088.7 1386.6L1089.4 1382.3L1090.1 1382.1L1090.8 1381.2L1091.5 1381.1L1092.2 1379.1L1092.9 1377.4L1093.6 1376.1L1094.3 1373.8L1095.0 1371.8L1095.7 1371.1L1096.4 1372.7L1097.1 1374.4L1097.8 1371.3L1098.5 1368.3L1099.2 1370.8L1099.9 1374.4L1100.6 1372.9L1101.3 1371.6L1102.0 1370.6L1102.7 1372.1L1103.4 1374.4L1104.1 1378.8L1104.8 1383.3L1105.5 1381.5L1106.2 1379.9L1106.9 1378.7L1107.6 1376.1L1108.3 1373.1L1109.0 1374.7L1109.7 1376.0L1110.4 1377.9L1111.1 1377.3L1111.8 1375.9L1112.5 1374.6L1113.2 1374.1L1113.9 1372.6L1114.6 1371.7L1115.3 1371.5L1116.0 1372.4L1116.7 1372.4L1117.4 1373.5L1118.1 1370.9L1118.8 1367.9L1119.5 1365.8L1120.2 1370.4L1120.9 1375.4L1121.6 1373.0L1122.3 1370.2L1123.0 1367.2L1123.7 1366.3L1124.4 1365.9L1125.1 1366.1L1125.8 1366.2L1126.5 1367.6L1127.2 1371.4L1127.9 1374.5L1128.6 1379.6L1129.3 1381.2L1130.0 1383.0L1130.7 1384.2L1131.4 1387.0L1132.1 1390.2L1132.8 1392.1L1133.5 1390.2L1134.2 1392.2L1134.9 1396.3L1135.6 1393.6L1136.3 1391.6L1137.0 1387.7L1137.7 1383.9L1138.4 1380.5L1139.1 1374.7L1139.8 1372.3L1140.5 1374.5L1141.2 1375.5L1141.9 1376.5L1142.6 1374.2L1143.3 1374.3L1144.0 1375.6L1144.7 1376.4L1145.4 1376.2L1146.1 1371.6L1146.8 1367.6L1147.5 1373.3L1148.2 1379.4L1148.9 1375.5L1149.6 1369.8L1150.3 1372.6L1151.0 1374.8L1151.7 1378.0L1152.4 1375.9L1153.1 1374.6L1153.8 1373.0L1154.5 1373.3L1155.2 1371.8L1155.9 1372.2L1156.6 1372.6L1157.3 1371.0L1158.0 1370.4L1158.7 1370.1L1159.4 1370.7L1160.1 1372.2L1160.8 1373.6L1161.5 1371.9L1162.2 1370.6L1162.9 1368.9L1163.6 1368.7L1164.3 1368.1L1165.0 1368.2L1165.7 1366.2L1166.4 1365.7L1167.1 1367.7L1167.8 1371.4L1168.5 1373.4L1169.2 1374.9L1169.9 1373.1L1170.6 1371.5L1171.3 1370.4L1172.0 1369.8L1172.7 1370.5L1173.4 1371.2L1174.1 1370.0L1174.8 1367.6L1175.5 1365.7L1176.2 1364.5L1176.9 1369.1L1177.6 1372.7L1178.3 1374.1L1179.0 1374.8L1179.7 1376.2L1180.4 1374.8L1181.1 1371.2L1181.8 1373.6L1182.5 1377.7L1183.2 1377.8L1183.9 1376.1L1184.6 1374.2L1185.3 1373.1L1186.0 1373.6L1186.7 1374.7L1187.4 1372.5L1188.1 1371.1" fill="none" stroke="#ff0000" stroke-width="0.95" stroke-linejoin="round"/>
</g>
<path d="M860.5 1520.5v4.86M942.5 1520.5v4.86M1024.5 1520.5v4.86M1106.5 1520.5v4.86M1188.5 1520.5v4.86M860.5 1514.5h-4.86M860.5 1459.5h-4.86M860.5 1404.5h-4.86M860.5 1349.5h-4.86M860.5 1294.5h-4.86M860.5 1239.5h-4.86" stroke="#000" stroke-width="1.11" fill="none"/>
<rect x="860.5" y="1235.5" width="328.0" height="285.0" fill="none" stroke="#000" stroke-width="1.11"/>
<text x="571.56" y="45.5" font-size="17.08" textLength="56.88" lengthAdjust="spacingAndGlyphs" xml:space="preserve">HD494</text>
<text x="613.81" y="405.78" font-size="14.24" textLength="33.38" lengthAdjust="spacingAndGlyphs" xml:space="preserve">Date</text>
<g transform="translate(26.12 252.81) rotate(-90)">
<text x="0" y="0" font-size="14.24" textLength="59.62" lengthAdjust="spacingAndGlyphs" xml:space="preserve">EXT SNR</text>
</g>
<text x="57.9" y="386.22" font-size="14.24" textLength="80" lengthAdjust="spacingAndGlyphs" xml:space="preserve">2025-09-15</text>
<text x="208.09" y="386.22" font-size="14.24" textLength="80" lengthAdjust="spacingAndGlyphs" xml:space="preserve">2025-10-01</text>
<text x="339.51" y="386.22" font-size="14.24" textLength="80" lengthAdjust="spacingAndGlyphs" xml:space="preserve">2025-10-15</text>
<text x="499.03" y="386.22" font-size="14.24" textLength="80.12" lengthAdjust="spacingAndGlyphs" xml:space="preserve">2025-11-01</text>
<text x="630.44" y="386.22" font-size="14.24" textLength="80.12" lengthAdjust="spacingAndGlyphs" xml:space="preserve">2025-11-15</text>
<text x="780.7" y="386.22" font-size="14.24" textLength="80" lengthAdjust="spacingAndGlyphs" xml:space="preserve">2025-12-01</text>
<text x="912.12" y="386.22" font-size="14.24" textLength="80" lengthAdjust="spacingAndGlyphs" xml:space="preserve">2025-12-15</text>
<text x="1071.63" y="386.22" font-size="14.24" textLength="80.12" lengthAdjust="spacingAndGlyphs" xml:space="preserve">2026-01-01</text>
<text x="45.15" y="349.99" font-size="14.24" textLength="17.62" lengthAdjust="spacingAndGlyphs" xml:space="preserve">60</text>
<text x="45.28" y="298.98" font-size="14.24" textLength="17.5" lengthAdjust="spacingAndGlyphs" xml:space="preserve">70</text>
<text x="45.15" y="247.98" font-size="14.24" textLength="17.62" lengthAdjust="spacingAndGlyphs" xml:space="preserve">80</text>
<text x="45.15" y="196.98" font-size="14.24" textLength="17.62" lengthAdjust="spacingAndGlyphs" xml:space="preserve">90</text>
<text x="36.4" y="145.98" font-size="14.24" textLength="26.38" lengthAdjust="spacingAndGlyphs" xml:space="preserve">100</text>
<text x="36.28" y="94.98" font-size="14.24" textLength="26.5" lengthAdjust="spacingAndGlyphs" xml:space="preserve">110</text>
<text x="528.75" y="457.17" font-size="14.24" textLength="203.5" lengthAdjust="spacingAndGlyphs" xml:space="preserve">BERV coverage = 8.150 km/s</text>
<text x="613.81" y="790.78" font-size="14.24" textLength="33.38" lengthAdjust="spacingAndGlyphs" xml:space="preserve">Date</text>
<g transform="translate(18.27 694.52) rotate(-90)">
<text x="5.13" y="0" font-size="14.24" text-anchor="middle" font-style="italic" xml:space="preserve">v</text>
<text x="9.23" y="2.3" font-size="9.97" font-style="italic" textLength="13.94" lengthAdjust="spacingAndGlyphs" xml:space="preserve">tot</text>
<text x="23.17" y="0" font-size="14.24" textLength="69.14" lengthAdjust="spacingAndGlyphs" xml:space="preserve"> [km/s] = </text>
<text x="96.42" y="0" font-size="14.24" text-anchor="middle" font-style="italic" xml:space="preserve">v</text>
<text x="100.52" y="2.3" font-size="9.97" font-style="italic" textLength="18.95" lengthAdjust="spacingAndGlyphs" xml:space="preserve">sys</text>
<text x="126.64" y="0" font-size="14.24" text-anchor="middle" xml:space="preserve">−</text>
<text x="133.81" y="0" font-size="14.24" font-style="italic" textLength="38.22" lengthAdjust="spacingAndGlyphs" xml:space="preserve">BERV</text>
</g>
<text x="57.9" y="771.22" font-size="14.24" textLength="80" lengthAdjust="spacingAndGlyphs" xml:space="preserve">2025-09-15</text>
<text x="208.09" y="771.22" font-size="14.24" textLength="80" lengthAdjust="spacingAndGlyphs" xml:space="preserve">2025-10-01</text>
<text x="339.51" y="771.22" font-size="14.24" textLength="80" lengthAdjust="spacingAndGlyphs" xml:space="preserve">2025-10-15</text>
<text x="499.03" y="771.22" font-size="14.24" textLength="80.12" lengthAdjust="spacingAndGlyphs" xml:space="preserve">2025-11-01</text>
<text x="630.44" y="771.22" font-size="14.24" textLength="80.12" lengthAdjust="spacingAndGlyphs" xml:space="preserve">2025-11-15</text>
<text x="780.7" y="771.22" font-size="14.24" textLength="80" lengthAdjust="spacingAndGlyphs" xml:space="preserve">2025-12-01</text>
<text x="912.12" y="771.22" font-size="14.24" textLength="80" lengthAdjust="spacingAndGlyphs" xml:space="preserve">2025-12-15</text>
<text x="1071.63" y="771.22" font-size="14.24" textLength="80.12" lengthAdjust="spacingAndGlyphs" xml:space="preserve">2026-01-01</text>
<text x="33.65" y="711.98" font-size="14.24" textLength="29.12" lengthAdjust="spacingAndGlyphs" xml:space="preserve">−70</text>
<text x="33.53" y="662.74" font-size="14.24" textLength="29.25" lengthAdjust="spacingAndGlyphs" xml:space="preserve">−65</text>
<text x="33.53" y="613.5" font-size="14.24" textLength="29.25" lengthAdjust="spacingAndGlyphs" xml:space="preserve">−60</text>
<text x="33.65" y="564.26" font-size="14.24" textLength="29.12" lengthAdjust="spacingAndGlyphs" xml:space="preserve">−55</text>
<text x="33.65" y="515.02" font-size="14.24" textLength="29.12" lengthAdjust="spacingAndGlyphs" xml:space="preserve">−50</text>
<text x="219" y="842.17" font-size="14.24" textLength="367.19" lengthAdjust="spacingAndGlyphs" xml:space="preserve">Spectrum closest to Median SNR[Order 60 (#89 1.63</text>
<text x="590.61" y="842.17" font-size="14.24" text-anchor="middle" font-style="italic" xml:space="preserve">μ</text>
<text x="595.02" y="842.17" font-size="14.24" textLength="24.41" lengthAdjust="spacingAndGlyphs" xml:space="preserve">m)]</text>
<text x="641.53" y="842.17" font-size="14.24" textLength="81.84" lengthAdjust="spacingAndGlyphs" xml:space="preserve">SNR:105.32</text>
<text x="745.48" y="842.17" font-size="14.24" textLength="296.52" lengthAdjust="spacingAndGlyphs" xml:space="preserve">File: NIRPS_2025-09-30T05_00_22_840.fits</text>
<text x="570.44" y="1175.78" font-size="14.24" textLength="120.12" lengthAdjust="spacingAndGlyphs" xml:space="preserve">Wavelength [nm]</text>
<g transform="translate(22.97 1007.44) rotate(-90)">
<text x="0" y="0" font-size="14.24" textLength="28.88" lengthAdjust="spacingAndGlyphs" xml:space="preserve">Flux</text>
</g>
<text x="75.24" y="1156.22" font-size="14.24" textLength="35.12" lengthAdjust="spacingAndGlyphs" xml:space="preserve">1000</text>
<text x="210.43" y="1156.22" font-size="14.24" textLength="35.25" lengthAdjust="spacingAndGlyphs" xml:space="preserve">1100</text>
<text x="345.74" y="1156.22" font-size="14.24" textLength="35.12" lengthAdjust="spacingAndGlyphs" xml:space="preserve">1200</text>
<text x="480.99" y="1156.22" font-size="14.24" textLength="35.12" lengthAdjust="spacingAndGlyphs" xml:space="preserve">1300</text>
<text x="616.24" y="1156.22" font-size="14.24" textLength="35.12" lengthAdjust="spacingAndGlyphs" xml:space="preserve">1400</text>
<text x="751.49" y="1156.22" font-size="14.24" textLength="35.12" lengthAdjust="spacingAndGlyphs" xml:space="preserve">1500</text>
<text x="886.67" y="1156.22" font-size="14.24" textLength="35.25" lengthAdjust="spacingAndGlyphs" xml:space="preserve">1600</text>
<text x="1021.99" y="1156.22" font-size="14.24" textLength="35.12" lengthAdjust="spacingAndGlyphs" xml:space="preserve">1700</text>
<text x="1157.17" y="1156.22" font-size="14.24" textLength="35.25" lengthAdjust="spacingAndGlyphs" xml:space="preserve">1800</text>
<text x="32.15" y="1141" font-size="14.24" textLength="30.62" lengthAdjust="spacingAndGlyphs" xml:space="preserve">0.00</text>
<text x="32.03" y="1101.72" font-size="14.24" textLength="30.75" lengthAdjust="spacingAndGlyphs" xml:space="preserve">0.01</text>
<text x="32.15" y="1062.43" font-size="14.24" textLength="30.62" lengthAdjust="spacingAndGlyphs" xml:space="preserve">0.02</text>
<text x="32.15" y="1023.15" font-size="14.24" textLength="30.62" lengthAdjust="spacingAndGlyphs" xml:space="preserve">0.03</text>
<text x="32.15" y="983.87" font-size="14.24" textLength="30.62" lengthAdjust="spacingAndGlyphs" xml:space="preserve">0.04</text>
<text x="32.15" y="944.58" font-size="14.24" textLength="30.62" lengthAdjust="spacingAndGlyphs" xml:space="preserve">0.05</text>
<text x="32.03" y="905.3" font-size="14.24" textLength="30.75" lengthAdjust="spacingAndGlyphs" xml:space="preserve">0.06</text>
<text x="32.15" y="866.02" font-size="14.24" textLength="30.62" lengthAdjust="spacingAndGlyphs" xml:space="preserve">0.07</text>
<text x="209.88" y="1227.17" font-size="14.24" textLength="53.25" lengthAdjust="spacingAndGlyphs" xml:space="preserve">Zoom 1</text>
<text x="176.44" y="1560.78" font-size="14.24" textLength="120.12" lengthAdjust="spacingAndGlyphs" xml:space="preserve">Wavelength [nm]</text>
<g transform="translate(22.97 1392.44) rotate(-90)">
<text x="0" y="0" font-size="14.24" textLength="28.88" lengthAdjust="spacingAndGlyphs" xml:space="preserve">Flux</text>
</g>
<text x="48.31" y="1541.22" font-size="14.24" textLength="48.38" lengthAdjust="spacingAndGlyphs" xml:space="preserve">1082.0</text>
<text x="102.98" y="1541.22" font-size="14.24" textLength="48.38" lengthAdjust="spacingAndGlyphs" xml:space="preserve">1082.5</text>
<text x="157.65" y="1541.22" font-size="14.24" textLength="48.38" lengthAdjust="spacingAndGlyphs" xml:space="preserve">1083.0</text>
<text x="212.31" y="1541.22" font-size="14.24" textLength="48.38" lengthAdjust="spacingAndGlyphs" xml:space="preserve">1083.5</text>
<text x="266.98" y="1541.22" font-size="14.24" textLength="48.38" lengthAdjust="spacingAndGlyphs" xml:space="preserve">1084.0</text>
<text x="321.65" y="1541.22" font-size="14.24" textLength="48.38" lengthAdjust="spacingAndGlyphs" xml:space="preserve">1084.5</text>
<text x="376.31" y="1541.22" font-size="14.24" textLength="48.38" lengthAdjust="spacingAndGlyphs" xml:space="preserve">1085.0</text>
<text x="32.15" y="1494.39" font-size="14.24" textLength="30.62" lengthAdjust="spacingAndGlyphs" xml:space="preserve">0.02</text>
<text x="32.15" y="1440.82" font-size="14.24" textLength="30.62" lengthAdjust="spacingAndGlyphs" xml:space="preserve">0.03</text>
<text x="32.15" y="1387.25" font-size="14.24" textLength="30.62" lengthAdjust="spacingAndGlyphs" xml:space="preserve">0.04</text>
<text x="32.15" y="1333.68" font-size="14.24" textLength="30.62" lengthAdjust="spacingAndGlyphs" xml:space="preserve">0.05</text>
<text x="32.03" y="1280.11" font-size="14.24" textLength="30.75" lengthAdjust="spacingAndGlyphs" xml:space="preserve">0.06</text>
<text x="603.94" y="1227.17" font-size="14.24" textLength="53.12" lengthAdjust="spacingAndGlyphs" xml:space="preserve">Zoom 2</text>
<text x="570.44" y="1560.78" font-size="14.24" textLength="120.12" lengthAdjust="spacingAndGlyphs" xml:space="preserve">Wavelength [nm]</text>
<text x="448.94" y="1541.22" font-size="14.24" textLength="35.12" lengthAdjust="spacingAndGlyphs" xml:space="preserve">1575</text>
<text x="514.48" y="1541.22" font-size="14.24" textLength="35.25" lengthAdjust="spacingAndGlyphs" xml:space="preserve">1576</text>
<text x="580.14" y="1541.22" font-size="14.24" textLength="35.12" lengthAdjust="spacingAndGlyphs" xml:space="preserve">1577</text>
<text x="645.68" y="1541.22" font-size="14.24" textLength="35.25" lengthAdjust="spacingAndGlyphs" xml:space="preserve">1578</text>
<text x="711.28" y="1541.22" font-size="14.24" textLength="35.25" lengthAdjust="spacingAndGlyphs" xml:space="preserve">1579</text>
<text x="776.88" y="1541.22" font-size="14.24" textLength="35.25" lengthAdjust="spacingAndGlyphs" xml:space="preserve">1580</text>
<text x="426.15" y="1488.18" font-size="14.24" textLength="30.62" lengthAdjust="spacingAndGlyphs" xml:space="preserve">0.02</text>
<text x="426.15" y="1433.38" font-size="14.24" textLength="30.62" lengthAdjust="spacingAndGlyphs" xml:space="preserve">0.03</text>
<text x="426.15" y="1378.57" font-size="14.24" textLength="30.62" lengthAdjust="spacingAndGlyphs" xml:space="preserve">0.04</text>
<text x="426.15" y="1323.76" font-size="14.24" textLength="30.62" lengthAdjust="spacingAndGlyphs" xml:space="preserve">0.05</text>
<text x="426.03" y="1268.95" font-size="14.24" textLength="30.75" lengthAdjust="spacingAndGlyphs" xml:space="preserve">0.06</text>
<text x="997.94" y="1227.17" font-size="14.24" textLength="53.12" lengthAdjust="spacingAndGlyphs" xml:space="preserve">Zoom 3</text>
<text x="964.44" y="1560.78" font-size="14.24" textLength="120.12" lengthAdjust="spacingAndGlyphs" xml:space="preserve">Wavelength [nm]</text>
<text x="836.19" y="1541.22" font-size="14.24" textLength="48.62" lengthAdjust="spacingAndGlyphs" xml:space="preserve">1666.0</text>
<text x="918.19" y="1541.22" font-size="14.24" textLength="48.62" lengthAdjust="spacingAndGlyphs" xml:space="preserve">1666.5</text>
<text x="1000.25" y="1541.22" font-size="14.24" textLength="48.5" lengthAdjust="spacingAndGlyphs" xml:space="preserve">1667.0</text>
<text x="1082.25" y="1541.22" font-size="14.24" textLength="48.5" lengthAdjust="spacingAndGlyphs" xml:space="preserve">1667.5</text>
<text x="1164.19" y="1541.22" font-size="14.24" textLength="48.62" lengthAdjust="spacingAndGlyphs" xml:space="preserve">1668.0</text>
<text x="820.15" y="1519.95" font-size="14.24" textLength="30.62" lengthAdjust="spacingAndGlyphs" xml:space="preserve">0.02</text>
<text x="820.15" y="1464.93" font-size="14.24" textLength="30.62" lengthAdjust="spacingAndGlyphs" xml:space="preserve">0.03</text>
<text x="820.15" y="1409.91" font-size="14.24" textLength="30.62" lengthAdjust="spacingAndGlyphs" xml:space="preserve">0.04</text>
<text x="820.15" y="1354.89" font-size="14.24" textLength="30.62" lengthAdjust="spacingAndGlyphs" xml:space="preserve">0.05</text>
<text x="820.03" y="1299.87" font-size="14.24" textLength="30.75" lengthAdjust="spacingAndGlyphs" xml:space="preserve">0.06</text>
<text x="820.15" y="1244.85" font-size="14.24" textLength="30.62" lengthAdjust="spacingAndGlyphs" xml:space="preserve">0.07</text>
<text x="693.54" y="106" font-size="14.24" textLength="178.34" lengthAdjust="spacingAndGlyphs" xml:space="preserve">SNR[Order 15 (#134 1.08</text>
<text x="876.3" y="106" font-size="14.24" text-anchor="middle" font-style="italic" xml:space="preserve">μ</text>
<text x="880.71" y="106" font-size="14.24" textLength="24.83" lengthAdjust="spacingAndGlyphs" xml:space="preserve">m)]</text>
<text x="972.71" y="106" font-size="14.24" textLength="169.51" lengthAdjust="spacingAndGlyphs" xml:space="preserve">SNR[Order 60 (#89 1.63</text>
<text x="1146.64" y="106" font-size="14.24" text-anchor="middle" font-style="italic" xml:space="preserve">μ</text>
<text x="1151.05" y="106" font-size="14.24" textLength="24.66" lengthAdjust="spacingAndGlyphs" xml:space="preserve">m)]</text>
<text x="113.61" y="685.43" font-size="11.39" textLength="157.25" lengthAdjust="spacingAndGlyphs" xml:space="preserve">Passed all QC (PP to TCORR)</text>
<text x="113.61" y="700.99" font-size="11.39" textLength="85.88" lengthAdjust="spacingAndGlyphs" xml:space="preserve">Failed QC (EXT)</text>
<text x="113.61" y="716.54" font-size="11.39" textLength="102.88" lengthAdjust="spacingAndGlyphs" xml:space="preserve">Failed QC (TCORR)</text>
<text x="117.44" y="734.42" font-size="11.39" text-anchor="middle" font-style="italic" xml:space="preserve">v</text>
<text x="120.73" y="736.22" font-size="7.97" font-style="italic" textLength="13.02" lengthAdjust="spacingAndGlyphs" xml:space="preserve">sys</text>
<text x="133.76" y="734.42" font-size="11.39" textLength="98.39" lengthAdjust="spacingAndGlyphs" xml:space="preserve"> = -49.109 [km/s]</text>
<text x="123.89" y="874" font-size="14.24" textLength="139" lengthAdjust="spacingAndGlyphs" xml:space="preserve">Extracted Spectrum</text>
<text x="329.56" y="874" font-size="14.24" textLength="121" lengthAdjust="spacingAndGlyphs" xml:space="preserve">Telluric Corrected</text>
</svg>
</body></html>
